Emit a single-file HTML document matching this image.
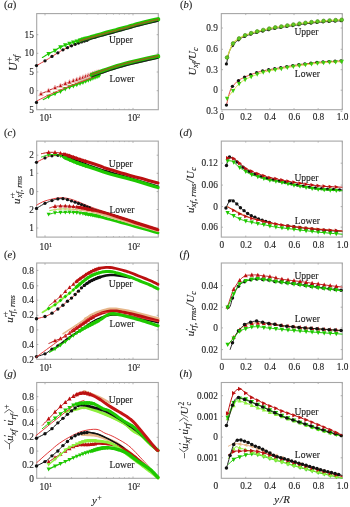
<!DOCTYPE html>
<html><head><meta charset="utf-8"><style>
html,body{margin:0;padding:0;background:#fff;}
svg{display:block;filter:blur(0.35px);}
text{font-family:"Liberation Serif",serif;fill:#1c1c1c;stroke:#1c1c1c;stroke-width:0.12px;}
</style></head><body>
<svg width="350" height="507" viewBox="0 0 350 507">
<rect width="350" height="507" fill="#fff"/>
<rect x="36.7" y="13.6" width="121.60000000000001" height="96.10000000000001" fill="none" stroke="#a6a6a6" stroke-width="1.1"/><rect x="221.3" y="13.6" width="121.0" height="96.10000000000001" fill="none" stroke="#a6a6a6" stroke-width="1.1"/><line x1="45.00" y1="109.7" x2="45.00" y2="107.9" stroke="#a6a6a6" stroke-width="0.8"/><line x1="45.00" y1="13.6" x2="45.00" y2="15.4" stroke="#a6a6a6" stroke-width="0.8"/><line x1="71.49" y1="109.7" x2="71.49" y2="108.7" stroke="#a6a6a6" stroke-width="0.8"/><line x1="71.49" y1="13.6" x2="71.49" y2="14.6" stroke="#a6a6a6" stroke-width="0.8"/><line x1="86.99" y1="109.7" x2="86.99" y2="108.7" stroke="#a6a6a6" stroke-width="0.8"/><line x1="86.99" y1="13.6" x2="86.99" y2="14.6" stroke="#a6a6a6" stroke-width="0.8"/><line x1="97.98" y1="109.7" x2="97.98" y2="108.7" stroke="#a6a6a6" stroke-width="0.8"/><line x1="97.98" y1="13.6" x2="97.98" y2="14.6" stroke="#a6a6a6" stroke-width="0.8"/><line x1="106.51" y1="109.7" x2="106.51" y2="108.7" stroke="#a6a6a6" stroke-width="0.8"/><line x1="106.51" y1="13.6" x2="106.51" y2="14.6" stroke="#a6a6a6" stroke-width="0.8"/><line x1="113.48" y1="109.7" x2="113.48" y2="108.7" stroke="#a6a6a6" stroke-width="0.8"/><line x1="113.48" y1="13.6" x2="113.48" y2="14.6" stroke="#a6a6a6" stroke-width="0.8"/><line x1="119.37" y1="109.7" x2="119.37" y2="108.7" stroke="#a6a6a6" stroke-width="0.8"/><line x1="119.37" y1="13.6" x2="119.37" y2="14.6" stroke="#a6a6a6" stroke-width="0.8"/><line x1="124.47" y1="109.7" x2="124.47" y2="108.7" stroke="#a6a6a6" stroke-width="0.8"/><line x1="124.47" y1="13.6" x2="124.47" y2="14.6" stroke="#a6a6a6" stroke-width="0.8"/><line x1="128.97" y1="109.7" x2="128.97" y2="108.7" stroke="#a6a6a6" stroke-width="0.8"/><line x1="128.97" y1="13.6" x2="128.97" y2="14.6" stroke="#a6a6a6" stroke-width="0.8"/><line x1="133.00" y1="109.7" x2="133.00" y2="107.9" stroke="#a6a6a6" stroke-width="0.8"/><line x1="133.00" y1="13.6" x2="133.00" y2="15.4" stroke="#a6a6a6" stroke-width="0.8"/><line x1="245.74" y1="109.7" x2="245.74" y2="108.2" stroke="#a6a6a6" stroke-width="0.8"/><line x1="245.74" y1="13.6" x2="245.74" y2="15.1" stroke="#a6a6a6" stroke-width="0.8"/><line x1="269.88" y1="109.7" x2="269.88" y2="108.2" stroke="#a6a6a6" stroke-width="0.8"/><line x1="269.88" y1="13.6" x2="269.88" y2="15.1" stroke="#a6a6a6" stroke-width="0.8"/><line x1="294.02" y1="109.7" x2="294.02" y2="108.2" stroke="#a6a6a6" stroke-width="0.8"/><line x1="294.02" y1="13.6" x2="294.02" y2="15.1" stroke="#a6a6a6" stroke-width="0.8"/><line x1="318.16" y1="109.7" x2="318.16" y2="108.2" stroke="#a6a6a6" stroke-width="0.8"/><line x1="318.16" y1="13.6" x2="318.16" y2="15.1" stroke="#a6a6a6" stroke-width="0.8"/><line x1="342.30" y1="109.7" x2="342.30" y2="108.2" stroke="#a6a6a6" stroke-width="0.8"/><line x1="342.30" y1="13.6" x2="342.30" y2="15.1" stroke="#a6a6a6" stroke-width="0.8"/><rect x="36.7" y="141.1" width="121.60000000000001" height="96.0" fill="none" stroke="#a6a6a6" stroke-width="1.1"/><rect x="221.3" y="141.1" width="121.0" height="96.0" fill="none" stroke="#a6a6a6" stroke-width="1.1"/><line x1="45.00" y1="237.1" x2="45.00" y2="235.29999999999998" stroke="#a6a6a6" stroke-width="0.8"/><line x1="45.00" y1="141.1" x2="45.00" y2="142.9" stroke="#a6a6a6" stroke-width="0.8"/><line x1="71.49" y1="237.1" x2="71.49" y2="236.1" stroke="#a6a6a6" stroke-width="0.8"/><line x1="71.49" y1="141.1" x2="71.49" y2="142.1" stroke="#a6a6a6" stroke-width="0.8"/><line x1="86.99" y1="237.1" x2="86.99" y2="236.1" stroke="#a6a6a6" stroke-width="0.8"/><line x1="86.99" y1="141.1" x2="86.99" y2="142.1" stroke="#a6a6a6" stroke-width="0.8"/><line x1="97.98" y1="237.1" x2="97.98" y2="236.1" stroke="#a6a6a6" stroke-width="0.8"/><line x1="97.98" y1="141.1" x2="97.98" y2="142.1" stroke="#a6a6a6" stroke-width="0.8"/><line x1="106.51" y1="237.1" x2="106.51" y2="236.1" stroke="#a6a6a6" stroke-width="0.8"/><line x1="106.51" y1="141.1" x2="106.51" y2="142.1" stroke="#a6a6a6" stroke-width="0.8"/><line x1="113.48" y1="237.1" x2="113.48" y2="236.1" stroke="#a6a6a6" stroke-width="0.8"/><line x1="113.48" y1="141.1" x2="113.48" y2="142.1" stroke="#a6a6a6" stroke-width="0.8"/><line x1="119.37" y1="237.1" x2="119.37" y2="236.1" stroke="#a6a6a6" stroke-width="0.8"/><line x1="119.37" y1="141.1" x2="119.37" y2="142.1" stroke="#a6a6a6" stroke-width="0.8"/><line x1="124.47" y1="237.1" x2="124.47" y2="236.1" stroke="#a6a6a6" stroke-width="0.8"/><line x1="124.47" y1="141.1" x2="124.47" y2="142.1" stroke="#a6a6a6" stroke-width="0.8"/><line x1="128.97" y1="237.1" x2="128.97" y2="236.1" stroke="#a6a6a6" stroke-width="0.8"/><line x1="128.97" y1="141.1" x2="128.97" y2="142.1" stroke="#a6a6a6" stroke-width="0.8"/><line x1="133.00" y1="237.1" x2="133.00" y2="235.29999999999998" stroke="#a6a6a6" stroke-width="0.8"/><line x1="133.00" y1="141.1" x2="133.00" y2="142.9" stroke="#a6a6a6" stroke-width="0.8"/><line x1="245.74" y1="237.1" x2="245.74" y2="235.6" stroke="#a6a6a6" stroke-width="0.8"/><line x1="245.74" y1="141.1" x2="245.74" y2="142.6" stroke="#a6a6a6" stroke-width="0.8"/><line x1="269.88" y1="237.1" x2="269.88" y2="235.6" stroke="#a6a6a6" stroke-width="0.8"/><line x1="269.88" y1="141.1" x2="269.88" y2="142.6" stroke="#a6a6a6" stroke-width="0.8"/><line x1="294.02" y1="237.1" x2="294.02" y2="235.6" stroke="#a6a6a6" stroke-width="0.8"/><line x1="294.02" y1="141.1" x2="294.02" y2="142.6" stroke="#a6a6a6" stroke-width="0.8"/><line x1="318.16" y1="237.1" x2="318.16" y2="235.6" stroke="#a6a6a6" stroke-width="0.8"/><line x1="318.16" y1="141.1" x2="318.16" y2="142.6" stroke="#a6a6a6" stroke-width="0.8"/><line x1="342.30" y1="237.1" x2="342.30" y2="235.6" stroke="#a6a6a6" stroke-width="0.8"/><line x1="342.30" y1="141.1" x2="342.30" y2="142.6" stroke="#a6a6a6" stroke-width="0.8"/><rect x="36.7" y="263.0" width="121.60000000000001" height="96.30000000000001" fill="none" stroke="#a6a6a6" stroke-width="1.1"/><rect x="221.3" y="263.0" width="121.0" height="96.30000000000001" fill="none" stroke="#a6a6a6" stroke-width="1.1"/><line x1="45.00" y1="359.3" x2="45.00" y2="357.5" stroke="#a6a6a6" stroke-width="0.8"/><line x1="45.00" y1="263.0" x2="45.00" y2="264.8" stroke="#a6a6a6" stroke-width="0.8"/><line x1="71.49" y1="359.3" x2="71.49" y2="358.3" stroke="#a6a6a6" stroke-width="0.8"/><line x1="71.49" y1="263.0" x2="71.49" y2="264.0" stroke="#a6a6a6" stroke-width="0.8"/><line x1="86.99" y1="359.3" x2="86.99" y2="358.3" stroke="#a6a6a6" stroke-width="0.8"/><line x1="86.99" y1="263.0" x2="86.99" y2="264.0" stroke="#a6a6a6" stroke-width="0.8"/><line x1="97.98" y1="359.3" x2="97.98" y2="358.3" stroke="#a6a6a6" stroke-width="0.8"/><line x1="97.98" y1="263.0" x2="97.98" y2="264.0" stroke="#a6a6a6" stroke-width="0.8"/><line x1="106.51" y1="359.3" x2="106.51" y2="358.3" stroke="#a6a6a6" stroke-width="0.8"/><line x1="106.51" y1="263.0" x2="106.51" y2="264.0" stroke="#a6a6a6" stroke-width="0.8"/><line x1="113.48" y1="359.3" x2="113.48" y2="358.3" stroke="#a6a6a6" stroke-width="0.8"/><line x1="113.48" y1="263.0" x2="113.48" y2="264.0" stroke="#a6a6a6" stroke-width="0.8"/><line x1="119.37" y1="359.3" x2="119.37" y2="358.3" stroke="#a6a6a6" stroke-width="0.8"/><line x1="119.37" y1="263.0" x2="119.37" y2="264.0" stroke="#a6a6a6" stroke-width="0.8"/><line x1="124.47" y1="359.3" x2="124.47" y2="358.3" stroke="#a6a6a6" stroke-width="0.8"/><line x1="124.47" y1="263.0" x2="124.47" y2="264.0" stroke="#a6a6a6" stroke-width="0.8"/><line x1="128.97" y1="359.3" x2="128.97" y2="358.3" stroke="#a6a6a6" stroke-width="0.8"/><line x1="128.97" y1="263.0" x2="128.97" y2="264.0" stroke="#a6a6a6" stroke-width="0.8"/><line x1="133.00" y1="359.3" x2="133.00" y2="357.5" stroke="#a6a6a6" stroke-width="0.8"/><line x1="133.00" y1="263.0" x2="133.00" y2="264.8" stroke="#a6a6a6" stroke-width="0.8"/><line x1="245.74" y1="359.3" x2="245.74" y2="357.8" stroke="#a6a6a6" stroke-width="0.8"/><line x1="245.74" y1="263.0" x2="245.74" y2="264.5" stroke="#a6a6a6" stroke-width="0.8"/><line x1="269.88" y1="359.3" x2="269.88" y2="357.8" stroke="#a6a6a6" stroke-width="0.8"/><line x1="269.88" y1="263.0" x2="269.88" y2="264.5" stroke="#a6a6a6" stroke-width="0.8"/><line x1="294.02" y1="359.3" x2="294.02" y2="357.8" stroke="#a6a6a6" stroke-width="0.8"/><line x1="294.02" y1="263.0" x2="294.02" y2="264.5" stroke="#a6a6a6" stroke-width="0.8"/><line x1="318.16" y1="359.3" x2="318.16" y2="357.8" stroke="#a6a6a6" stroke-width="0.8"/><line x1="318.16" y1="263.0" x2="318.16" y2="264.5" stroke="#a6a6a6" stroke-width="0.8"/><line x1="342.30" y1="359.3" x2="342.30" y2="357.8" stroke="#a6a6a6" stroke-width="0.8"/><line x1="342.30" y1="263.0" x2="342.30" y2="264.5" stroke="#a6a6a6" stroke-width="0.8"/><rect x="36.7" y="382.5" width="121.60000000000001" height="95.80000000000001" fill="none" stroke="#a6a6a6" stroke-width="1.1"/><rect x="221.3" y="382.5" width="121.0" height="95.80000000000001" fill="none" stroke="#a6a6a6" stroke-width="1.1"/><line x1="45.00" y1="478.3" x2="45.00" y2="476.5" stroke="#a6a6a6" stroke-width="0.8"/><line x1="45.00" y1="382.5" x2="45.00" y2="384.3" stroke="#a6a6a6" stroke-width="0.8"/><line x1="71.49" y1="478.3" x2="71.49" y2="477.3" stroke="#a6a6a6" stroke-width="0.8"/><line x1="71.49" y1="382.5" x2="71.49" y2="383.5" stroke="#a6a6a6" stroke-width="0.8"/><line x1="86.99" y1="478.3" x2="86.99" y2="477.3" stroke="#a6a6a6" stroke-width="0.8"/><line x1="86.99" y1="382.5" x2="86.99" y2="383.5" stroke="#a6a6a6" stroke-width="0.8"/><line x1="97.98" y1="478.3" x2="97.98" y2="477.3" stroke="#a6a6a6" stroke-width="0.8"/><line x1="97.98" y1="382.5" x2="97.98" y2="383.5" stroke="#a6a6a6" stroke-width="0.8"/><line x1="106.51" y1="478.3" x2="106.51" y2="477.3" stroke="#a6a6a6" stroke-width="0.8"/><line x1="106.51" y1="382.5" x2="106.51" y2="383.5" stroke="#a6a6a6" stroke-width="0.8"/><line x1="113.48" y1="478.3" x2="113.48" y2="477.3" stroke="#a6a6a6" stroke-width="0.8"/><line x1="113.48" y1="382.5" x2="113.48" y2="383.5" stroke="#a6a6a6" stroke-width="0.8"/><line x1="119.37" y1="478.3" x2="119.37" y2="477.3" stroke="#a6a6a6" stroke-width="0.8"/><line x1="119.37" y1="382.5" x2="119.37" y2="383.5" stroke="#a6a6a6" stroke-width="0.8"/><line x1="124.47" y1="478.3" x2="124.47" y2="477.3" stroke="#a6a6a6" stroke-width="0.8"/><line x1="124.47" y1="382.5" x2="124.47" y2="383.5" stroke="#a6a6a6" stroke-width="0.8"/><line x1="128.97" y1="478.3" x2="128.97" y2="477.3" stroke="#a6a6a6" stroke-width="0.8"/><line x1="128.97" y1="382.5" x2="128.97" y2="383.5" stroke="#a6a6a6" stroke-width="0.8"/><line x1="133.00" y1="478.3" x2="133.00" y2="476.5" stroke="#a6a6a6" stroke-width="0.8"/><line x1="133.00" y1="382.5" x2="133.00" y2="384.3" stroke="#a6a6a6" stroke-width="0.8"/><line x1="245.74" y1="478.3" x2="245.74" y2="476.8" stroke="#a6a6a6" stroke-width="0.8"/><line x1="245.74" y1="382.5" x2="245.74" y2="384.0" stroke="#a6a6a6" stroke-width="0.8"/><line x1="269.88" y1="478.3" x2="269.88" y2="476.8" stroke="#a6a6a6" stroke-width="0.8"/><line x1="269.88" y1="382.5" x2="269.88" y2="384.0" stroke="#a6a6a6" stroke-width="0.8"/><line x1="294.02" y1="478.3" x2="294.02" y2="476.8" stroke="#a6a6a6" stroke-width="0.8"/><line x1="294.02" y1="382.5" x2="294.02" y2="384.0" stroke="#a6a6a6" stroke-width="0.8"/><line x1="318.16" y1="478.3" x2="318.16" y2="476.8" stroke="#a6a6a6" stroke-width="0.8"/><line x1="318.16" y1="382.5" x2="318.16" y2="384.0" stroke="#a6a6a6" stroke-width="0.8"/><line x1="342.30" y1="478.3" x2="342.30" y2="476.8" stroke="#a6a6a6" stroke-width="0.8"/><line x1="342.30" y1="382.5" x2="342.30" y2="384.0" stroke="#a6a6a6" stroke-width="0.8"/><text x="39.6" y="121.4" font-size="9.3">10<tspan dy="-3.3" font-size="6.2">1</tspan></text><text x="127.8" y="121.4" font-size="9.3">10<tspan dy="-3.3" font-size="6.2">2</tspan></text><text x="221.8" y="120.2" font-size="9.3" text-anchor="middle" >0</text><text x="246.04000000000002" y="120.2" font-size="9.3" text-anchor="middle" >0.2</text><text x="270.18" y="120.2" font-size="9.3" text-anchor="middle" >0.4</text><text x="294.32" y="120.2" font-size="9.3" text-anchor="middle" >0.6</text><text x="318.46" y="120.2" font-size="9.3" text-anchor="middle" >0.8</text><text x="342.6" y="120.2" font-size="9.3" text-anchor="middle" >1.0</text><text x="39.6" y="249.9" font-size="9.3">10<tspan dy="-3.3" font-size="6.2">1</tspan></text><text x="127.8" y="249.9" font-size="9.3">10<tspan dy="-3.3" font-size="6.2">2</tspan></text><text x="221.8" y="247.6" font-size="9.3" text-anchor="middle" >0</text><text x="246.04000000000002" y="247.6" font-size="9.3" text-anchor="middle" >0.2</text><text x="270.18" y="247.6" font-size="9.3" text-anchor="middle" >0.4</text><text x="294.32" y="247.6" font-size="9.3" text-anchor="middle" >0.6</text><text x="318.46" y="247.6" font-size="9.3" text-anchor="middle" >0.8</text><text x="342.6" y="247.6" font-size="9.3" text-anchor="middle" >1.0</text><text x="39.6" y="371.1" font-size="9.3">10<tspan dy="-3.3" font-size="6.2">1</tspan></text><text x="127.8" y="371.1" font-size="9.3">10<tspan dy="-3.3" font-size="6.2">2</tspan></text><text x="221.8" y="370.0" font-size="9.3" text-anchor="middle" >0</text><text x="246.04000000000002" y="370.0" font-size="9.3" text-anchor="middle" >0.2</text><text x="270.18" y="370.0" font-size="9.3" text-anchor="middle" >0.4</text><text x="294.32" y="370.0" font-size="9.3" text-anchor="middle" >0.6</text><text x="318.46" y="370.0" font-size="9.3" text-anchor="middle" >0.8</text><text x="342.6" y="370.0" font-size="9.3" text-anchor="middle" >1.0</text><text x="39.6" y="490.3" font-size="9.3">10<tspan dy="-3.3" font-size="6.2">1</tspan></text><text x="127.8" y="490.3" font-size="9.3">10<tspan dy="-3.3" font-size="6.2">2</tspan></text><text x="215.8" y="488.6" font-size="9.3" text-anchor="middle" >0</text><text x="246.04000000000002" y="488.6" font-size="9.3" text-anchor="middle" >0.2</text><text x="270.18" y="488.6" font-size="9.3" text-anchor="middle" >0.4</text><text x="294.32" y="488.6" font-size="9.3" text-anchor="middle" >0.6</text><text x="318.46" y="488.6" font-size="9.3" text-anchor="middle" >0.8</text><text x="342.6" y="488.6" font-size="9.3" text-anchor="middle" >1.0</text><text x="3.9" y="7.7" font-size="10.6">(<tspan font-style="italic">a</tspan>)</text><text x="179.9" y="7.7" font-size="10.6">(<tspan font-style="italic">b</tspan>)</text><text x="3.9" y="135.8" font-size="10.6">(<tspan font-style="italic">c</tspan>)</text><text x="179.6" y="135.8" font-size="10.6">(<tspan font-style="italic">d</tspan>)</text><text x="3.9" y="257.5" font-size="10.6">(<tspan font-style="italic">e</tspan>)</text><text x="179.6" y="257.5" font-size="10.6">(<tspan font-style="italic">f</tspan>)</text><text x="3.9" y="376.8" font-size="10.6">(<tspan font-style="italic">g</tspan>)</text><text x="179.6" y="376.8" font-size="10.6">(<tspan font-style="italic">h</tspan>)</text><text x="33.8" y="37.800000000000004" font-size="9.3" text-anchor="end" >15</text><line x1="36.7" y1="34.7" x2="38.300000000000004" y2="34.7" stroke="#a6a6a6" stroke-width="0.9"/><line x1="158.3" y1="34.7" x2="156.70000000000002" y2="34.7" stroke="#a6a6a6" stroke-width="0.9"/><text x="33.8" y="56.4" font-size="9.3" text-anchor="end" >10</text><line x1="36.7" y1="53.3" x2="38.300000000000004" y2="53.3" stroke="#a6a6a6" stroke-width="0.9"/><line x1="158.3" y1="53.3" x2="156.70000000000002" y2="53.3" stroke="#a6a6a6" stroke-width="0.9"/><text x="33.8" y="75.1" font-size="9.3" text-anchor="end" >5</text><line x1="36.7" y1="72.0" x2="38.300000000000004" y2="72.0" stroke="#a6a6a6" stroke-width="0.9"/><line x1="158.3" y1="72.0" x2="156.70000000000002" y2="72.0" stroke="#a6a6a6" stroke-width="0.9"/><text x="33.8" y="93.8" font-size="9.3" text-anchor="end" >0</text><line x1="36.7" y1="90.7" x2="38.300000000000004" y2="90.7" stroke="#a6a6a6" stroke-width="0.9"/><line x1="158.3" y1="90.7" x2="156.70000000000002" y2="90.7" stroke="#a6a6a6" stroke-width="0.9"/><text x="33.8" y="112.5" font-size="9.3" text-anchor="end" >5</text><text x="33.8" y="158.29999999999998" font-size="9.3" text-anchor="end" >2</text><line x1="36.7" y1="155.2" x2="38.300000000000004" y2="155.2" stroke="#a6a6a6" stroke-width="0.9"/><line x1="158.3" y1="155.2" x2="156.70000000000002" y2="155.2" stroke="#a6a6a6" stroke-width="0.9"/><text x="33.8" y="176.4" font-size="9.3" text-anchor="end" >1</text><line x1="36.7" y1="173.3" x2="38.300000000000004" y2="173.3" stroke="#a6a6a6" stroke-width="0.9"/><line x1="158.3" y1="173.3" x2="156.70000000000002" y2="173.3" stroke="#a6a6a6" stroke-width="0.9"/><text x="33.8" y="194.7" font-size="9.3" text-anchor="end" >0</text><line x1="36.7" y1="191.6" x2="38.300000000000004" y2="191.6" stroke="#a6a6a6" stroke-width="0.9"/><line x1="158.3" y1="191.6" x2="156.70000000000002" y2="191.6" stroke="#a6a6a6" stroke-width="0.9"/><text x="33.8" y="212.6" font-size="9.3" text-anchor="end" >2</text><line x1="36.7" y1="209.5" x2="38.300000000000004" y2="209.5" stroke="#a6a6a6" stroke-width="0.9"/><line x1="158.3" y1="209.5" x2="156.70000000000002" y2="209.5" stroke="#a6a6a6" stroke-width="0.9"/><text x="33.8" y="231.1" font-size="9.3" text-anchor="end" >1</text><line x1="36.7" y1="228.0" x2="38.300000000000004" y2="228.0" stroke="#a6a6a6" stroke-width="0.9"/><line x1="158.3" y1="228.0" x2="156.70000000000002" y2="228.0" stroke="#a6a6a6" stroke-width="0.9"/><text x="33.8" y="273.5" font-size="9.3" text-anchor="end" >0.8</text><line x1="36.7" y1="270.4" x2="38.300000000000004" y2="270.4" stroke="#a6a6a6" stroke-width="0.9"/><line x1="158.3" y1="270.4" x2="156.70000000000002" y2="270.4" stroke="#a6a6a6" stroke-width="0.9"/><text x="33.8" y="288.90000000000003" font-size="9.3" text-anchor="end" >0.6</text><line x1="36.7" y1="285.8" x2="38.300000000000004" y2="285.8" stroke="#a6a6a6" stroke-width="0.9"/><line x1="158.3" y1="285.8" x2="156.70000000000002" y2="285.8" stroke="#a6a6a6" stroke-width="0.9"/><text x="33.8" y="303.3" font-size="9.3" text-anchor="end" >0.4</text><line x1="36.7" y1="300.2" x2="38.300000000000004" y2="300.2" stroke="#a6a6a6" stroke-width="0.9"/><line x1="158.3" y1="300.2" x2="156.70000000000002" y2="300.2" stroke="#a6a6a6" stroke-width="0.9"/><text x="33.8" y="318.40000000000003" font-size="9.3" text-anchor="end" >0.2</text><line x1="36.7" y1="315.3" x2="38.300000000000004" y2="315.3" stroke="#a6a6a6" stroke-width="0.9"/><line x1="158.3" y1="315.3" x2="156.70000000000002" y2="315.3" stroke="#a6a6a6" stroke-width="0.9"/><text x="33.8" y="333.0" font-size="9.3" text-anchor="end" >0</text><line x1="36.7" y1="329.9" x2="38.300000000000004" y2="329.9" stroke="#a6a6a6" stroke-width="0.9"/><line x1="158.3" y1="329.9" x2="156.70000000000002" y2="329.9" stroke="#a6a6a6" stroke-width="0.9"/><text x="33.8" y="347.6" font-size="9.3" text-anchor="end" >0.4</text><line x1="36.7" y1="344.5" x2="38.300000000000004" y2="344.5" stroke="#a6a6a6" stroke-width="0.9"/><line x1="158.3" y1="344.5" x2="156.70000000000002" y2="344.5" stroke="#a6a6a6" stroke-width="0.9"/><text x="33.8" y="362.6" font-size="9.3" text-anchor="end" >0.2</text><text x="33.8" y="399.8" font-size="9.3" text-anchor="end" >0.8</text><line x1="36.7" y1="396.7" x2="38.300000000000004" y2="396.7" stroke="#a6a6a6" stroke-width="0.9"/><line x1="158.3" y1="396.7" x2="156.70000000000002" y2="396.7" stroke="#a6a6a6" stroke-width="0.9"/><text x="33.8" y="413.0" font-size="9.3" text-anchor="end" >0.6</text><line x1="36.7" y1="409.9" x2="38.300000000000004" y2="409.9" stroke="#a6a6a6" stroke-width="0.9"/><line x1="158.3" y1="409.9" x2="156.70000000000002" y2="409.9" stroke="#a6a6a6" stroke-width="0.9"/><text x="33.8" y="426.40000000000003" font-size="9.3" text-anchor="end" >0.4</text><line x1="36.7" y1="423.3" x2="38.300000000000004" y2="423.3" stroke="#a6a6a6" stroke-width="0.9"/><line x1="158.3" y1="423.3" x2="156.70000000000002" y2="423.3" stroke="#a6a6a6" stroke-width="0.9"/><text x="33.8" y="440.40000000000003" font-size="9.3" text-anchor="end" >0.2</text><line x1="36.7" y1="437.3" x2="38.300000000000004" y2="437.3" stroke="#a6a6a6" stroke-width="0.9"/><line x1="158.3" y1="437.3" x2="156.70000000000002" y2="437.3" stroke="#a6a6a6" stroke-width="0.9"/><text x="33.8" y="454.20000000000005" font-size="9.3" text-anchor="end" >0</text><line x1="36.7" y1="451.1" x2="38.300000000000004" y2="451.1" stroke="#a6a6a6" stroke-width="0.9"/><line x1="158.3" y1="451.1" x2="156.70000000000002" y2="451.1" stroke="#a6a6a6" stroke-width="0.9"/><text x="33.8" y="467.90000000000003" font-size="9.3" text-anchor="end" >0.2</text><line x1="36.7" y1="464.8" x2="38.300000000000004" y2="464.8" stroke="#a6a6a6" stroke-width="0.9"/><line x1="158.3" y1="464.8" x2="156.70000000000002" y2="464.8" stroke="#a6a6a6" stroke-width="0.9"/><text x="33.8" y="482.1" font-size="9.3" text-anchor="end" >0</text><text x="217.8" y="31.1" font-size="9.3" text-anchor="end" >0.9</text><line x1="221.3" y1="28.0" x2="222.9" y2="28.0" stroke="#a6a6a6" stroke-width="0.9"/><line x1="342.3" y1="28.0" x2="340.7" y2="28.0" stroke="#a6a6a6" stroke-width="0.9"/><text x="217.8" y="52.4" font-size="9.3" text-anchor="end" >0.6</text><line x1="221.3" y1="49.3" x2="222.9" y2="49.3" stroke="#a6a6a6" stroke-width="0.9"/><line x1="342.3" y1="49.3" x2="340.7" y2="49.3" stroke="#a6a6a6" stroke-width="0.9"/><text x="217.8" y="72.8" font-size="9.3" text-anchor="end" >0.3</text><line x1="221.3" y1="69.7" x2="222.9" y2="69.7" stroke="#a6a6a6" stroke-width="0.9"/><line x1="342.3" y1="69.7" x2="340.7" y2="69.7" stroke="#a6a6a6" stroke-width="0.9"/><text x="217.8" y="93.3" font-size="9.3" text-anchor="end" >0</text><line x1="221.3" y1="90.2" x2="222.9" y2="90.2" stroke="#a6a6a6" stroke-width="0.9"/><line x1="342.3" y1="90.2" x2="340.7" y2="90.2" stroke="#a6a6a6" stroke-width="0.9"/><text x="217.8" y="114.39999999999999" font-size="9.3" text-anchor="end" >0.3</text><line x1="221.3" y1="111.3" x2="222.9" y2="111.3" stroke="#a6a6a6" stroke-width="0.9"/><line x1="342.3" y1="111.3" x2="340.7" y2="111.3" stroke="#a6a6a6" stroke-width="0.9"/><text x="217.8" y="166.29999999999998" font-size="9.3" text-anchor="end" >0.12</text><line x1="221.3" y1="163.2" x2="222.9" y2="163.2" stroke="#a6a6a6" stroke-width="0.9"/><line x1="342.3" y1="163.2" x2="340.7" y2="163.2" stroke="#a6a6a6" stroke-width="0.9"/><text x="217.8" y="188.2" font-size="9.3" text-anchor="end" >0.06</text><line x1="221.3" y1="185.1" x2="222.9" y2="185.1" stroke="#a6a6a6" stroke-width="0.9"/><line x1="342.3" y1="185.1" x2="340.7" y2="185.1" stroke="#a6a6a6" stroke-width="0.9"/><text x="217.8" y="209.7" font-size="9.3" text-anchor="end" >0</text><line x1="221.3" y1="206.6" x2="222.9" y2="206.6" stroke="#a6a6a6" stroke-width="0.9"/><line x1="342.3" y1="206.6" x2="340.7" y2="206.6" stroke="#a6a6a6" stroke-width="0.9"/><text x="217.8" y="230.29999999999998" font-size="9.3" text-anchor="end" >0.06</text><line x1="221.3" y1="227.2" x2="222.9" y2="227.2" stroke="#a6a6a6" stroke-width="0.9"/><line x1="342.3" y1="227.2" x2="340.7" y2="227.2" stroke="#a6a6a6" stroke-width="0.9"/><text x="217.8" y="288.70000000000005" font-size="9.3" text-anchor="end" >0.04</text><line x1="221.3" y1="285.6" x2="222.9" y2="285.6" stroke="#a6a6a6" stroke-width="0.9"/><line x1="342.3" y1="285.6" x2="340.7" y2="285.6" stroke="#a6a6a6" stroke-width="0.9"/><text x="217.8" y="310.3" font-size="9.3" text-anchor="end" >0.02</text><line x1="221.3" y1="307.2" x2="222.9" y2="307.2" stroke="#a6a6a6" stroke-width="0.9"/><line x1="342.3" y1="307.2" x2="340.7" y2="307.2" stroke="#a6a6a6" stroke-width="0.9"/><text x="217.8" y="331.0" font-size="9.3" text-anchor="end" >0</text><line x1="221.3" y1="327.9" x2="222.9" y2="327.9" stroke="#a6a6a6" stroke-width="0.9"/><line x1="342.3" y1="327.9" x2="340.7" y2="327.9" stroke="#a6a6a6" stroke-width="0.9"/><text x="217.8" y="352.70000000000005" font-size="9.3" text-anchor="end" >0.02</text><line x1="221.3" y1="349.6" x2="222.9" y2="349.6" stroke="#a6a6a6" stroke-width="0.9"/><line x1="342.3" y1="349.6" x2="340.7" y2="349.6" stroke="#a6a6a6" stroke-width="0.9"/><text x="217.8" y="398.8" font-size="9.3" text-anchor="end" >0.002</text><line x1="221.3" y1="395.7" x2="222.9" y2="395.7" stroke="#a6a6a6" stroke-width="0.9"/><line x1="342.3" y1="395.7" x2="340.7" y2="395.7" stroke="#a6a6a6" stroke-width="0.9"/><text x="217.8" y="419.5" font-size="9.3" text-anchor="end" >0.001</text><line x1="221.3" y1="416.4" x2="222.9" y2="416.4" stroke="#a6a6a6" stroke-width="0.9"/><line x1="342.3" y1="416.4" x2="340.7" y2="416.4" stroke="#a6a6a6" stroke-width="0.9"/><text x="217.8" y="440.20000000000005" font-size="9.3" text-anchor="end" >0</text><line x1="221.3" y1="437.1" x2="222.9" y2="437.1" stroke="#a6a6a6" stroke-width="0.9"/><line x1="342.3" y1="437.1" x2="340.7" y2="437.1" stroke="#a6a6a6" stroke-width="0.9"/><text x="217.8" y="460.90000000000003" font-size="9.3" text-anchor="end" >0.001</text><line x1="221.3" y1="457.8" x2="222.9" y2="457.8" stroke="#a6a6a6" stroke-width="0.9"/><line x1="342.3" y1="457.8" x2="340.7" y2="457.8" stroke="#a6a6a6" stroke-width="0.9"/><text x="108.9" y="42.6" font-size="9.6" text-anchor="start" >Upper</text><text x="109.4" y="81.9" font-size="9.6" text-anchor="start" >Lower</text><text x="294.4" y="35.2" font-size="9.6" text-anchor="start" >Upper</text><text x="294.79999999999995" y="77.3" font-size="9.6" text-anchor="start" >Lower</text><text x="108.80000000000001" y="166.9" font-size="9.6" text-anchor="start" >Upper</text><text x="109.4" y="212.9" font-size="9.6" text-anchor="start" >Lower</text><text x="294.4" y="180.5" font-size="9.6" text-anchor="start" >Upper</text><text x="294.79999999999995" y="224.2" font-size="9.6" text-anchor="start" >Lower</text><text x="108.80000000000001" y="287.1" font-size="9.6" text-anchor="start" >Upper</text><text x="109.4" y="326.9" font-size="9.6" text-anchor="start" >Lower</text><text x="294.4" y="279.1" font-size="9.6" text-anchor="start" >Upper</text><text x="294.79999999999995" y="321.5" font-size="9.6" text-anchor="start" >Lower</text><text x="108.80000000000001" y="402.7" font-size="9.6" text-anchor="start" >Upper</text><text x="109.4" y="467.9" font-size="9.6" text-anchor="start" >Lower</text><text x="294.4" y="414.9" font-size="9.6" text-anchor="start" >Upper</text><text x="294.79999999999995" y="457.7" font-size="9.6" text-anchor="start" >Lower</text><text transform="translate(16.6,71.1) rotate(-90)" x="0" y="0" font-size="12" font-style="italic">U<tspan dx="0.9" dy="-4.6" font-size="8" font-style="normal">+</tspan><tspan dx="-4.4" dy="7.3" font-size="8.8">xf</tspan></text><text transform="translate(195.6,75.5) rotate(-90)" x="0" y="0" font-size="11" font-style="italic">U<tspan dx="-0.3" dy="2.6" font-size="8">xf</tspan><tspan dy="-2.6">/U</tspan><tspan dy="2.6" font-size="8">c</tspan></text><text transform="translate(19.8,204.0) rotate(-90)" x="0" y="0" font-size="11" font-style="italic">u<tspan dx="0.2" dy="-1.4" font-size="8" font-style="normal">′</tspan><tspan dx="-0.3" dy="-3.0" font-size="7.5" font-style="normal">+</tspan><tspan dx="-5.0" dy="7.0" font-size="8">xf, rms</tspan></text><text transform="translate(194.1,212.9) rotate(-90)" x="0" y="0" font-size="11" font-style="italic">u<tspan dx="0.2" dy="-1.4" font-size="8" font-style="normal">′</tspan><tspan dx="-2.0" dy="3.2" font-size="8.8">xf, rms</tspan><tspan dx="0.8" dy="-1.8" font-size="11.5">/</tspan><tspan dx="0.6">U</tspan><tspan dx="0.2" dy="1.8" font-size="8">c</tspan></text><text transform="translate(12.6,322.8) rotate(-90)" x="0" y="0" font-size="11" font-style="italic">u<tspan dx="0.2" dy="-1.4" font-size="8" font-style="normal">′</tspan><tspan dx="-0.3" dy="-3.0" font-size="7.5" font-style="normal">+</tspan><tspan dx="-5.0" dy="7.0" font-size="8">rf, rms</tspan></text><text transform="translate(193.7,336.3) rotate(-90)" x="0" y="0" font-size="11" font-style="italic">u<tspan dx="0.2" dy="-1.4" font-size="8" font-style="normal">′</tspan><tspan dx="-2.0" dy="3.2" font-size="8.8">rf, rms</tspan><tspan dx="0.8" dy="-1.8" font-size="11.5">/</tspan><tspan dx="0.6">U</tspan><tspan dx="0.2" dy="1.8" font-size="8">c</tspan></text><text transform="translate(13.0,449.8) rotate(-90)" x="-0.3" y="0.2" font-size="11">−</text><path d="M13.60,440.50 L9.00,443.90 L4.40,440.50" fill="none" stroke="#333" stroke-width="0.75"/><text transform="translate(13.0,449.8) rotate(-90)" x="9.0" y="0" font-size="10.5" font-style="italic">u</text><text transform="translate(13.0,449.8) rotate(-90)" x="13.3" y="-3.2" font-size="8">′</text><text transform="translate(13.0,449.8) rotate(-90)" x="14.4" y="2.6" font-size="8.5" font-style="italic">xf</text><text transform="translate(13.0,449.8) rotate(-90)" x="24.2" y="0" font-size="10.5" font-style="italic">u</text><text transform="translate(13.0,449.8) rotate(-90)" x="28.5" y="-3.2" font-size="8">′</text><text transform="translate(13.0,449.8) rotate(-90)" x="30.2" y="2.6" font-size="8.5" font-style="italic">rf</text><path d="M13.60,412.80 L9.00,409.40 L4.40,412.80" fill="none" stroke="#333" stroke-width="0.75"/><text transform="translate(13.0,449.8) rotate(-90)" x="40.8" y="-4.4" font-size="8">+</text><text transform="translate(187.8,458.6) rotate(-90)" x="-0.3" y="0.2" font-size="11">−</text><path d="M188.40,448.60 L183.80,452.00 L179.20,448.60" fill="none" stroke="#333" stroke-width="0.75"/><text transform="translate(187.8,458.6) rotate(-90)" x="9.8" y="0" font-size="10.5" font-style="italic">u</text><text transform="translate(187.8,458.6) rotate(-90)" x="14.100000000000001" y="-3.2" font-size="8">′</text><text transform="translate(187.8,458.6) rotate(-90)" x="15.4" y="2.6" font-size="8.5" font-style="italic">xf</text><text transform="translate(187.8,458.6) rotate(-90)" x="24.0" y="0" font-size="10.5" font-style="italic">u</text><text transform="translate(187.8,458.6) rotate(-90)" x="28.3" y="-3.2" font-size="8">′</text><text transform="translate(187.8,458.6) rotate(-90)" x="29.8" y="2.6" font-size="8.5" font-style="italic">rf</text><path d="M188.40,421.30 L183.80,417.90 L179.20,421.30" fill="none" stroke="#333" stroke-width="0.75"/><text transform="translate(187.8,458.6) rotate(-90)" x="41.4" y="0" font-size="10.5" font-style="italic">/U</text><text transform="translate(187.8,458.6) rotate(-90)" x="53.0" y="-4.2" font-size="7.5">2</text><text transform="translate(187.8,458.6) rotate(-90)" x="53.0" y="2.8" font-size="7.5" font-style="italic">c</text><text x="92" y="503.7" font-size="11" font-style="italic">y<tspan baseline-shift="4" font-size="7.5">+</tspan></text><text x="274.2" y="502.9" font-size="11" font-style="italic" letter-spacing="0.6">y/R</text><path d="M36.5,65.6 L37.8,64.9 L39.5,63.9 L41.6,62.7 L43.7,61.6 L45.5,60.5 L47.0,59.6 L48.5,58.7 L49.9,57.8 L51.2,56.9 L52.5,56.1 L53.8,55.3 L55.0,54.6 L56.1,53.9 L57.3,53.2 L58.4,52.5 L59.4,51.9 L60.4,51.3 L61.4,50.7 L62.4,50.1 L63.6,49.5 L65.0,48.8 L66.5,48.1 L68.1,47.3 L69.8,46.6 L71.6,45.8 L73.5,45.0 L75.5,44.2 L77.6,43.4 L79.5,42.6 L81.3,42.0 L82.9,41.5 L84.5,41.0 L85.9,40.6 L87.1,40.2 L88.0,40.0" fill="none" stroke="#e23a3a" stroke-width="1.0" stroke-linejoin="round" stroke-linecap="round" opacity="1.0"/><circle cx="36.47" cy="65.60" r="1.65" fill="#111"/><circle cx="45.00" cy="60.79" r="1.65" fill="#111"/><circle cx="51.97" cy="56.43" r="1.65" fill="#111"/><circle cx="57.86" cy="52.82" r="1.65" fill="#111"/><circle cx="62.96" cy="49.83" r="1.65" fill="#111"/><circle cx="67.46" cy="47.63" r="1.65" fill="#111"/><circle cx="71.49" cy="45.85" r="1.65" fill="#111"/><circle cx="75.13" cy="44.35" r="1.65" fill="#111"/><circle cx="78.46" cy="43.05" r="1.65" fill="#111"/><circle cx="81.52" cy="41.93" r="1.65" fill="#111"/><circle cx="84.35" cy="41.02" r="1.65" fill="#111"/><circle cx="86.99" cy="40.28" r="1.65" fill="#111"/><path d="M42.4,57.4 L43.3,56.9 L44.5,56.2 L45.9,55.3 L47.4,54.5 L48.8,53.7 L50.1,53.0 L51.4,52.3 L52.7,51.7 L54.0,51.0 L55.2,50.4 L56.2,49.8 L57.0,49.2 L57.9,48.6 L58.8,48.0 L60.1,47.3 L61.8,46.6 L63.7,45.8 L65.8,45.0 L67.9,44.2 L70.0,43.5 L72.0,42.8 L74.1,42.1 L76.1,41.5 L78.1,40.9 L80.0,40.3 L81.9,39.7 L83.7,39.1 L85.5,38.6 L86.9,38.1 L88.0,37.8" fill="none" stroke="#1ec800" stroke-width="1.2" stroke-linejoin="round" stroke-linecap="round" opacity="1.0"/><path d="M48.64,56.43 L50.94,51.94 L46.34,51.94Z" fill="#1ec800"/><path d="M55.03,53.14 L57.33,48.64 L52.73,48.64Z" fill="#1ec800"/><path d="M60.50,49.77 L62.80,45.27 L58.20,45.27Z" fill="#1ec800"/><path d="M65.28,47.85 L67.58,43.35 L62.98,43.35Z" fill="#1ec800"/><path d="M69.53,46.31 L71.83,41.81 L67.23,41.81Z" fill="#1ec800"/><path d="M73.36,45.02 L75.66,40.53 L71.06,40.53Z" fill="#1ec800"/><path d="M76.83,43.93 L79.13,39.43 L74.53,39.43Z" fill="#1ec800"/><path d="M80.02,42.94 L82.32,38.44 L77.72,38.44Z" fill="#1ec800"/><path d="M82.96,42.01 L85.26,37.52 L80.66,37.52Z" fill="#1ec800"/><path d="M85.69,41.16 L87.99,36.67 L83.39,36.67Z" fill="#1ec800"/><path d="M80.0,40.8 L80.4,40.7 L81.0,40.5 L81.7,40.2 L82.7,39.9 L84.0,39.5 L85.7,39.0 L87.7,38.4 L90.0,37.7 L92.4,36.9 L95.0,36.2 L97.7,35.4 L100.7,34.6 L103.8,33.7 L106.9,32.8 L110.0,32.0 L113.0,31.2 L116.0,30.4 L119.0,29.5 L122.0,28.7 L125.0,27.9 L128.0,27.1 L130.9,26.2 L133.8,25.4 L136.8,24.5 L140.0,23.7 L143.7,22.8 L147.8,21.8 L152.0,20.8 L155.5,20.0 L158.0,19.4" fill="none" stroke="#1ec800" stroke-width="4.6" stroke-linejoin="round" stroke-linecap="round" opacity="1.0"/><path d="M80.0,40.8 L80.4,40.7 L81.0,40.5 L81.7,40.2 L82.7,39.9 L84.0,39.5 L85.7,39.0 L87.7,38.4 L90.0,37.7 L92.4,36.9 L95.0,36.2 L97.7,35.4 L100.7,34.6 L103.8,33.7 L106.9,32.8 L110.0,32.0 L113.0,31.2 L116.0,30.4 L119.0,29.5 L122.0,28.7 L125.0,27.9 L128.0,27.1 L130.9,26.2 L133.8,25.4 L136.8,24.5 L140.0,23.7 L143.7,22.8 L147.8,21.8 L152.0,20.8 L155.5,20.0 L158.0,19.4" fill="none" stroke="#8c6a18" stroke-width="1.6" stroke-linejoin="round" stroke-linecap="round" opacity="1.0"/><path d="M80.0,42.7 L80.4,42.6 L81.0,42.4 L81.7,42.1 L82.7,41.8 L84.0,41.4 L85.7,40.9 L87.7,40.3 L90.0,39.6 L92.4,38.8 L95.0,38.1 L97.7,37.3 L100.7,36.5 L103.8,35.6 L106.9,34.7 L110.0,33.9 L113.0,33.1 L116.0,32.3 L119.0,31.4 L122.0,30.6 L125.0,29.8 L128.0,29.0 L130.9,28.1 L133.8,27.3 L136.8,26.4 L140.0,25.6 L143.7,24.7 L147.8,23.7 L152.0,22.7 L155.5,21.9 L158.0,21.3" fill="none" stroke="#222" stroke-width="1.1" stroke-linejoin="round" stroke-linecap="round" opacity="1.0"/><path d="M43.3,99.6 L43.8,99.3 L44.5,98.9 L45.4,98.4 L46.3,97.9 L47.4,97.3 L48.6,96.7 L50.0,96.0 L51.4,95.3 L52.9,94.6 L54.3,93.9 L55.6,93.3 L56.9,92.8 L58.2,92.3 L59.5,91.7 L60.7,91.2 L61.9,90.6 L63.1,90.0 L64.2,89.4 L65.3,88.8 L66.3,88.3 L67.1,88.0 L67.7,87.8 L68.3,87.6 L69.2,87.3 L70.7,86.8 L73.0,86.0 L75.9,84.9 L79.1,83.7 L82.3,82.6 L85.0,81.5 L87.4,80.5 L89.5,79.6 L91.6,78.7 L93.4,78.0 L95.0,77.3 L96.4,76.8 L97.6,76.4 L98.6,76.0 L99.4,75.8 L100.0,75.6" fill="none" stroke="#1ec800" stroke-width="1.2" stroke-linejoin="round" stroke-linecap="round" opacity="1.0"/><path d="M48.64,99.31 L50.94,94.81 L46.34,94.81Z" fill="#1ec800"/><path d="M55.03,96.22 L57.33,91.72 L52.73,91.72Z" fill="#1ec800"/><path d="M60.50,93.94 L62.80,89.44 L58.20,89.44Z" fill="#1ec800"/><path d="M65.28,91.43 L67.58,86.94 L62.98,86.94Z" fill="#1ec800"/><path d="M69.53,89.86 L71.83,85.36 L67.23,85.36Z" fill="#1ec800"/><path d="M73.36,88.48 L75.66,83.98 L71.06,83.98Z" fill="#1ec800"/><path d="M76.83,87.21 L79.13,82.71 L74.53,82.71Z" fill="#1ec800"/><path d="M80.02,86.03 L82.32,81.54 L77.72,81.54Z" fill="#1ec800"/><path d="M82.96,84.93 L85.26,80.43 L80.66,80.43Z" fill="#1ec800"/><path d="M85.69,83.87 L87.99,79.37 L83.39,79.37Z" fill="#1ec800"/><path d="M88.24,82.82 L90.54,78.33 L85.94,78.33Z" fill="#1ec800"/><path d="M90.63,81.80 L92.93,77.30 L88.33,77.30Z" fill="#1ec800"/><path d="M92.88,80.83 L95.18,76.33 L90.58,76.33Z" fill="#1ec800"/><path d="M95.00,79.94 L97.30,75.45 L92.70,75.45Z" fill="#1ec800"/><path d="M97.01,79.20 L99.31,74.71 L94.71,74.71Z" fill="#1ec800"/><path d="M98.92,78.58 L101.22,74.09 L96.62,74.09Z" fill="#1ec800"/><path d="M36.7,101.1 L38.4,100.2 L40.7,99.0 L43.6,97.6 L46.7,96.0 L50.0,94.5 L53.5,92.9 L57.3,91.3 L61.3,89.6 L65.6,87.8 L70.0,86.0 L75.1,84.0 L80.8,81.8 L86.6,79.7 L91.5,77.8 L95.0,76.5" fill="none" stroke="#e23a3a" stroke-width="1.0" stroke-linejoin="round" stroke-linecap="round" opacity="1.0"/><path d="M40.9,93.9 L42.0,93.4 L43.5,92.7 L45.3,92.0 L47.1,91.2 L48.7,90.5 L50.0,89.9 L51.2,89.4 L52.4,88.9 L53.6,88.4 L54.7,87.9 L55.9,87.4 L57.0,87.0 L58.1,86.6 L59.2,86.2 L60.3,85.8 L61.3,85.4 L62.2,85.0 L63.1,84.5 L64.0,84.1 L65.0,83.7 L65.9,83.3 L66.8,83.0 L67.8,82.7 L69.0,82.3 L70.7,81.7 L73.1,80.9 L76.0,79.8 L79.2,78.7 L82.3,77.6 L85.0,76.6 L87.4,75.7 L89.5,74.9 L91.6,74.2 L93.4,73.5 L95.0,73.0 L96.4,72.6 L97.6,72.3 L98.6,72.1 L99.4,71.9 L100.0,71.8" fill="none" stroke="#bb1010" stroke-width="1.0" stroke-linejoin="round" stroke-linecap="round" opacity="1.0"/><path d="M41.0,91.2L43.3,95.7L38.7,95.7Z" fill="#bb1010" stroke="#f3c4c4" stroke-width="0.9"/><path d="M48.6,87.9L50.9,92.4L46.3,92.4Z" fill="#bb1010" stroke="#f3c4c4" stroke-width="0.9"/><path d="M55.0,85.1L57.3,89.6L52.7,89.6Z" fill="#bb1010" stroke="#f3c4c4" stroke-width="0.9"/><path d="M60.5,83.1L62.8,87.6L58.2,87.6Z" fill="#bb1010" stroke="#f3c4c4" stroke-width="0.9"/><path d="M65.3,80.9L67.6,85.4L63.0,85.4Z" fill="#bb1010" stroke="#f3c4c4" stroke-width="0.9"/><path d="M69.5,79.5L71.8,84.0L67.2,84.0Z" fill="#bb1010" stroke="#f3c4c4" stroke-width="0.9"/><path d="M73.4,78.1L75.7,82.6L71.1,82.6Z" fill="#bb1010" stroke="#f3c4c4" stroke-width="0.9"/><path d="M76.8,76.9L79.1,81.4L74.5,81.4Z" fill="#bb1010" stroke="#f3c4c4" stroke-width="0.9"/><path d="M80.0,75.7L82.3,80.2L77.7,80.2Z" fill="#bb1010" stroke="#f3c4c4" stroke-width="0.9"/><path d="M83.0,74.7L85.3,79.2L80.7,79.2Z" fill="#bb1010" stroke="#f3c4c4" stroke-width="0.9"/><path d="M85.7,73.7L88.0,78.2L83.4,78.2Z" fill="#bb1010" stroke="#f3c4c4" stroke-width="0.9"/><path d="M88.2,72.8L90.5,77.3L85.9,77.3Z" fill="#bb1010" stroke="#f3c4c4" stroke-width="0.9"/><path d="M90.6,71.9L92.9,76.4L88.3,76.4Z" fill="#bb1010" stroke="#f3c4c4" stroke-width="0.9"/><path d="M92.9,71.1L95.2,75.6L90.6,75.6Z" fill="#bb1010" stroke="#f3c4c4" stroke-width="0.9"/><path d="M95.0,70.4L97.3,74.9L92.7,74.9Z" fill="#bb1010" stroke="#f3c4c4" stroke-width="0.9"/><path d="M97.0,69.8L99.3,74.3L94.7,74.3Z" fill="#bb1010" stroke="#f3c4c4" stroke-width="0.9"/><path d="M98.9,69.4L101.2,73.9L96.6,73.9Z" fill="#bb1010" stroke="#f3c4c4" stroke-width="0.9"/><circle cx="36.47" cy="102.40" r="1.65" fill="#111"/><path d="M92.0,75.0 L92.2,74.9 L92.4,74.8 L92.8,74.7 L93.6,74.4 L95.0,73.9 L97.2,73.1 L99.9,72.1 L103.1,71.0 L106.5,69.8 L110.0,68.6 L113.6,67.5 L117.3,66.3 L121.2,65.2 L125.4,64.0 L130.0,62.8 L135.5,61.5 L142.0,60.0 L148.4,58.5 L154.1,57.3 L158.0,56.4" fill="none" stroke="#1ec800" stroke-width="4.6" stroke-linejoin="round" stroke-linecap="round" opacity="1.0"/><path d="M92.0,74.4 L92.2,74.3 L92.4,74.2 L92.8,74.1 L93.6,73.8 L95.0,73.3 L97.2,72.5 L99.9,71.5 L103.1,70.4 L106.5,69.2 L110.0,68.0 L113.6,66.9 L117.3,65.7 L121.2,64.6 L125.4,63.4 L130.0,62.2 L135.5,60.9 L142.0,59.4 L148.4,57.9 L154.1,56.7 L158.0,55.8" fill="none" stroke="#8c6a18" stroke-width="1.5" stroke-linejoin="round" stroke-linecap="round" opacity="1.0"/><path d="M92.0,76.9 L92.2,76.8 L92.4,76.7 L92.8,76.6 L93.6,76.3 L95.0,75.8 L97.2,75.0 L99.9,74.0 L103.1,72.9 L106.5,71.7 L110.0,70.5 L113.6,69.4 L117.3,68.2 L121.2,67.1 L125.4,65.9 L130.0,64.7 L135.5,63.4 L142.0,61.9 L148.4,60.4 L154.1,59.2 L158.0,58.3" fill="none" stroke="#222" stroke-width="1.1" stroke-linejoin="round" stroke-linecap="round" opacity="1.0"/><path d="M226.5,63.9 L226.8,62.3 L227.3,60.0 L227.8,57.3 L228.4,54.7 L229.0,52.5 L229.7,50.7 L230.4,49.1 L231.1,47.7 L232.0,46.3 L232.9,45.0 L234.0,43.7 L235.2,42.5 L236.4,41.4 L237.7,40.4 L238.9,39.5 L240.1,38.7 L241.2,38.0 L242.3,37.5 L243.4,36.9 L244.6,36.4 L245.8,35.9 L247.0,35.4 L248.2,35.0 L249.5,34.6 L250.7,34.2 L251.9,33.8 L253.1,33.4 L254.4,33.1 L255.6,32.7 L256.8,32.4 L258.0,32.1 L259.2,31.8 L260.5,31.5 L261.7,31.3 L262.9,31.0 L264.1,30.7 L265.3,30.4 L266.5,30.1 L267.7,29.9 L268.9,29.6 L270.1,29.3 L271.3,29.1 L272.6,28.8 L273.8,28.6 L274.9,28.4 L275.8,28.2 L276.5,28.1 L277.3,28.0 L278.4,27.9 L280.0,27.6 L282.4,27.2 L285.3,26.7 L288.5,26.2 L291.8,25.7 L295.0,25.2 L298.0,24.8 L301.0,24.3 L304.0,23.9 L307.0,23.6 L310.0,23.2 L313.0,22.9 L315.9,22.5 L318.8,22.2 L321.9,22.0 L325.0,21.7 L328.6,21.5 L332.6,21.2 L336.5,21.0 L339.9,20.8 L342.3,20.7" fill="none" stroke="#111" stroke-width="0.9" stroke-linejoin="round" stroke-linecap="round" opacity="1.0"/><circle cx="226.43" cy="63.90" r="1.60" fill="#111"/><circle cx="232.46" cy="45.59" r="1.60" fill="#111"/><circle cx="238.50" cy="39.80" r="1.60" fill="#111"/><circle cx="244.53" cy="36.43" r="1.60" fill="#111"/><circle cx="250.57" cy="34.24" r="1.60" fill="#111"/><circle cx="256.60" cy="32.45" r="1.60" fill="#111"/><circle cx="262.64" cy="31.06" r="1.60" fill="#111"/><circle cx="268.67" cy="29.65" r="1.60" fill="#111"/><circle cx="274.71" cy="28.44" r="1.60" fill="#111"/><circle cx="280.74" cy="27.48" r="1.60" fill="#111"/><circle cx="286.78" cy="26.49" r="1.60" fill="#111"/><circle cx="292.81" cy="25.53" r="1.60" fill="#111"/><circle cx="298.85" cy="24.65" r="1.60" fill="#111"/><circle cx="304.88" cy="23.83" r="1.60" fill="#111"/><circle cx="310.92" cy="23.09" r="1.60" fill="#111"/><circle cx="316.95" cy="22.43" r="1.60" fill="#111"/><circle cx="322.99" cy="21.86" r="1.60" fill="#111"/><circle cx="329.02" cy="21.43" r="1.60" fill="#111"/><circle cx="335.06" cy="21.08" r="1.60" fill="#111"/><circle cx="341.09" cy="20.77" r="1.60" fill="#111"/><path d="M227.0,57.6 L227.8,55.6 L228.9,52.6 L230.2,49.3 L231.6,46.1 L232.9,43.7 L234.1,42.1 L235.3,40.9 L236.5,40.1 L237.7,39.4 L238.9,38.6 L240.1,37.8 L241.2,37.2 L242.3,36.6 L243.4,36.0 L244.6,35.5 L245.8,35.0 L247.0,34.5 L248.2,34.1 L249.5,33.7 L250.7,33.3 L251.9,32.9 L253.1,32.5 L254.4,32.2 L255.6,31.8 L256.8,31.5 L258.0,31.2 L259.2,30.9 L260.5,30.6 L261.7,30.4 L262.9,30.1 L264.1,29.8 L265.3,29.5 L266.5,29.2 L267.7,29.0 L268.9,28.7 L270.1,28.4 L271.3,28.2 L272.6,27.9 L273.8,27.7 L274.9,27.5 L275.8,27.3 L276.5,27.2 L277.3,27.1 L278.4,27.0 L280.0,26.7 L282.4,26.3 L285.3,25.8 L288.5,25.3 L291.8,24.8 L295.0,24.3 L298.0,23.9 L301.0,23.4 L304.0,23.0 L307.0,22.7 L310.0,22.3 L313.0,22.0 L315.9,21.6 L318.8,21.3 L321.9,21.1 L325.0,20.8 L328.6,20.6 L332.6,20.3 L336.5,20.1 L339.9,19.9 L342.3,19.8" fill="none" stroke="#d6dc3a" stroke-width="1.2" stroke-linejoin="round" stroke-linecap="round" opacity="1.0"/><circle cx="227.03" cy="57.52" r="1.85" fill="#5cce22" stroke="#4f8a1a" stroke-width="0.7"/><circle cx="233.07" cy="43.46" r="1.85" fill="#5cce22" stroke="#4f8a1a" stroke-width="0.7"/><circle cx="239.10" cy="38.46" r="1.85" fill="#5cce22" stroke="#4f8a1a" stroke-width="0.7"/><circle cx="245.14" cy="35.27" r="1.85" fill="#5cce22" stroke="#4f8a1a" stroke-width="0.7"/><circle cx="251.17" cy="33.15" r="1.85" fill="#5cce22" stroke="#4f8a1a" stroke-width="0.7"/><circle cx="257.21" cy="31.40" r="1.85" fill="#5cce22" stroke="#4f8a1a" stroke-width="0.7"/><circle cx="263.24" cy="30.02" r="1.85" fill="#5cce22" stroke="#4f8a1a" stroke-width="0.7"/><circle cx="269.28" cy="28.62" r="1.85" fill="#5cce22" stroke="#4f8a1a" stroke-width="0.7"/><circle cx="275.31" cy="27.43" r="1.85" fill="#5cce22" stroke="#4f8a1a" stroke-width="0.7"/><circle cx="281.35" cy="26.48" r="1.85" fill="#5cce22" stroke="#4f8a1a" stroke-width="0.7"/><circle cx="287.38" cy="25.49" r="1.85" fill="#5cce22" stroke="#4f8a1a" stroke-width="0.7"/><circle cx="293.42" cy="24.54" r="1.85" fill="#5cce22" stroke="#4f8a1a" stroke-width="0.7"/><circle cx="299.45" cy="23.66" r="1.85" fill="#5cce22" stroke="#4f8a1a" stroke-width="0.7"/><circle cx="305.49" cy="22.85" r="1.85" fill="#5cce22" stroke="#4f8a1a" stroke-width="0.7"/><circle cx="311.52" cy="22.12" r="1.85" fill="#5cce22" stroke="#4f8a1a" stroke-width="0.7"/><circle cx="317.56" cy="21.47" r="1.85" fill="#5cce22" stroke="#4f8a1a" stroke-width="0.7"/><circle cx="323.59" cy="20.91" r="1.85" fill="#5cce22" stroke="#4f8a1a" stroke-width="0.7"/><circle cx="329.63" cy="20.49" r="1.85" fill="#5cce22" stroke="#4f8a1a" stroke-width="0.7"/><circle cx="335.66" cy="20.15" r="1.85" fill="#5cce22" stroke="#4f8a1a" stroke-width="0.7"/><circle cx="341.70" cy="19.83" r="1.85" fill="#5cce22" stroke="#4f8a1a" stroke-width="0.7"/><path d="M226.5,105.1 L226.8,103.6 L227.3,101.5 L227.9,99.0 L228.4,96.6 L229.0,94.5 L229.5,92.8 L230.0,91.3 L230.5,89.8 L231.1,88.5 L231.9,87.1 L232.9,85.7 L234.2,84.4 L235.5,83.1 L236.8,81.9 L238.1,80.9 L239.3,80.0 L240.5,79.2 L241.6,78.6 L242.8,78.0 L243.9,77.4 L245.0,76.9 L246.2,76.4 L247.3,76.0 L248.4,75.5 L249.6,75.1 L250.8,74.6 L252.1,74.2 L253.4,73.7 L254.7,73.3 L255.9,72.9 L257.0,72.5 L258.1,72.1 L259.2,71.8 L260.3,71.4 L261.6,71.1 L263.1,70.8 L264.7,70.5 L266.4,70.1 L268.2,69.8 L270.0,69.5 L271.8,69.2 L273.6,68.9 L275.6,68.5 L277.7,68.2 L280.0,67.8 L282.7,67.3 L285.6,66.8 L288.8,66.3 L291.9,65.8 L295.0,65.3 L298.0,64.9 L301.0,64.4 L304.0,64.0 L307.0,63.7 L310.0,63.3 L313.0,63.0 L315.9,62.6 L318.8,62.3 L321.9,62.1 L325.0,61.8 L328.6,61.6 L332.6,61.4 L336.5,61.2 L339.9,61.0 L342.3,60.9" fill="none" stroke="#e23a3a" stroke-width="1.0" stroke-linejoin="round" stroke-linecap="round" opacity="1.0"/><circle cx="226.43" cy="105.10" r="1.65" fill="#111"/><circle cx="232.46" cy="86.33" r="1.65" fill="#111"/><circle cx="238.50" cy="80.59" r="1.65" fill="#111"/><circle cx="244.53" cy="77.09" r="1.65" fill="#111"/><circle cx="250.57" cy="74.74" r="1.65" fill="#111"/><circle cx="256.60" cy="72.66" r="1.65" fill="#111"/><circle cx="262.64" cy="70.86" r="1.65" fill="#111"/><circle cx="268.67" cy="69.74" r="1.65" fill="#111"/><circle cx="274.71" cy="68.69" r="1.65" fill="#111"/><circle cx="280.74" cy="67.67" r="1.65" fill="#111"/><circle cx="286.78" cy="66.64" r="1.65" fill="#111"/><circle cx="292.81" cy="65.64" r="1.65" fill="#111"/><circle cx="298.85" cy="64.74" r="1.65" fill="#111"/><circle cx="304.88" cy="63.93" r="1.65" fill="#111"/><circle cx="310.92" cy="63.19" r="1.65" fill="#111"/><circle cx="316.95" cy="62.52" r="1.65" fill="#111"/><circle cx="322.99" cy="61.96" r="1.65" fill="#111"/><circle cx="329.02" cy="61.54" r="1.65" fill="#111"/><circle cx="335.06" cy="61.23" r="1.65" fill="#111"/><circle cx="341.09" cy="60.96" r="1.65" fill="#111"/><path d="M227.0,98.5 L228.0,97.2 L229.4,95.4 L231.0,93.3 L232.6,91.2 L234.1,89.4 L235.3,87.9 L236.5,86.6 L237.6,85.3 L238.7,84.2 L239.9,83.1 L241.1,82.1 L242.3,81.3 L243.6,80.5 L244.8,79.8 L246.1,79.1 L247.4,78.5 L248.6,77.9 L249.9,77.3 L251.2,76.8 L252.4,76.3 L253.6,75.8 L254.7,75.3 L255.9,74.9 L257.0,74.4 L258.1,74.0 L259.1,73.6 L260.1,73.3 L261.1,72.9 L262.2,72.6 L263.3,72.3 L264.5,72.0 L265.7,71.7 L267.0,71.4 L268.4,71.1 L270.0,70.8 L271.7,70.5 L273.5,70.1 L275.5,69.7 L277.6,69.3 L280.0,68.9 L282.7,68.4 L285.6,67.9 L288.8,67.3 L291.9,66.8 L295.0,66.3 L298.0,65.8 L301.0,65.4 L304.0,65.0 L307.0,64.6 L310.0,64.2 L313.0,63.8 L315.9,63.5 L318.8,63.2 L321.9,62.9 L325.0,62.6 L328.6,62.3 L332.6,62.1 L336.5,61.9 L339.9,61.7 L342.3,61.6" fill="none" stroke="#d6dc3a" stroke-width="0.9" stroke-linejoin="round" stroke-linecap="round" opacity="1.0"/><path d="M227.03,100.99 L229.23,96.69 L224.83,96.69Z" fill="#3ccc10"/><path d="M233.07,93.20 L235.27,88.90 L230.87,88.90Z" fill="#3ccc10"/><path d="M239.10,86.35 L241.30,82.05 L236.90,82.05Z" fill="#3ccc10"/><path d="M245.14,82.16 L247.34,77.86 L242.94,77.86Z" fill="#3ccc10"/><path d="M251.17,79.34 L253.37,75.04 L248.97,75.04Z" fill="#3ccc10"/><path d="M257.21,76.87 L259.41,72.56 L255.01,72.56Z" fill="#3ccc10"/><path d="M263.24,74.85 L265.44,70.55 L261.04,70.55Z" fill="#3ccc10"/><path d="M269.28,73.48 L271.48,69.18 L267.08,69.18Z" fill="#3ccc10"/><path d="M275.31,72.29 L277.51,67.99 L273.11,67.99Z" fill="#3ccc10"/><path d="M281.35,71.19 L283.55,66.89 L279.15,66.89Z" fill="#3ccc10"/><path d="M287.38,70.11 L289.58,65.81 L285.18,65.81Z" fill="#3ccc10"/><path d="M293.42,69.08 L295.62,64.78 L291.22,64.78Z" fill="#3ccc10"/><path d="M299.45,68.15 L301.65,63.85 L297.25,63.85Z" fill="#3ccc10"/><path d="M305.49,67.31 L307.69,63.01 L303.29,63.01Z" fill="#3ccc10"/><path d="M311.52,66.54 L313.72,62.24 L309.32,62.24Z" fill="#3ccc10"/><path d="M317.56,65.84 L319.76,61.54 L315.36,61.54Z" fill="#3ccc10"/><path d="M323.59,65.25 L325.79,60.95 L321.39,60.95Z" fill="#3ccc10"/><path d="M329.63,64.81 L331.83,60.51 L327.43,60.51Z" fill="#3ccc10"/><path d="M335.66,64.47 L337.86,60.17 L333.46,60.17Z" fill="#3ccc10"/><path d="M341.70,64.16 L343.90,59.86 L339.50,59.86Z" fill="#3ccc10"/><path d="M36.5,162.3 L37.7,161.7 L39.4,160.7 L41.4,159.7 L43.4,158.7 L45.1,157.9 L46.6,157.3 L47.9,156.8 L49.2,156.4 L50.6,156.1 L52.0,155.8 L53.5,155.6 L55.0,155.4 L56.6,155.3 L58.3,155.4 L60.0,155.5 L61.6,155.7 L63.1,155.9 L64.8,156.3 L67.0,157.0 L70.0,158.0 L73.9,159.5 L78.4,161.4 L83.6,163.5 L89.1,165.7 L95.0,167.8 L101.5,169.9 L108.6,172.0 L116.0,174.2 L123.3,176.2 L130.0,178.2 L136.5,180.1 L143.0,182.1 L149.2,183.9 L154.3,185.5 L158.0,186.6" fill="none" stroke="#e23a3a" stroke-width="1.0" stroke-linejoin="round" stroke-linecap="round" opacity="1.0"/><path d="M64.0,156.1 L64.5,156.3 L65.1,156.4 L65.9,156.6 L67.5,157.1 L70.0,158.0 L73.6,159.4 L78.2,161.3 L83.4,163.5 L89.1,165.7 L95.0,167.8 L101.5,169.9 L108.6,172.0 L116.0,174.2 L123.3,176.2 L130.0,178.2 L136.5,180.1 L143.0,182.1 L149.2,183.9 L154.3,185.5 L158.0,186.6" fill="none" stroke="#111" stroke-width="2.5" stroke-linejoin="round" stroke-linecap="round" opacity="1.0"/><circle cx="36.47" cy="162.30" r="1.60" fill="#111"/><circle cx="45.00" cy="157.94" r="1.60" fill="#111"/><circle cx="51.97" cy="155.81" r="1.60" fill="#111"/><circle cx="57.86" cy="155.34" r="1.60" fill="#111"/><circle cx="62.96" cy="155.92" r="1.60" fill="#111"/><path d="M41.5,157.0 L42.4,156.7 L43.6,156.3 L45.1,155.8 L46.6,155.3 L48.0,155.0 L49.4,154.8 L50.9,154.6 L52.3,154.5 L53.7,154.5 L55.0,154.5 L56.0,154.6 L56.9,154.7 L57.7,154.8 L58.7,155.1 L60.0,155.6 L61.7,156.3 L63.6,157.1 L65.8,158.1 L67.9,159.1 L70.0,160.0 L71.9,160.8 L73.8,161.6 L75.6,162.4 L77.7,163.1 L80.0,164.0 L82.7,164.9 L85.6,165.9 L88.8,166.9 L91.9,167.9 L95.0,168.9 L97.9,169.9 L100.8,170.9 L103.6,172.0 L106.7,173.0 L110.0,174.0 L113.6,175.0 L117.3,175.9 L121.2,176.8 L125.4,177.9 L130.0,179.1 L135.5,180.7 L142.0,182.6 L148.4,184.6 L154.1,186.3 L158.0,187.5" fill="none" stroke="#1ec800" stroke-width="1.0" stroke-linejoin="round" stroke-linecap="round" opacity="1.0"/><path d="M64.0,157.3 L64.8,157.7 L65.8,158.1 L67.0,158.7 L68.4,159.3 L70.0,160.0 L71.7,160.7 L73.5,161.5 L75.4,162.3 L77.6,163.1 L80.0,164.0 L82.7,164.9 L85.6,165.9 L88.8,166.9 L91.9,167.9 L95.0,168.9 L97.9,169.9 L100.8,170.9 L103.6,172.0 L106.7,173.0 L110.0,174.0 L113.6,175.0 L117.3,175.9 L121.2,176.8 L125.4,177.9 L130.0,179.1 L135.5,180.7 L142.0,182.6 L148.4,184.6 L154.1,186.3 L158.0,187.5" fill="none" stroke="#1ec800" stroke-width="3.3" stroke-linejoin="round" stroke-linecap="round" opacity="1.0"/><path d="M48.64,157.19 L50.64,153.28 L46.64,153.28Z" fill="#1ec800"/><path d="M55.03,156.80 L57.03,152.89 L53.03,152.89Z" fill="#1ec800"/><path d="M60.50,158.09 L62.50,154.18 L58.50,154.18Z" fill="#1ec800"/><path d="M65.28,160.19 L67.28,156.28 L63.28,156.28Z" fill="#1ec800"/><path d="M69.53,162.10 L71.53,158.19 L67.53,158.19Z" fill="#1ec800"/><path d="M73.36,163.72 L75.36,159.81 L71.36,159.81Z" fill="#1ec800"/><path d="M76.83,165.12 L78.83,161.21 L74.83,161.21Z" fill="#1ec800"/><path d="M80.02,166.31 L82.02,162.40 L78.02,162.40Z" fill="#1ec800"/><path d="M82.96,167.31 L84.96,163.40 L80.96,163.40Z" fill="#1ec800"/><path d="M85.69,168.20 L87.69,164.29 L83.69,164.29Z" fill="#1ec800"/><path d="M41.5,153.7 L42.5,153.5 L43.8,153.2 L45.4,152.9 L47.0,152.6 L48.4,152.4 L49.7,152.3 L50.9,152.3 L52.0,152.3 L53.2,152.3 L54.3,152.4 L55.4,152.4 L56.3,152.5 L57.3,152.6 L58.4,152.7 L59.8,153.0 L61.5,153.4 L63.6,154.0 L65.7,154.6 L67.9,155.3 L70.0,156.0 L71.9,156.6 L73.8,157.3 L75.6,158.0 L77.7,158.7 L80.0,159.5 L82.7,160.4 L85.6,161.3 L88.8,162.3 L91.9,163.3 L95.0,164.3 L97.9,165.3 L100.8,166.3 L103.6,167.4 L106.7,168.4 L110.0,169.5 L113.6,170.6 L117.3,171.7 L121.2,172.9 L125.4,174.1 L130.0,175.4 L135.5,176.9 L142.0,178.6 L148.4,180.4 L154.1,181.9 L158.0,182.9" fill="none" stroke="#bb1010" stroke-width="1.0" stroke-linejoin="round" stroke-linecap="round" opacity="1.0"/><path d="M64.0,154.1 L64.8,154.4 L65.8,154.7 L67.0,155.0 L68.4,155.5 L70.0,156.0 L71.7,156.6 L73.5,157.2 L75.4,157.9 L77.6,158.7 L80.0,159.5 L82.7,160.4 L85.6,161.3 L88.8,162.3 L91.9,163.3 L95.0,164.3 L97.9,165.3 L100.8,166.3 L103.6,167.4 L106.7,168.4 L110.0,169.5 L113.6,170.6 L117.3,171.7 L121.2,172.9 L125.4,174.1 L130.0,175.4 L135.5,176.9 L142.0,178.6 L148.4,180.4 L154.1,181.9 L158.0,182.9" fill="none" stroke="#bb1010" stroke-width="3.1" stroke-linejoin="round" stroke-linecap="round" opacity="1.0"/><path d="M48.6,150.1L50.6,154.0L46.6,154.0Z" fill="#bb1010"/><path d="M55.0,150.1L57.0,154.0L53.0,154.0Z" fill="#bb1010"/><path d="M60.5,150.9L62.5,154.8L58.5,154.8Z" fill="#bb1010"/><path d="M65.3,152.2L67.3,156.1L63.3,156.1Z" fill="#bb1010"/><path d="M69.5,153.5L71.5,157.5L67.5,157.5Z" fill="#bb1010"/><path d="M73.4,154.9L75.4,158.8L71.4,158.8Z" fill="#bb1010"/><path d="M76.8,156.1L78.8,160.0L74.8,160.0Z" fill="#bb1010"/><path d="M80.0,157.2L82.0,161.1L78.0,161.1Z" fill="#bb1010"/><path d="M83.0,158.2L85.0,162.1L81.0,162.1Z" fill="#bb1010"/><path d="M85.7,159.0L87.7,162.9L83.7,162.9Z" fill="#bb1010"/><path d="M48.8,214.3 L49.7,214.1 L50.9,213.8 L52.3,213.4 L53.7,213.1 L55.0,212.8 L55.9,212.6 L56.6,212.5 L57.3,212.5 L58.4,212.4 L60.0,212.4 L62.3,212.3 L65.0,212.3 L68.2,212.2 L71.5,212.3 L75.0,212.5 L78.8,212.9 L82.9,213.5 L87.1,214.2 L91.2,214.9 L95.0,215.6 L98.2,216.3 L101.1,217.0 L103.9,217.8 L106.8,218.6 L110.0,219.5 L113.6,220.5 L117.3,221.5 L121.2,222.6 L125.4,223.7 L130.0,225.0 L135.5,226.6 L142.0,228.4 L148.4,230.2 L154.1,231.8 L158.0,232.9" fill="none" stroke="#1ec800" stroke-width="1.0" stroke-linejoin="round" stroke-linecap="round" opacity="1.0"/><path d="M85.0,213.8 L86.3,214.0 L88.0,214.3 L90.2,214.6 L92.5,215.1 L95.0,215.6 L97.6,216.2 L100.4,216.9 L103.4,217.7 L106.6,218.6 L110.0,219.5 L113.6,220.5 L117.3,221.5 L121.2,222.6 L125.4,223.7 L130.0,225.0 L135.5,226.6 L142.0,228.4 L148.4,230.2 L154.1,231.8 L158.0,232.9" fill="none" stroke="#1ec800" stroke-width="2.8" stroke-linejoin="round" stroke-linecap="round" opacity="1.0"/><path d="M48.64,216.60 L50.64,212.69 L46.64,212.69Z" fill="#1ec800"/><path d="M55.03,215.10 L57.03,211.19 L53.03,211.19Z" fill="#1ec800"/><path d="M60.50,214.69 L62.50,210.78 L58.50,210.78Z" fill="#1ec800"/><path d="M65.28,214.56 L67.28,210.65 L63.28,210.65Z" fill="#1ec800"/><path d="M69.53,214.53 L71.53,210.62 L67.53,210.62Z" fill="#1ec800"/><path d="M73.36,214.67 L75.36,210.76 L71.36,210.76Z" fill="#1ec800"/><path d="M76.83,214.99 L78.83,211.08 L74.83,211.08Z" fill="#1ec800"/><path d="M80.02,215.38 L82.02,211.47 L78.02,211.47Z" fill="#1ec800"/><path d="M82.96,215.80 L84.96,211.89 L80.96,211.89Z" fill="#1ec800"/><path d="M85.69,216.23 L87.69,212.32 L83.69,212.32Z" fill="#1ec800"/><path d="M88.24,216.65 L90.24,212.74 L86.24,212.74Z" fill="#1ec800"/><path d="M90.63,217.07 L92.63,213.16 L88.63,213.16Z" fill="#1ec800"/><path d="M92.88,217.49 L94.88,213.58 L90.88,213.58Z" fill="#1ec800"/><path d="M95.00,217.90 L97.00,213.99 L93.00,213.99Z" fill="#1ec800"/><path d="M97.01,218.33 L99.01,214.42 L95.01,214.42Z" fill="#1ec800"/><path d="M98.92,218.77 L100.92,214.86 L96.92,214.86Z" fill="#1ec800"/><path d="M49.7,210.6 L51.0,210.3 L52.9,210.0 L55.0,209.6 L57.5,209.2 L60.0,209.0 L62.6,208.9 L65.4,208.9 L68.4,209.0 L71.6,209.2 L75.0,209.5 L78.4,209.8 L81.9,210.2 L85.7,210.6 L90.0,211.4 L95.0,212.5 L101.2,214.2 L108.3,216.3 L115.8,218.6 L123.2,220.9 L130.0,223.0 L136.5,224.9 L143.0,226.8 L149.2,228.5 L154.3,230.0 L158.0,231.0" fill="none" stroke="#8cf03c" stroke-width="1.0" stroke-linejoin="round" stroke-linecap="round" opacity="1.0"/><path d="M80.0,210.0 L81.7,210.2 L84.0,210.4 L86.8,210.8 L90.5,211.4 L95.0,212.5 L100.8,214.1 L107.9,216.2 L115.5,218.6 L123.1,220.9 L130.0,223.0 L136.5,224.9 L143.0,226.8 L149.2,228.5 L154.3,230.0 L158.0,231.0" fill="none" stroke="#e6b68a" stroke-width="2.0" stroke-linejoin="round" stroke-linecap="round" opacity="1.0"/><path d="M55.03,207.97 L56.63,209.57 L55.03,211.17 L53.43,209.57Z" fill="#e6b68a"/><path d="M60.50,207.38 L62.10,208.98 L60.50,210.58 L58.90,208.98Z" fill="#e6b68a"/><path d="M65.28,207.33 L66.88,208.93 L65.28,210.53 L63.68,208.93Z" fill="#e6b68a"/><path d="M69.53,207.48 L71.13,209.08 L69.53,210.68 L67.93,209.08Z" fill="#e6b68a"/><path d="M73.36,207.75 L74.96,209.35 L73.36,210.95 L71.76,209.35Z" fill="#e6b68a"/><path d="M76.83,208.07 L78.43,209.67 L76.83,211.27 L75.23,209.67Z" fill="#e6b68a"/><path d="M36.7,205.1 L37.7,204.5 L39.1,203.7 L40.8,202.8 L42.8,201.8 L45.0,201.0 L47.6,200.2 L50.7,199.4 L53.9,198.7 L57.0,198.1 L59.8,197.8 L62.1,197.7 L64.2,197.9 L66.2,198.1 L68.0,198.5 L70.0,199.0 L71.9,199.5 L73.8,200.1 L75.6,200.8 L77.7,201.6 L80.0,202.5 L82.4,203.5 L84.7,204.5 L87.3,205.6 L90.6,206.9 L95.0,208.5 L100.8,210.4 L107.9,212.6 L115.5,215.0 L123.1,217.3 L130.0,219.5 L136.5,221.6 L143.0,223.7 L149.2,225.6 L154.3,227.3 L158.0,228.5" fill="none" stroke="#e23a3a" stroke-width="1.0" stroke-linejoin="round" stroke-linecap="round" opacity="1.0"/><path d="M36.5,208.4 L37.7,207.7 L39.4,206.6 L41.4,205.4 L43.3,204.3 L45.1,203.3 L46.6,202.6 L48.1,202.0 L49.5,201.4 L50.8,200.9 L52.1,200.5 L53.3,200.1 L54.5,199.7 L55.7,199.4 L56.8,199.1 L57.9,198.9 L59.0,198.7 L60.2,198.7 L61.3,198.6 L62.4,198.6 L63.4,198.7 L64.4,198.8 L65.3,199.0 L66.2,199.3 L67.1,199.5 L68.0,199.8 L68.9,200.1 L69.7,200.4 L70.6,200.7 L71.5,201.0 L72.6,201.4 L73.8,201.8 L75.0,202.2 L76.4,202.7 L78.0,203.3 L80.0,204.0 L82.4,204.9 L85.2,206.0 L88.3,207.2 L91.4,208.4 L94.5,209.5 L97.5,210.4 L100.4,211.3 L103.4,212.1 L106.6,213.0 L110.0,214.0 L113.6,215.1 L117.3,216.3 L121.2,217.6 L125.4,219.0 L130.0,220.5 L135.5,222.3 L142.0,224.4 L148.4,226.5 L154.1,228.3 L158.0,229.6" fill="none" stroke="#111" stroke-width="0.9" stroke-linejoin="round" stroke-linecap="round" opacity="1.0"/><path d="M90.0,207.9 L90.4,208.1 L90.9,208.3 L91.7,208.6 L92.8,209.0 L94.5,209.5 L96.8,210.2 L99.7,211.0 L102.9,211.9 L106.4,212.9 L110.0,214.0 L113.6,215.1 L117.3,216.3 L121.2,217.6 L125.4,219.0 L130.0,220.5 L135.5,222.3 L142.0,224.4 L148.4,226.5 L154.1,228.3 L158.0,229.6" fill="none" stroke="#111" stroke-width="1.5" stroke-linejoin="round" stroke-linecap="round" opacity="1.0"/><circle cx="36.47" cy="208.40" r="1.60" fill="#111"/><circle cx="45.00" cy="203.35" r="1.60" fill="#111"/><circle cx="51.97" cy="200.55" r="1.60" fill="#111"/><circle cx="57.86" cy="198.91" r="1.60" fill="#111"/><circle cx="62.96" cy="198.67" r="1.60" fill="#111"/><circle cx="67.46" cy="199.64" r="1.60" fill="#111"/><circle cx="71.49" cy="201.00" r="1.60" fill="#111"/><circle cx="75.13" cy="202.27" r="1.60" fill="#111"/><circle cx="78.46" cy="203.44" r="1.60" fill="#111"/><circle cx="81.52" cy="204.58" r="1.60" fill="#111"/><circle cx="84.35" cy="205.69" r="1.60" fill="#111"/><circle cx="86.99" cy="206.73" r="1.60" fill="#111"/><circle cx="89.45" cy="207.68" r="1.60" fill="#111"/><path d="M49.7,207.9 L50.4,207.7 L51.5,207.3 L52.6,206.9 L53.9,206.6 L55.0,206.3 L55.9,206.1 L56.8,206.1 L57.7,206.0 L58.7,206.0 L60.0,206.0 L61.7,206.0 L63.6,206.0 L65.8,206.0 L67.9,206.1 L70.0,206.2 L71.9,206.4 L73.8,206.6 L75.6,206.8 L77.7,207.1 L80.0,207.5 L82.7,208.0 L85.6,208.5 L88.8,209.1 L91.9,209.8 L95.0,210.5 L97.9,211.2 L100.8,211.9 L103.6,212.7 L106.7,213.5 L110.0,214.5 L113.6,215.6 L117.3,216.8 L121.2,218.1 L125.4,219.5 L130.0,221.0 L135.5,222.8 L142.0,224.8 L148.4,226.8 L154.1,228.6 L158.0,229.8" fill="none" stroke="#bb1010" stroke-width="1.0" stroke-linejoin="round" stroke-linecap="round" opacity="1.0"/><path d="M78.0,207.2 L78.1,207.2 L78.0,207.1 L78.2,207.2 L78.7,207.3 L80.0,207.5 L82.2,207.9 L85.1,208.5 L88.4,209.1 L91.8,209.8 L95.0,210.5 L97.9,211.2 L100.8,211.9 L103.6,212.7 L106.7,213.5 L110.0,214.5 L113.6,215.6 L117.3,216.8 L121.2,218.1 L125.4,219.5 L130.0,221.0 L135.5,222.8 L142.0,224.8 L148.4,226.8 L154.1,228.6 L158.0,229.8" fill="none" stroke="#bb1010" stroke-width="2.8" stroke-linejoin="round" stroke-linecap="round" opacity="1.0"/><path d="M55.0,204.0L57.0,207.9L53.0,207.9Z" fill="#bb1010"/><path d="M60.5,203.7L62.5,207.6L58.5,207.6Z" fill="#bb1010"/><path d="M65.3,203.7L67.3,207.6L63.3,207.6Z" fill="#bb1010"/><path d="M69.5,203.9L71.5,207.8L67.5,207.8Z" fill="#bb1010"/><path d="M73.4,204.2L75.4,208.1L71.4,208.1Z" fill="#bb1010"/><path d="M76.8,204.7L78.8,208.6L74.8,208.6Z" fill="#bb1010"/><path d="M80.0,205.2L82.0,209.1L78.0,209.1Z" fill="#bb1010"/><path d="M83.0,205.7L85.0,209.6L81.0,209.6Z" fill="#bb1010"/><path d="M85.7,206.2L87.7,210.1L83.7,210.1Z" fill="#bb1010"/><path d="M88.2,206.7L90.2,210.7L86.2,210.7Z" fill="#bb1010"/><path d="M90.6,207.2L92.6,211.1L88.6,211.1Z" fill="#bb1010"/><path d="M92.9,207.7L94.9,211.6L90.9,211.6Z" fill="#bb1010"/><path d="M226.5,165.5 L226.8,164.1 L227.3,162.1 L227.8,159.8 L228.6,158.0 L229.5,157.0 L230.8,157.2 L232.3,158.1 L234.0,159.5 L235.7,160.9 L237.0,162.0 L238.0,162.8 L238.7,163.4 L239.4,164.1 L240.1,164.7 L241.0,165.5 L242.1,166.4 L243.3,167.4 L244.6,168.5 L246.0,169.5 L247.5,170.5 L249.3,171.5 L251.3,172.4 L253.3,173.4 L255.3,174.2 L257.0,175.0 L258.2,175.6 L259.1,176.0 L259.9,176.3 L261.1,176.8 L263.0,177.3 L265.8,178.0 L269.3,178.9 L273.2,179.7 L277.1,180.6 L281.0,181.5 L284.7,182.3 L288.5,183.2 L292.3,184.0 L296.1,184.8 L300.0,185.5 L303.9,186.2 L307.8,186.8 L311.8,187.5 L315.9,188.0 L320.0,188.5 L324.6,188.9 L329.7,189.3 L334.7,189.6 L339.0,189.8 L342.0,190.0" fill="none" stroke="#111" stroke-width="0.9" stroke-linejoin="round" stroke-linecap="round" opacity="1.0"/><circle cx="226.50" cy="165.50" r="1.70" fill="#111"/><circle cx="229.50" cy="157.00" r="1.70" fill="#111"/><circle cx="237.05" cy="162.04" r="1.70" fill="#111"/><circle cx="243.08" cy="167.25" r="1.70" fill="#111"/><circle cx="249.12" cy="171.39" r="1.70" fill="#111"/><circle cx="255.15" cy="174.20" r="1.70" fill="#111"/><circle cx="261.19" cy="176.78" r="1.70" fill="#111"/><circle cx="267.22" cy="178.36" r="1.70" fill="#111"/><circle cx="273.26" cy="179.77" r="1.70" fill="#111"/><circle cx="279.29" cy="181.12" r="1.70" fill="#111"/><circle cx="285.33" cy="182.46" r="1.70" fill="#111"/><circle cx="291.36" cy="183.79" r="1.70" fill="#111"/><circle cx="297.40" cy="185.01" r="1.70" fill="#111"/><circle cx="303.43" cy="186.11" r="1.70" fill="#111"/><circle cx="309.47" cy="187.10" r="1.70" fill="#111"/><circle cx="315.50" cy="187.97" r="1.70" fill="#111"/><circle cx="321.54" cy="188.65" r="1.70" fill="#111"/><circle cx="327.57" cy="189.14" r="1.70" fill="#111"/><circle cx="333.61" cy="189.52" r="1.70" fill="#111"/><circle cx="339.64" cy="189.86" r="1.70" fill="#111"/><path d="M227.1,160.8 L227.8,160.8 L228.8,160.8 L230.0,160.8 L231.3,161.0 L232.5,161.5 L233.7,162.3 L235.0,163.4 L236.4,164.7 L237.7,165.9 L239.0,167.0 L240.2,167.9 L241.5,168.8 L242.7,169.5 L243.9,170.3 L245.0,171.0 L246.0,171.7 L247.0,172.3 L247.9,172.9 L248.9,173.4 L250.0,174.0 L251.3,174.5 L252.7,175.1 L254.2,175.6 L255.7,176.0 L257.1,176.5 L258.5,177.0 L259.8,177.4 L261.1,177.8 L262.4,178.2 L263.6,178.6 L264.8,179.0 L265.9,179.3 L266.9,179.6 L268.0,179.9 L269.2,180.2 L270.5,180.5 L271.8,180.7 L273.1,180.9 L274.4,181.1 L275.7,181.3 L276.7,181.5 L277.4,181.6 L278.2,181.8 L279.4,182.1 L281.3,182.5 L284.2,183.1 L287.8,183.9 L291.8,184.8 L296.0,185.6 L300.0,186.4 L303.9,187.1 L307.8,187.8 L311.8,188.5 L315.9,189.1 L320.0,189.6 L324.6,190.0 L329.7,190.3 L334.7,190.5 L339.0,190.7 L342.0,190.8" fill="none" stroke="#1ec800" stroke-width="1.0" stroke-linejoin="round" stroke-linecap="round" opacity="1.0"/><path d="M227.63,163.23 L229.73,159.13 L225.53,159.13Z" fill="#1ec800"/><path d="M233.67,164.68 L235.77,160.58 L231.57,160.58Z" fill="#1ec800"/><path d="M239.70,169.94 L241.80,165.83 L237.60,165.83Z" fill="#1ec800"/><path d="M245.74,173.90 L247.84,169.79 L243.64,169.79Z" fill="#1ec800"/><path d="M251.78,177.13 L253.88,173.03 L249.68,173.03Z" fill="#1ec800"/><path d="M257.81,179.15 L259.91,175.05 L255.71,175.05Z" fill="#1ec800"/><path d="M263.84,181.09 L265.94,176.98 L261.74,176.98Z" fill="#1ec800"/><path d="M269.88,182.76 L271.98,178.65 L267.78,178.65Z" fill="#1ec800"/><path d="M275.91,183.76 L278.01,179.65 L273.81,179.65Z" fill="#1ec800"/><path d="M281.95,185.05 L284.05,180.95 L279.85,180.95Z" fill="#1ec800"/><path d="M287.99,186.36 L290.09,182.25 L285.88,182.25Z" fill="#1ec800"/><path d="M294.02,187.64 L296.12,183.53 L291.92,183.53Z" fill="#1ec800"/><path d="M300.06,188.83 L302.16,184.72 L297.95,184.72Z" fill="#1ec800"/><path d="M306.09,189.93 L308.19,185.83 L303.99,185.83Z" fill="#1ec800"/><path d="M312.12,190.96 L314.23,186.86 L310.02,186.86Z" fill="#1ec800"/><path d="M318.16,191.81 L320.26,187.70 L316.06,187.70Z" fill="#1ec800"/><path d="M324.20,192.37 L326.30,188.26 L322.10,188.26Z" fill="#1ec800"/><path d="M330.23,192.72 L332.33,188.62 L328.13,188.62Z" fill="#1ec800"/><path d="M336.27,192.98 L338.37,188.87 L334.17,188.87Z" fill="#1ec800"/><path d="M227.0,158.0 L227.9,158.0 L229.2,158.0 L230.6,158.0 L232.1,158.1 L233.5,158.5 L234.7,159.1 L236.0,160.0 L237.2,161.0 L238.3,162.0 L239.5,163.0 L240.6,164.0 L241.7,165.1 L242.8,166.1 L243.9,167.1 L245.0,168.0 L246.2,168.7 L247.4,169.4 L248.7,169.9 L250.0,170.5 L251.2,171.0 L252.4,171.5 L253.6,172.1 L254.7,172.6 L255.9,173.0 L257.1,173.5 L258.4,173.9 L259.7,174.4 L261.0,174.8 L262.3,175.2 L263.6,175.6 L264.8,176.0 L265.9,176.4 L266.9,176.8 L268.0,177.2 L269.2,177.5 L270.5,177.8 L271.8,178.0 L273.1,178.2 L274.4,178.4 L275.7,178.6 L276.7,178.8 L277.4,179.1 L278.2,179.3 L279.4,179.6 L281.3,180.0 L284.2,180.5 L287.8,181.2 L291.8,181.9 L296.0,182.6 L300.0,183.2 L303.9,183.8 L307.8,184.4 L311.8,185.0 L315.9,185.5 L320.0,186.0 L324.6,186.4 L329.7,186.7 L334.7,186.9 L339.0,187.1 L342.0,187.2" fill="none" stroke="#bb1010" stroke-width="1.0" stroke-linejoin="round" stroke-linecap="round" opacity="1.0"/><path d="M229.94,158.01 L226.02,156.01 L226.02,160.01Z" fill="#bb1010"/><path d="M235.97,158.58 L232.06,156.58 L232.06,160.58Z" fill="#bb1010"/><path d="M242.00,163.18 L238.09,161.18 L238.09,165.18Z" fill="#bb1010"/><path d="M248.04,168.47 L244.13,166.47 L244.13,170.47Z" fill="#bb1010"/><path d="M254.08,171.26 L250.16,169.26 L250.16,173.26Z" fill="#bb1010"/><path d="M260.11,173.75 L256.20,171.75 L256.20,175.75Z" fill="#bb1010"/><path d="M266.14,175.68 L262.23,173.68 L262.23,177.68Z" fill="#bb1010"/><path d="M272.18,177.65 L268.27,175.65 L268.27,179.65Z" fill="#bb1010"/><path d="M278.21,178.65 L274.30,176.65 L274.30,180.65Z" fill="#bb1010"/><path d="M284.25,180.12 L280.34,178.12 L280.34,182.12Z" fill="#bb1010"/><path d="M290.29,181.21 L286.38,179.21 L286.38,183.21Z" fill="#bb1010"/><path d="M296.32,182.24 L292.41,180.24 L292.41,184.24Z" fill="#bb1010"/><path d="M302.36,183.21 L298.44,181.21 L298.44,185.21Z" fill="#bb1010"/><path d="M308.39,184.16 L304.48,182.16 L304.48,186.16Z" fill="#bb1010"/><path d="M314.43,185.06 L310.51,183.06 L310.51,187.06Z" fill="#bb1010"/><path d="M320.46,185.81 L316.55,183.81 L316.55,187.81Z" fill="#bb1010"/><path d="M326.50,186.33 L322.59,184.33 L322.59,188.33Z" fill="#bb1010"/><path d="M332.53,186.68 L328.62,184.68 L328.62,188.68Z" fill="#bb1010"/><path d="M338.57,186.95 L334.66,184.95 L334.66,188.95Z" fill="#bb1010"/><path d="M225.9,208.1 L226.5,206.9 L227.3,205.0 L228.3,203.0 L229.3,201.2 L230.2,200.1 L231.0,199.7 L231.7,199.9 L232.4,200.3 L233.2,200.9 L233.9,201.4 L234.6,201.9 L235.4,202.6 L236.2,203.3 L236.9,204.0 L237.6,204.7 L238.3,205.4 L238.9,206.1 L239.5,206.8 L240.2,207.5 L240.8,208.1 L241.4,208.7 L242.1,209.2 L242.7,209.7 L243.4,210.2 L244.1,210.7 L244.8,211.3 L245.6,211.9 L246.4,212.5 L247.1,213.1 L247.9,213.6 L248.6,214.1 L249.4,214.6 L250.1,215.1 L250.9,215.5 L251.6,215.9 L252.3,216.2 L253.1,216.5 L253.8,216.7 L254.6,217.0 L255.3,217.3 L255.9,217.6 L256.5,218.0 L257.1,218.3 L257.8,218.7 L259.0,219.2 L260.6,219.8 L262.5,220.4 L264.7,221.1 L267.0,221.8 L269.2,222.4 L271.3,223.0 L273.5,223.5 L275.7,224.0 L278.2,224.5 L281.0,225.0 L284.3,225.5 L288.0,226.0 L292.0,226.5 L296.0,227.0 L300.0,227.5 L303.9,228.0 L307.8,228.5 L311.8,228.9 L315.9,229.4 L320.0,229.8 L324.6,230.2 L329.7,230.6 L334.7,231.0 L339.0,231.3 L342.0,231.5" fill="none" stroke="#111" stroke-width="0.9" stroke-linejoin="round" stroke-linecap="round" opacity="1.0"/><circle cx="225.95" cy="208.01" r="1.70" fill="#111"/><circle cx="229.57" cy="200.86" r="1.70" fill="#111"/><circle cx="233.19" cy="200.88" r="1.70" fill="#111"/><circle cx="236.81" cy="203.92" r="1.70" fill="#111"/><circle cx="240.43" cy="207.74" r="1.70" fill="#111"/><circle cx="244.05" cy="210.66" r="1.70" fill="#111"/><circle cx="247.67" cy="213.44" r="1.70" fill="#111"/><circle cx="251.29" cy="215.74" r="1.70" fill="#111"/><circle cx="254.91" cy="217.14" r="1.70" fill="#111"/><circle cx="258.53" cy="219.02" r="1.70" fill="#111"/><circle cx="262.16" cy="220.29" r="1.70" fill="#111"/><circle cx="265.78" cy="221.43" r="1.70" fill="#111"/><circle cx="269.40" cy="222.45" r="1.70" fill="#111"/><circle cx="287.99" cy="226.01" r="1.70" fill="#111"/><circle cx="294.02" cy="226.77" r="1.70" fill="#111"/><circle cx="300.06" cy="227.51" r="1.70" fill="#111"/><circle cx="306.09" cy="228.25" r="1.70" fill="#111"/><circle cx="312.12" cy="228.97" r="1.70" fill="#111"/><circle cx="318.16" cy="229.62" r="1.70" fill="#111"/><circle cx="324.20" cy="230.17" r="1.70" fill="#111"/><circle cx="330.23" cy="230.64" r="1.70" fill="#111"/><circle cx="336.27" cy="231.08" r="1.70" fill="#111"/><path d="M227.4,206.6 L228.3,207.1 L229.6,207.8 L231.2,208.6 L233.0,209.5 L235.0,210.5 L237.3,211.6 L239.8,213.0 L242.5,214.4 L245.3,215.7 L247.9,216.8 L250.2,217.7 L252.4,218.4 L254.6,219.1 L257.0,219.8 L260.0,220.5 L263.0,221.3 L265.8,222.2 L269.3,223.0 L274.1,224.0 L281.0,225.0 L291.6,226.2 L305.4,227.7 L320.1,229.1 L333.1,230.3 L342.0,231.2" fill="none" stroke="#e08a40" stroke-width="1.0" stroke-linejoin="round" stroke-linecap="round" opacity="1.0"/><path d="M227.4,212.5 L228.3,213.0 L229.5,213.6 L231.0,214.4 L232.5,215.2 L233.9,215.9 L235.2,216.6 L236.5,217.3 L237.9,218.0 L239.2,218.6 L240.4,219.2 L241.6,219.7 L242.7,220.1 L243.7,220.5 L244.8,220.8 L246.0,221.1 L247.3,221.4 L248.6,221.7 L249.9,221.9 L251.2,222.1 L252.5,222.4 L253.7,222.7 L254.8,222.9 L255.8,223.2 L256.9,223.5 L258.1,223.7 L259.4,223.9 L260.7,224.1 L262.0,224.4 L263.3,224.6 L264.6,224.8 L265.8,225.1 L266.9,225.3 L267.9,225.6 L269.0,225.9 L270.1,226.1 L271.2,226.3 L272.3,226.5 L273.5,226.7 L274.6,226.8 L275.7,227.0 L276.6,227.1 L277.3,227.3 L278.1,227.4 L279.3,227.6 L281.3,227.8 L284.2,228.1 L287.8,228.6 L291.8,229.0 L296.0,229.5 L300.0,230.0 L303.9,230.5 L307.8,230.9 L311.8,231.4 L315.9,231.9 L320.0,232.3 L324.6,232.7 L329.7,233.2 L334.7,233.6 L339.0,233.9 L342.0,234.2" fill="none" stroke="#1ec800" stroke-width="1.0" stroke-linejoin="round" stroke-linecap="round" opacity="1.0"/><path d="M227.63,215.04 L229.73,210.93 L225.53,210.93Z" fill="#1ec800"/><path d="M233.67,218.20 L235.77,214.09 L231.57,214.09Z" fill="#1ec800"/><path d="M239.70,221.30 L241.80,217.20 L237.60,217.20Z" fill="#1ec800"/><path d="M245.74,223.45 L247.84,219.34 L243.64,219.34Z" fill="#1ec800"/><path d="M251.78,224.67 L253.88,220.56 L249.68,220.56Z" fill="#1ec800"/><path d="M257.81,226.06 L259.91,221.95 L255.71,221.95Z" fill="#1ec800"/><path d="M263.84,227.07 L265.94,222.97 L261.74,222.97Z" fill="#1ec800"/><path d="M269.88,228.47 L271.98,224.36 L267.78,224.36Z" fill="#1ec800"/><path d="M275.91,229.45 L278.01,225.34 L273.81,225.34Z" fill="#1ec800"/><path d="M281.95,230.29 L284.05,226.19 L279.85,226.19Z" fill="#1ec800"/><path d="M287.99,231.01 L290.09,226.91 L285.88,226.91Z" fill="#1ec800"/><path d="M294.02,231.72 L296.12,227.61 L291.92,227.61Z" fill="#1ec800"/><path d="M300.06,232.42 L302.16,228.32 L297.95,228.32Z" fill="#1ec800"/><path d="M306.09,233.14 L308.19,229.03 L303.99,229.03Z" fill="#1ec800"/><path d="M312.12,233.86 L314.23,229.75 L310.02,229.75Z" fill="#1ec800"/><path d="M318.16,234.53 L320.26,230.42 L316.06,230.42Z" fill="#1ec800"/><path d="M324.20,235.11 L326.30,231.01 L322.10,231.01Z" fill="#1ec800"/><path d="M330.23,235.64 L332.33,231.53 L328.13,231.53Z" fill="#1ec800"/><path d="M336.27,236.14 L338.37,232.04 L334.17,232.04Z" fill="#1ec800"/><path d="M228.0,207.0 L229.6,208.0 L231.9,209.4 L234.6,211.0 L237.4,212.6 L240.0,214.0 L242.4,215.1 L244.8,216.1 L247.2,216.9 L249.6,217.7 L252.0,218.5 L254.3,219.2 L256.5,219.8 L258.8,220.4 L261.3,220.9 L264.0,221.5 L267.1,222.2 L270.5,222.8 L274.0,223.5 L277.7,224.2 L281.3,224.8 L284.9,225.4 L288.6,226.0 L292.4,226.5 L296.2,227.0 L300.0,227.5 L303.9,228.0 L307.8,228.4 L311.8,228.8 L315.9,229.2 L320.0,229.5 L324.6,229.8 L329.7,230.1 L334.7,230.4 L339.0,230.6 L342.0,230.8" fill="none" stroke="#bb1010" stroke-width="0.9" stroke-linejoin="round" stroke-linecap="round" opacity="1.0"/><path d="M235.85,210.47 L232.14,208.57 L232.14,212.37Z" fill="#bb1010"/><path d="M241.89,213.85 L238.18,211.95 L238.18,215.75Z" fill="#bb1010"/><path d="M247.93,216.40 L244.21,214.50 L244.21,218.30Z" fill="#bb1010"/><path d="M253.96,218.43 L250.25,216.53 L250.25,220.33Z" fill="#bb1010"/><path d="M260.00,220.11 L256.28,218.21 L256.28,222.01Z" fill="#bb1010"/><path d="M266.03,221.47 L262.32,219.57 L262.32,223.37Z" fill="#bb1010"/><path d="M272.06,222.71 L268.35,220.81 L268.35,224.61Z" fill="#bb1010"/><path d="M278.10,223.86 L274.39,221.96 L274.39,225.76Z" fill="#bb1010"/><path d="M284.13,224.91 L280.42,223.01 L280.42,226.81Z" fill="#bb1010"/><path d="M290.17,225.86 L286.46,223.96 L286.46,227.76Z" fill="#bb1010"/><path d="M296.20,226.73 L292.49,224.83 L292.49,228.63Z" fill="#bb1010"/><path d="M302.24,227.51 L298.53,225.61 L298.53,229.41Z" fill="#bb1010"/><path d="M308.28,228.20 L304.56,226.30 L304.56,230.10Z" fill="#bb1010"/><path d="M314.31,228.82 L310.60,226.92 L310.60,230.72Z" fill="#bb1010"/><path d="M320.35,229.35 L316.63,227.45 L316.63,231.25Z" fill="#bb1010"/><path d="M326.38,229.80 L322.67,227.90 L322.67,231.70Z" fill="#bb1010"/><path d="M332.42,230.16 L328.70,228.26 L328.70,232.06Z" fill="#bb1010"/><path d="M338.45,230.49 L334.74,228.59 L334.74,232.39Z" fill="#bb1010"/><path d="M36.5,318.7 L37.7,318.4 L39.5,318.0 L41.5,317.5 L43.5,317.0 L45.3,316.4 L46.9,315.8 L48.4,315.1 L49.8,314.4 L51.1,313.6 L52.4,312.9 L53.5,312.2 L54.6,311.5 L55.5,310.7 L56.4,310.0 L57.4,309.3 L58.4,308.6 L59.4,307.9 L60.4,307.2 L61.4,306.5 L62.4,305.7 L63.4,304.9 L64.3,304.0 L65.2,303.2 L66.2,302.3 L67.1,301.5 L68.0,300.7 L69.0,300.0 L69.9,299.3 L70.8,298.6 L71.7,297.9 L72.5,297.2 L73.2,296.5 L73.9,295.7 L74.6,295.0 L75.3,294.3 L76.0,293.6 L76.7,292.9 L77.4,292.2 L78.1,291.5 L78.9,290.7 L79.7,289.9 L80.4,289.1 L81.2,288.2 L82.1,287.3 L83.1,286.4 L84.3,285.5 L85.5,284.5 L86.9,283.5 L88.4,282.5 L90.0,281.5 L91.8,280.6 L93.8,279.6 L95.9,278.7 L98.0,277.8 L100.0,277.1 L102.0,276.5 L104.0,276.0 L106.0,275.5 L108.0,275.2 L110.0,275.0 L112.0,275.0 L114.0,275.1 L116.0,275.3 L118.0,275.5 L120.0,275.8 L122.2,276.1 L124.5,276.5 L126.7,276.9 L128.6,277.3 L130.0,277.5" fill="none" stroke="#e23a3a" stroke-width="1.0" stroke-linejoin="round" stroke-linecap="round" opacity="1.0"/><path d="M84.0,285.7 L84.8,285.1 L85.8,284.3 L87.0,283.4 L88.4,282.4 L90.0,281.5 L91.7,280.6 L93.7,279.6 L95.8,278.7 L97.9,277.8 L100.0,277.1 L102.0,276.5 L104.0,276.0 L106.0,275.5 L108.0,275.2 L110.0,275.0 L112.0,275.0 L114.0,275.1 L116.0,275.3 L118.0,275.5 L120.0,275.8 L122.2,276.1 L124.5,276.5 L126.7,276.9 L128.6,277.3 L130.0,277.5" fill="none" stroke="#111" stroke-width="2.4" stroke-linejoin="round" stroke-linecap="round" opacity="1.0"/><circle cx="36.47" cy="318.70" r="1.70" fill="#111"/><circle cx="45.00" cy="316.50" r="1.70" fill="#111"/><circle cx="51.97" cy="313.15" r="1.70" fill="#111"/><circle cx="57.86" cy="308.97" r="1.70" fill="#111"/><circle cx="62.96" cy="305.23" r="1.70" fill="#111"/><circle cx="67.46" cy="301.20" r="1.70" fill="#111"/><circle cx="71.49" cy="298.08" r="1.70" fill="#111"/><circle cx="75.13" cy="294.47" r="1.70" fill="#111"/><circle cx="78.46" cy="291.15" r="1.70" fill="#111"/><circle cx="81.52" cy="287.86" r="1.70" fill="#111"/><circle cx="84.35" cy="285.38" r="1.70" fill="#111"/><circle cx="86.99" cy="283.38" r="1.70" fill="#111"/><circle cx="89.45" cy="281.81" r="1.70" fill="#111"/><circle cx="91.77" cy="280.57" r="1.70" fill="#111"/><circle cx="93.95" cy="279.51" r="1.70" fill="#111"/><circle cx="96.02" cy="278.60" r="1.70" fill="#111"/><circle cx="97.98" cy="277.81" r="1.70" fill="#111"/><circle cx="99.85" cy="277.15" r="1.70" fill="#111"/><path d="M42.4,312.4 L43.4,311.8 L44.7,311.0 L46.3,310.0 L47.9,309.0 L49.3,308.1 L50.6,307.4 L51.8,306.7 L53.0,306.0 L54.2,305.3 L55.3,304.6 L56.4,303.8 L57.5,302.9 L58.5,302.1 L59.5,301.2 L60.5,300.4 L61.4,299.7 L62.2,299.0 L63.0,298.3 L63.8,297.7 L64.6,297.0 L65.4,296.4 L66.2,295.8 L67.0,295.2 L68.1,294.4 L69.4,293.3 L71.2,291.8 L73.3,289.9 L75.5,287.9 L77.8,285.8 L80.0,284.0 L82.0,282.3 L84.0,280.7 L86.0,279.2 L88.0,277.7 L90.0,276.5 L92.0,275.4 L94.0,274.5 L96.0,273.8 L98.0,273.1 L100.0,272.6 L102.0,272.1 L104.0,271.8 L106.0,271.6 L108.0,271.5 L110.0,271.5 L112.0,271.7 L114.0,272.1 L116.0,272.7 L118.0,273.2 L120.0,273.8 L122.0,274.4 L124.0,275.0 L126.0,275.6 L128.0,276.3 L130.0,277.0 L132.0,277.7 L134.0,278.5 L136.0,279.4 L138.0,280.2 L140.0,281.0 L142.0,281.8 L144.1,282.6 L146.1,283.4 L148.1,284.2 L150.0,285.0 L151.9,285.8 L153.7,286.8 L155.5,287.6 L156.9,288.4 L158.0,288.9" fill="none" stroke="#8cf03c" stroke-width="1.8" stroke-linejoin="round" stroke-linecap="round" opacity="1.0"/><path d="M76.0,287.4 L76.4,287.0 L77.0,286.5 L77.8,285.8 L78.8,285.0 L80.0,284.0 L81.6,282.7 L83.6,281.1 L85.7,279.4 L87.9,277.8 L90.0,276.5 L92.0,275.4 L94.0,274.5 L96.0,273.8 L98.0,273.1 L100.0,272.6 L102.0,272.1 L104.0,271.8 L106.0,271.6 L108.0,271.5 L110.0,271.5 L112.0,271.7 L114.0,272.1 L116.0,272.7 L118.0,273.2 L120.0,273.8 L122.0,274.4 L124.0,275.0 L126.0,275.6 L128.0,276.3 L130.0,277.0 L132.0,277.7 L134.0,278.5 L136.0,279.4 L138.0,280.2 L140.0,281.0 L142.0,281.8 L144.1,282.6 L146.1,283.4 L148.1,284.2 L150.0,285.0 L151.9,285.8 L153.7,286.8 L155.5,287.6 L156.9,288.4 L158.0,288.9" fill="none" stroke="#1ec800" stroke-width="3.0" stroke-linejoin="round" stroke-linecap="round" opacity="1.0"/><path d="M48.64,306.60 L50.54,308.50 L48.64,310.40 L46.74,308.50Z" fill="#1ec800"/><path d="M55.03,302.88 L56.93,304.78 L55.03,306.68 L53.13,304.78Z" fill="#1ec800"/><path d="M60.50,298.50 L62.40,300.40 L60.50,302.30 L58.60,300.40Z" fill="#1ec800"/><path d="M65.28,294.58 L67.18,296.48 L65.28,298.38 L63.38,296.48Z" fill="#1ec800"/><path d="M69.53,291.29 L71.43,293.19 L69.53,295.09 L67.63,293.19Z" fill="#1ec800"/><path d="M73.36,287.90 L75.26,289.80 L73.36,291.70 L71.46,289.80Z" fill="#1ec800"/><path d="M76.83,284.80 L78.73,286.70 L76.83,288.60 L74.93,286.70Z" fill="#1ec800"/><path d="M80.02,282.08 L81.92,283.98 L80.02,285.88 L78.12,283.98Z" fill="#1ec800"/><path d="M82.96,279.67 L84.86,281.57 L82.96,283.47 L81.06,281.57Z" fill="#1ec800"/><path d="M85.69,277.51 L87.59,279.41 L85.69,281.31 L83.79,279.41Z" fill="#1ec800"/><path d="M88.24,275.69 L90.14,277.59 L88.24,279.49 L86.34,277.59Z" fill="#1ec800"/><path d="M90.63,274.25 L92.53,276.15 L90.63,278.05 L88.73,276.15Z" fill="#1ec800"/><path d="M92.88,273.13 L94.78,275.03 L92.88,276.93 L90.98,275.03Z" fill="#1ec800"/><path d="M95.00,272.25 L96.90,274.15 L95.00,276.05 L93.10,274.15Z" fill="#1ec800"/><path d="M97.01,271.55 L98.91,273.45 L97.01,275.35 L95.11,273.45Z" fill="#1ec800"/><path d="M98.92,270.98 L100.82,272.88 L98.92,274.78 L97.02,272.88Z" fill="#1ec800"/><path d="M48.9,305.8 L49.7,305.1 L50.9,304.2 L52.3,303.1 L53.7,302.0 L55.0,301.0 L56.1,300.1 L57.1,299.2 L58.2,298.3 L59.1,297.5 L60.1,296.6 L61.1,295.7 L62.0,294.8 L62.9,293.9 L63.8,293.0 L64.6,292.2 L65.4,291.4 L66.1,290.7 L66.8,290.0 L67.5,289.3 L68.3,288.5 L69.2,287.7 L70.2,286.9 L71.2,286.0 L72.3,285.1 L73.4,284.2 L74.6,283.2 L75.8,282.2 L77.0,281.1 L78.4,280.0 L80.0,278.8 L81.8,277.5 L83.8,276.1 L85.8,274.7 L87.9,273.4 L90.0,272.2 L92.0,271.2 L94.0,270.3 L96.0,269.4 L98.0,268.7 L100.0,268.2 L102.0,267.8 L104.0,267.6 L106.0,267.4 L108.0,267.4 L110.0,267.5 L112.0,267.7 L114.0,268.1 L116.0,268.5 L118.0,269.0 L120.0,269.5 L122.0,270.0 L124.0,270.6 L126.0,271.2 L128.0,271.8 L130.0,272.5 L132.0,273.2 L134.0,274.0 L136.0,274.9 L138.0,275.7 L140.0,276.5 L142.0,277.3 L144.1,278.1 L146.1,278.9 L148.1,279.7 L150.0,280.5 L151.9,281.3 L153.7,282.2 L155.5,283.1 L156.9,283.8 L158.0,284.3" fill="none" stroke="#bb1010" stroke-width="0.8" stroke-linejoin="round" stroke-linecap="round" opacity="1.0"/><path d="M76.0,282.0 L76.4,281.6 L77.0,281.1 L77.8,280.5 L78.8,279.7 L80.0,278.8 L81.6,277.7 L83.6,276.3 L85.7,274.8 L87.9,273.4 L90.0,272.2 L92.0,271.2 L94.0,270.3 L96.0,269.4 L98.0,268.7 L100.0,268.2 L102.0,267.8 L104.0,267.6 L106.0,267.4 L108.0,267.4 L110.0,267.5 L112.0,267.7 L114.0,268.1 L116.0,268.5 L118.0,269.0 L120.0,269.5 L122.0,270.0 L124.0,270.6 L126.0,271.2 L128.0,271.8 L130.0,272.5 L132.0,273.2 L134.0,274.0 L136.0,274.9 L138.0,275.7 L140.0,276.5 L142.0,277.3 L144.1,278.1 L146.1,278.9 L148.1,279.7 L150.0,280.5 L151.9,281.3 L153.7,282.2 L155.5,283.1 L156.9,283.8 L158.0,284.3" fill="none" stroke="#bb1010" stroke-width="2.8" stroke-linejoin="round" stroke-linecap="round" opacity="1.0"/><path d="M55.0,298.8L56.9,302.5L53.1,302.5Z" fill="#bb1010"/><path d="M60.5,294.0L62.4,297.8L58.6,297.8Z" fill="#bb1010"/><path d="M65.3,289.3L67.2,293.0L63.4,293.0Z" fill="#bb1010"/><path d="M69.5,285.2L71.4,288.9L67.6,288.9Z" fill="#bb1010"/><path d="M73.4,282.1L75.3,285.8L71.5,285.8Z" fill="#bb1010"/><path d="M76.8,279.1L78.7,282.8L74.9,282.8Z" fill="#bb1010"/><path d="M80.0,276.6L81.9,280.3L78.1,280.3Z" fill="#bb1010"/><path d="M83.0,274.5L84.9,278.2L81.1,278.2Z" fill="#bb1010"/><path d="M85.7,272.6L87.6,276.3L83.8,276.3Z" fill="#bb1010"/><path d="M88.2,271.0L90.1,274.7L86.3,274.7Z" fill="#bb1010"/><path d="M90.6,269.7L92.5,273.4L88.7,273.4Z" fill="#bb1010"/><path d="M92.9,268.6L94.8,272.3L91.0,272.3Z" fill="#bb1010"/><path d="M95.0,267.6L96.9,271.4L93.1,271.4Z" fill="#bb1010"/><path d="M97.0,266.9L98.9,270.6L95.1,270.6Z" fill="#bb1010"/><path d="M98.9,266.3L100.8,270.0L97.0,270.0Z" fill="#bb1010"/><path d="M36.5,356.6 L37.7,356.2 L39.5,355.7 L41.5,355.1 L43.6,354.4 L45.3,353.7 L46.7,352.9 L47.9,352.1 L49.1,351.2 L50.3,350.3 L51.7,349.4 L53.2,348.5 L54.8,347.6 L56.5,346.7 L58.2,345.7 L60.0,344.5 L61.9,343.2 L63.8,341.7 L65.8,340.1 L67.9,338.5 L70.0,337.0 L72.2,335.5 L74.5,334.1 L76.8,332.6 L79.2,331.1 L81.7,329.5 L84.2,327.7 L86.8,325.8 L89.5,323.9 L92.2,322.1 L95.0,320.5 L97.9,319.1 L100.9,317.8 L103.9,316.6 L107.0,315.7 L110.0,315.0 L113.0,314.7 L116.0,314.6 L119.0,314.8 L122.0,315.1 L125.0,315.5 L128.0,315.9 L130.9,316.5 L133.8,317.1 L136.8,317.8 L140.0,318.5 L143.7,319.3 L147.8,320.2 L152.0,321.1 L155.5,321.9 L158.0,322.5" fill="none" stroke="#111" stroke-width="1.0" stroke-linejoin="round" stroke-linecap="round" opacity="1.0"/><path d="M60.0,344.5 L59.8,344.6 L59.5,344.9 L59.3,345.0 L59.4,345.0 L60.0,344.5 L61.3,343.5 L63.2,342.0 L65.4,340.4 L67.7,338.6 L70.0,337.0 L72.2,335.5 L74.5,334.1 L76.8,332.6 L79.2,331.1 L81.7,329.5 L84.2,327.7 L86.8,325.8 L89.5,323.9 L92.2,322.1 L95.0,320.5 L97.9,319.1 L100.9,317.8 L103.9,316.6 L107.0,315.7 L110.0,315.0 L113.0,314.7 L116.0,314.6 L119.0,314.8 L122.0,315.1 L125.0,315.5 L128.0,315.9 L130.9,316.5 L133.8,317.1 L136.8,317.8 L140.0,318.5 L143.7,319.3 L147.8,320.2 L152.0,321.1 L155.5,321.9 L158.0,322.5" fill="none" stroke="#111" stroke-width="2.0" stroke-linejoin="round" stroke-linecap="round" opacity="1.0"/><circle cx="36.47" cy="356.60" r="1.70" fill="#111"/><circle cx="45.00" cy="353.83" r="1.70" fill="#111"/><circle cx="51.97" cy="349.24" r="1.70" fill="#111"/><circle cx="57.86" cy="345.86" r="1.70" fill="#111"/><path d="M63.1,333.7 L64.7,332.6 L67.0,331.2 L69.7,329.4 L72.5,327.6 L75.0,326.0 L77.3,324.5 L79.6,322.9 L81.8,321.4 L83.9,320.0 L86.0,318.7 L87.8,317.5 L89.5,316.5 L91.1,315.5 L92.8,314.5 L95.0,313.6 L97.6,312.6 L100.6,311.5 L103.7,310.5 L106.9,309.7 L110.0,309.2 L113.0,309.1 L116.0,309.2 L119.0,309.5 L122.0,310.0 L125.0,310.5 L128.0,311.0 L130.9,311.7 L133.8,312.4 L136.8,313.2 L140.0,314.0 L143.7,315.0 L147.8,316.1 L152.0,317.2 L155.5,318.1 L158.0,318.8" fill="none" stroke="#e6b68a" stroke-width="1.6" stroke-linejoin="round" stroke-linecap="round" opacity="1.0"/><path d="M86.0,318.7 L85.9,318.8 L85.6,318.9 L85.4,319.1 L85.4,319.0 L86.0,318.7 L87.1,318.0 L88.7,317.0 L90.5,315.8 L92.7,314.7 L95.0,313.6 L97.6,312.6 L100.6,311.5 L103.7,310.5 L106.9,309.7 L110.0,309.2 L113.0,309.1 L116.0,309.2 L119.0,309.5 L122.0,310.0 L125.0,310.5 L128.0,311.0 L130.9,311.7 L133.8,312.4 L136.8,313.2 L140.0,314.0 L143.7,315.0 L147.8,316.1 L152.0,317.2 L155.5,318.1 L158.0,318.8" fill="none" stroke="#e6b68a" stroke-width="3.2" stroke-linejoin="round" stroke-linecap="round" opacity="1.0"/><path d="M48.9,343.4 L49.7,343.1 L50.8,342.6 L52.0,342.0 L53.4,341.4 L54.6,340.9 L55.8,340.5 L56.9,340.0 L58.1,339.6 L59.2,339.2 L60.3,338.7 L61.4,338.2 L62.4,337.6 L63.4,337.1 L64.4,336.5 L65.3,335.9 L66.1,335.4 L66.8,335.0 L67.5,334.5 L68.4,333.9 L69.6,333.0 L71.2,331.9 L73.1,330.6 L75.2,329.1 L77.5,327.5 L80.0,325.8 L82.7,323.9 L85.6,321.8 L88.7,319.7 L91.9,317.7 L95.0,316.0 L98.1,314.6 L101.3,313.3 L104.6,312.3 L107.7,311.5 L110.8,311.0 L113.7,310.9 L116.6,311.0 L119.3,311.4 L122.1,312.0 L125.0,312.5 L127.9,313.1 L130.8,313.7 L133.7,314.4 L136.8,315.2 L140.0,316.0 L143.7,317.0 L147.8,318.1 L152.0,319.2 L155.5,320.1 L158.0,320.8" fill="none" stroke="#bb1010" stroke-width="1.0" stroke-linejoin="round" stroke-linecap="round" opacity="1.0"/><path d="M72.0,331.3 L73.0,330.6 L74.3,329.7 L75.9,328.6 L77.8,327.3 L80.0,325.8 L82.5,324.0 L85.5,322.0 L88.6,319.8 L91.8,317.7 L95.0,316.0 L98.1,314.6 L101.3,313.3 L104.6,312.3 L107.7,311.5 L110.8,311.0 L113.7,310.9 L116.6,311.0 L119.3,311.4 L122.1,312.0 L125.0,312.5 L127.9,313.1 L130.8,313.7 L133.7,314.4 L136.8,315.2 L140.0,316.0 L143.7,317.0 L147.8,318.1 L152.0,319.2 L155.5,320.1 L158.0,320.8" fill="none" stroke="#bb1010" stroke-width="3.0" stroke-linejoin="round" stroke-linecap="round" opacity="1.0"/><path d="M55.0,338.4L57.0,342.3L53.0,342.3Z" fill="#bb1010"/><path d="M60.5,336.3L62.5,340.2L58.5,340.2Z" fill="#bb1010"/><path d="M65.3,333.6L67.3,337.5L63.3,337.5Z" fill="#bb1010"/><path d="M69.5,330.7L71.5,334.7L67.5,334.7Z" fill="#bb1010"/><path d="M73.4,328.1L75.4,332.0L71.4,332.0Z" fill="#bb1010"/><path d="M76.8,325.7L78.8,329.6L74.8,329.6Z" fill="#bb1010"/><path d="M80.0,323.5L82.0,327.4L78.0,327.4Z" fill="#bb1010"/><path d="M83.0,321.4L85.0,325.3L81.0,325.3Z" fill="#bb1010"/><path d="M85.7,319.5L87.7,323.4L83.7,323.4Z" fill="#bb1010"/><path d="M88.2,317.7L90.2,321.6L86.2,321.6Z" fill="#bb1010"/><path d="M90.6,316.2L92.6,320.1L88.6,320.1Z" fill="#bb1010"/><path d="M92.9,314.8L94.9,318.7L90.9,318.7Z" fill="#bb1010"/><path d="M36.0,357.3 L37.8,356.0 L40.3,354.1 L43.3,351.9 L46.6,349.5 L50.0,347.0 L53.7,344.3 L57.8,341.3 L62.0,338.2 L66.2,335.2 L70.0,332.3 L73.6,329.6 L77.0,326.9 L80.3,324.3 L83.3,322.0 L86.0,320.1 L88.2,318.7 L89.8,317.6 L91.3,316.9 L92.9,316.2 L95.0,315.5 L97.1,314.6 L99.0,313.6 L101.3,312.8 L104.8,312.3 L110.0,312.5 L118.3,313.7 L129.1,315.7 L140.7,318.0 L150.9,320.1 L158.0,321.5" fill="none" stroke="#e23a3a" stroke-width="1.0" stroke-linejoin="round" stroke-linecap="round" opacity="1.0"/><path d="M49.6,352.3 L50.7,351.6 L52.2,350.7 L53.9,349.5 L55.8,348.4 L57.4,347.3 L58.9,346.3 L60.3,345.3 L61.8,344.4 L63.2,343.3 L64.6,342.3 L66.0,341.2 L67.4,340.0 L68.9,338.9 L70.3,337.7 L71.7,336.6 L73.2,335.5 L74.6,334.5 L76.1,333.5 L77.6,332.5 L78.9,331.6 L80.0,330.9 L80.9,330.2 L81.8,329.7 L82.9,328.9 L84.6,328.0 L87.0,326.7 L89.9,325.2 L93.0,323.6 L96.1,322.0 L99.0,320.5 L101.5,319.0 L103.8,317.3 L106.0,315.8 L108.3,314.6 L110.8,313.8 L113.5,313.6 L116.3,314.0 L119.1,314.6 L122.1,315.3 L125.0,316.0 L127.9,316.7 L130.8,317.4 L133.7,318.2 L136.8,319.1 L140.0,320.0 L143.7,321.1 L147.8,322.5 L152.0,323.8 L155.5,325.0 L158.0,325.8" fill="none" stroke="#1ec800" stroke-width="1.2" stroke-linejoin="round" stroke-linecap="round" opacity="1.0"/><path d="M80.0,330.9 L80.5,330.5 L81.0,330.1 L81.8,329.6 L83.0,328.9 L84.6,328.0 L86.9,326.8 L89.8,325.3 L93.0,323.7 L96.1,322.0 L99.0,320.5 L101.5,319.0 L103.8,317.3 L106.0,315.8 L108.3,314.6 L110.8,313.8 L113.5,313.6 L116.3,314.0 L119.1,314.6 L122.1,315.3 L125.0,316.0 L127.9,316.7 L130.8,317.4 L133.7,318.2 L136.8,319.1 L140.0,320.0 L143.7,321.1 L147.8,322.5 L152.0,323.8 L155.5,325.0 L158.0,325.8" fill="none" stroke="#1ec800" stroke-width="3.2" stroke-linejoin="round" stroke-linecap="round" opacity="1.0"/><path d="M55.03,351.15 L57.03,347.24 L53.03,347.24Z" fill="#1ec800"/><path d="M60.50,347.52 L62.50,343.61 L58.50,343.61Z" fill="#1ec800"/><path d="M65.28,344.08 L67.28,340.17 L63.28,340.17Z" fill="#1ec800"/><path d="M69.53,340.61 L71.53,336.70 L67.53,336.70Z" fill="#1ec800"/><path d="M73.36,337.69 L75.36,333.78 L71.36,333.78Z" fill="#1ec800"/><path d="M76.83,335.29 L78.83,331.38 L74.83,331.38Z" fill="#1ec800"/><path d="M80.02,333.14 L82.02,329.23 L78.02,329.23Z" fill="#1ec800"/><path d="M82.96,331.23 L84.96,327.32 L80.96,327.32Z" fill="#1ec800"/><path d="M85.69,329.71 L87.69,325.80 L83.69,325.80Z" fill="#1ec800"/><path d="M88.24,328.38 L90.24,324.47 L86.24,324.47Z" fill="#1ec800"/><path d="M90.63,327.15 L92.63,323.24 L88.63,323.24Z" fill="#1ec800"/><path d="M92.88,326.00 L94.88,322.09 L90.88,322.09Z" fill="#1ec800"/><path d="M95.00,324.90 L97.00,320.99 L93.00,320.99Z" fill="#1ec800"/><path d="M97.01,323.86 L99.01,319.95 L95.01,319.95Z" fill="#1ec800"/><path d="M98.92,322.84 L100.92,318.93 L96.92,318.93Z" fill="#1ec800"/><path d="M227.6,307.0 L228.3,304.7 L229.3,301.4 L230.5,297.6 L231.8,293.9 L233.0,290.8 L234.2,288.3 L235.6,286.0 L236.9,284.0 L238.2,282.2 L239.5,280.6 L240.7,279.2 L241.8,278.1 L242.9,277.2 L244.0,276.5 L245.1,275.9 L246.3,275.5 L247.5,275.2 L248.8,275.1 L250.0,275.1 L251.2,275.0 L252.4,274.9 L253.6,274.9 L254.7,274.9 L255.9,274.9 L257.1,275.0 L258.3,275.1 L259.5,275.3 L260.7,275.5 L261.9,275.7 L263.1,275.9 L264.3,276.0 L265.5,276.1 L266.8,276.2 L268.0,276.3 L269.2,276.5 L270.4,276.7 L271.6,277.0 L272.9,277.2 L274.1,277.5 L275.3,277.8 L276.3,278.0 L277.1,278.3 L278.0,278.5 L279.3,278.8 L281.3,279.1 L284.2,279.5 L287.8,280.0 L291.8,280.5 L296.0,281.0 L300.0,281.5 L303.9,282.0 L307.8,282.6 L311.8,283.2 L315.9,283.7 L320.0,284.3 L324.6,284.9 L329.7,285.6 L334.7,286.2 L339.0,286.7 L342.0,287.1" fill="none" stroke="#bb1010" stroke-width="0.9" stroke-linejoin="round" stroke-linecap="round" opacity="1.0"/><path d="M227.6,304.5L229.7,308.6L225.5,308.6Z" fill="#bb1010"/><path d="M233.7,287.0L235.8,291.1L231.6,291.1Z" fill="#bb1010"/><path d="M239.7,277.9L241.8,282.0L237.6,282.0Z" fill="#bb1010"/><path d="M245.7,273.2L247.8,277.3L243.6,277.3Z" fill="#bb1010"/><path d="M251.8,272.5L253.9,276.7L249.7,276.7Z" fill="#bb1010"/><path d="M257.8,272.7L259.9,276.8L255.7,276.8Z" fill="#bb1010"/><path d="M263.8,273.6L265.9,277.7L261.7,277.7Z" fill="#bb1010"/><path d="M269.9,274.2L272.0,278.3L267.8,278.3Z" fill="#bb1010"/><path d="M275.9,275.5L278.0,279.6L273.8,279.6Z" fill="#bb1010"/><path d="M281.9,276.8L284.1,280.9L279.8,280.9Z" fill="#bb1010"/><path d="M288.0,277.6L290.1,281.7L285.9,281.7Z" fill="#bb1010"/><path d="M294.0,278.3L296.1,282.4L291.9,282.4Z" fill="#bb1010"/><path d="M300.1,279.1L302.2,283.2L298.0,283.2Z" fill="#bb1010"/><path d="M306.1,279.9L308.2,284.0L304.0,284.0Z" fill="#bb1010"/><path d="M312.1,280.8L314.2,284.9L310.0,284.9Z" fill="#bb1010"/><path d="M318.2,281.6L320.3,285.7L316.1,285.7Z" fill="#bb1010"/><path d="M324.2,282.4L326.3,286.5L322.1,286.5Z" fill="#bb1010"/><path d="M330.2,283.2L332.3,287.3L328.1,287.3Z" fill="#bb1010"/><path d="M336.3,284.0L338.4,288.1L334.2,288.1Z" fill="#bb1010"/><path d="M227.5,309.0 L227.9,308.7 L228.4,308.4 L229.0,308.0 L229.6,307.2 L230.2,306.2 L230.7,304.7 L231.2,302.9 L231.7,300.8 L232.3,298.6 L233.0,296.5 L233.9,294.3 L235.0,292.0 L236.2,289.8 L237.4,287.7 L238.6,286.0 L239.7,284.8 L240.8,283.8 L241.8,283.2 L242.9,282.6 L244.1,282.0 L245.3,281.4 L246.6,280.9 L248.0,280.5 L249.3,280.1 L250.6,279.8 L251.9,279.5 L253.2,279.3 L254.5,279.2 L255.8,279.0 L257.1,279.0 L258.4,279.0 L259.7,279.1 L261.1,279.3 L262.4,279.5 L263.6,279.6 L264.8,279.7 L265.9,279.8 L267.0,279.9 L268.1,280.0 L269.2,280.2 L270.4,280.4 L271.6,280.7 L272.8,281.0 L274.1,281.3 L275.3,281.5 L276.3,281.6 L277.1,281.7 L278.0,281.8 L279.3,281.9 L281.3,282.1 L284.2,282.5 L287.8,282.9 L291.8,283.4 L296.0,284.0 L300.0,284.5 L303.9,285.1 L307.8,285.7 L311.8,286.3 L315.9,286.9 L320.0,287.5 L324.6,288.1 L329.7,288.8 L334.7,289.4 L339.0,289.9 L342.0,290.3" fill="none" stroke="#111" stroke-width="0.9" stroke-linejoin="round" stroke-linecap="round" opacity="1.0"/><circle cx="232.46" cy="297.97" r="1.75" fill="#111"/><circle cx="238.50" cy="286.14" r="1.75" fill="#111"/><circle cx="244.53" cy="281.79" r="1.75" fill="#111"/><circle cx="250.57" cy="279.81" r="1.75" fill="#111"/><circle cx="256.60" cy="279.01" r="1.75" fill="#111"/><circle cx="262.64" cy="279.49" r="1.75" fill="#111"/><circle cx="268.67" cy="280.12" r="1.75" fill="#111"/><circle cx="274.71" cy="281.40" r="1.75" fill="#111"/><circle cx="280.74" cy="282.04" r="1.75" fill="#111"/><circle cx="286.78" cy="282.77" r="1.75" fill="#111"/><circle cx="292.81" cy="283.54" r="1.75" fill="#111"/><circle cx="298.85" cy="284.34" r="1.75" fill="#111"/><circle cx="304.88" cy="285.22" r="1.75" fill="#111"/><circle cx="310.92" cy="286.15" r="1.75" fill="#111"/><circle cx="316.95" cy="287.06" r="1.75" fill="#111"/><circle cx="322.99" cy="287.90" r="1.75" fill="#111"/><circle cx="329.02" cy="288.68" r="1.75" fill="#111"/><circle cx="335.06" cy="289.44" r="1.75" fill="#111"/><circle cx="341.09" cy="290.19" r="1.75" fill="#111"/><path d="M227.1,308.4 L227.9,306.6 L229.0,304.0 L230.4,301.0 L231.7,298.0 L233.0,295.4 L234.1,293.1 L235.3,290.8 L236.4,288.7 L237.5,286.8 L238.6,285.2 L239.7,284.0 L240.8,283.2 L241.8,282.5 L242.9,282.0 L244.1,281.5 L245.3,281.0 L246.6,280.6 L248.0,280.2 L249.3,279.9 L250.6,279.6 L251.9,279.3 L253.2,279.1 L254.5,278.9 L255.8,278.7 L257.1,278.7 L258.4,278.8 L259.7,278.9 L261.1,279.2 L262.4,279.4 L263.6,279.6 L264.8,279.7 L265.9,279.8 L267.0,279.9 L268.1,280.0 L269.2,280.2 L270.4,280.4 L271.6,280.7 L272.8,281.0 L274.1,281.3 L275.3,281.5 L276.3,281.7 L277.1,281.8 L278.0,281.9 L279.3,282.0 L281.3,282.3 L284.2,282.7 L287.8,283.2 L291.8,283.8 L296.0,284.4 L300.0,285.0 L303.9,285.6 L307.8,286.2 L311.8,286.8 L315.9,287.4 L320.0,288.0 L324.6,288.6 L329.7,289.3 L334.7,289.9 L339.0,290.4 L342.0,290.8" fill="none" stroke="#1ec800" stroke-width="1.0" stroke-linejoin="round" stroke-linecap="round" opacity="1.0"/><path d="M227.63,309.73 L229.83,305.43 L225.44,305.43Z" fill="#1ec800"/><path d="M233.67,296.57 L235.87,292.27 L231.47,292.27Z" fill="#1ec800"/><path d="M239.70,286.53 L241.90,282.23 L237.50,282.23Z" fill="#1ec800"/><path d="M245.74,283.38 L247.94,279.08 L243.54,279.08Z" fill="#1ec800"/><path d="M251.78,281.88 L253.97,277.58 L249.58,277.58Z" fill="#1ec800"/><path d="M257.81,281.25 L260.01,276.95 L255.61,276.95Z" fill="#1ec800"/><path d="M263.84,282.16 L266.04,277.86 L261.64,277.86Z" fill="#1ec800"/><path d="M269.88,282.85 L272.08,278.55 L267.68,278.55Z" fill="#1ec800"/><path d="M275.91,284.13 L278.11,279.83 L273.71,279.83Z" fill="#1ec800"/><path d="M281.95,284.92 L284.15,280.62 L279.75,280.62Z" fill="#1ec800"/><path d="M287.99,285.78 L290.19,281.48 L285.79,281.48Z" fill="#1ec800"/><path d="M294.02,286.66 L296.22,282.36 L291.82,282.36Z" fill="#1ec800"/><path d="M300.06,287.54 L302.25,283.24 L297.86,283.24Z" fill="#1ec800"/><path d="M306.09,288.45 L308.29,284.15 L303.89,284.15Z" fill="#1ec800"/><path d="M312.12,289.38 L314.32,285.08 L309.93,285.08Z" fill="#1ec800"/><path d="M318.16,290.27 L320.36,285.97 L315.96,285.97Z" fill="#1ec800"/><path d="M324.20,291.09 L326.40,286.79 L322.00,286.79Z" fill="#1ec800"/><path d="M330.23,291.86 L332.43,287.56 L328.03,287.56Z" fill="#1ec800"/><path d="M336.27,292.62 L338.47,288.32 L334.07,288.32Z" fill="#1ec800"/><path d="M228.0,345.5 L228.8,344.3 L230.0,342.7 L231.3,340.7 L232.7,338.8 L234.0,337.0 L235.2,335.4 L236.4,333.8 L237.6,332.2 L238.8,330.8 L240.0,329.5 L241.2,328.4 L242.4,327.4 L243.6,326.5 L244.8,325.7 L246.0,325.0 L247.3,324.4 L248.5,324.0 L249.8,323.7 L251.1,323.4 L252.5,323.2 L253.9,323.1 L255.3,323.0 L256.8,323.1 L258.3,323.1 L260.0,323.2 L261.8,323.3 L263.7,323.4 L265.7,323.5 L267.8,323.6 L270.0,323.8 L272.2,324.0 L274.4,324.3 L276.7,324.6 L279.2,325.0 L282.0,325.3 L285.2,325.7 L288.7,326.1 L292.4,326.5 L296.2,326.9 L300.0,327.3 L303.8,327.6 L307.8,328.0 L311.8,328.3 L315.8,328.6 L320.0,328.9 L324.6,329.2 L329.7,329.6 L334.7,329.9 L339.0,330.2 L342.0,330.4" fill="none" stroke="#e08a40" stroke-width="0.9" stroke-linejoin="round" stroke-linecap="round" opacity="1.0"/><path d="M233.7,335.1L235.7,339.1L231.7,339.1Z" fill="#bb1010"/><path d="M239.7,327.5L241.7,331.4L237.7,331.4Z" fill="#bb1010"/><path d="M245.7,322.8L247.7,326.7L243.7,326.7Z" fill="#bb1010"/><path d="M251.8,321.0L253.8,324.9L249.8,324.9Z" fill="#bb1010"/><path d="M257.8,320.8L259.8,324.7L255.8,324.7Z" fill="#bb1010"/><path d="M263.8,321.1L265.8,325.0L261.8,325.0Z" fill="#bb1010"/><path d="M269.9,321.5L271.9,325.4L267.9,325.4Z" fill="#bb1010"/><path d="M275.9,322.2L277.9,326.1L273.9,326.1Z" fill="#bb1010"/><path d="M281.9,323.0L283.9,326.9L279.9,326.9Z" fill="#bb1010"/><path d="M288.0,323.7L290.0,327.6L286.0,327.6Z" fill="#bb1010"/><path d="M294.0,324.4L296.0,328.3L292.0,328.3Z" fill="#bb1010"/><path d="M300.1,325.0L302.1,328.9L298.1,328.9Z" fill="#bb1010"/><path d="M306.1,325.5L308.1,329.4L304.1,329.4Z" fill="#bb1010"/><path d="M312.1,326.0L314.1,329.9L310.1,329.9Z" fill="#bb1010"/><path d="M318.2,326.5L320.2,330.4L316.2,330.4Z" fill="#bb1010"/><path d="M324.2,326.9L326.2,330.8L322.2,330.8Z" fill="#bb1010"/><path d="M330.2,327.3L332.2,331.2L328.2,331.2Z" fill="#bb1010"/><path d="M336.3,327.7L338.3,331.6L334.3,331.6Z" fill="#bb1010"/><path d="M230.2,349.4 L230.6,348.1 L231.3,346.2 L232.0,344.1 L232.8,341.9 L233.5,340.0 L234.1,338.4 L234.8,337.0 L235.4,335.6 L236.2,334.2 L237.1,332.7 L238.3,331.1 L239.8,329.3 L241.3,327.6 L242.8,326.1 L244.1,324.9 L245.1,324.1 L245.8,323.7 L246.5,323.5 L247.2,323.3 L248.2,323.0 L249.4,322.6 L250.9,322.1 L252.4,321.7 L253.9,321.3 L255.3,321.1 L256.6,321.1 L257.9,321.3 L259.2,321.5 L260.5,321.8 L261.8,322.1 L263.2,322.3 L264.5,322.6 L265.9,322.9 L267.3,323.1 L268.7,323.4 L270.1,323.6 L271.5,323.8 L272.9,324.1 L274.3,324.3 L275.7,324.5 L276.9,324.7 L277.8,325.0 L278.8,325.2 L280.2,325.5 L282.2,325.8 L285.0,326.1 L288.4,326.5 L292.2,326.8 L296.1,327.2 L300.0,327.5 L303.8,327.8 L307.7,328.1 L311.8,328.4 L315.8,328.7 L320.0,329.0 L324.6,329.3 L329.7,329.7 L334.7,330.1 L339.0,330.4 L342.0,330.6" fill="none" stroke="#111" stroke-width="0.9" stroke-linejoin="round" stroke-linecap="round" opacity="1.0"/><circle cx="232.46" cy="342.74" r="1.75" fill="#111"/><circle cx="238.50" cy="330.87" r="1.75" fill="#111"/><circle cx="244.53" cy="324.54" r="1.75" fill="#111"/><circle cx="250.57" cy="322.19" r="1.75" fill="#111"/><circle cx="256.60" cy="321.11" r="1.75" fill="#111"/><circle cx="262.64" cy="322.25" r="1.75" fill="#111"/><circle cx="268.67" cy="323.40" r="1.75" fill="#111"/><circle cx="274.71" cy="324.33" r="1.75" fill="#111"/><circle cx="280.74" cy="325.60" r="1.75" fill="#111"/><circle cx="286.78" cy="326.30" r="1.75" fill="#111"/><circle cx="292.81" cy="326.87" r="1.75" fill="#111"/><circle cx="298.85" cy="327.40" r="1.75" fill="#111"/><circle cx="304.88" cy="327.89" r="1.75" fill="#111"/><circle cx="310.92" cy="328.34" r="1.75" fill="#111"/><circle cx="316.95" cy="328.78" r="1.75" fill="#111"/><circle cx="322.99" cy="329.22" r="1.75" fill="#111"/><circle cx="329.02" cy="329.66" r="1.75" fill="#111"/><circle cx="335.06" cy="330.10" r="1.75" fill="#111"/><circle cx="341.09" cy="330.53" r="1.75" fill="#111"/><path d="M227.8,344.4 L228.6,343.5 L229.8,342.3 L231.2,340.8 L232.6,339.3 L233.9,337.9 L235.0,336.5 L236.1,335.1 L237.2,333.7 L238.3,332.5 L239.5,331.4 L240.8,330.6 L242.1,330.0 L243.4,329.4 L244.7,329.0 L246.0,328.6 L247.2,328.2 L248.3,327.9 L249.3,327.6 L250.4,327.3 L251.6,327.1 L252.8,326.9 L254.1,326.8 L255.5,326.7 L256.8,326.7 L258.1,326.7 L259.4,326.8 L260.7,327.0 L262.1,327.2 L263.4,327.4 L264.6,327.6 L265.7,327.7 L266.8,327.9 L267.9,328.0 L269.0,328.1 L270.1,328.2 L271.4,328.3 L272.7,328.5 L274.0,328.6 L275.3,328.8 L276.6,328.9 L277.6,329.0 L278.3,329.1 L279.1,329.2 L280.3,329.3 L282.2,329.5 L284.9,329.7 L288.3,330.0 L292.1,330.3 L296.1,330.7 L300.0,331.0 L303.8,331.3 L307.7,331.6 L311.8,332.0 L315.8,332.3 L320.0,332.6 L324.6,332.9 L329.7,333.3 L334.7,333.6 L339.0,333.9 L342.0,334.1" fill="none" stroke="#1ec800" stroke-width="1.0" stroke-linejoin="round" stroke-linecap="round" opacity="1.0"/><path d="M227.63,346.93 L229.83,342.63 L225.44,342.63Z" fill="#1ec800"/><path d="M233.67,340.68 L235.87,336.38 L231.47,336.38Z" fill="#1ec800"/><path d="M239.70,333.79 L241.90,329.48 L237.50,329.48Z" fill="#1ec800"/><path d="M245.74,331.22 L247.94,326.92 L243.54,326.92Z" fill="#1ec800"/><path d="M251.78,329.60 L253.97,325.30 L249.58,325.30Z" fill="#1ec800"/><path d="M257.81,329.22 L260.01,324.92 L255.61,324.92Z" fill="#1ec800"/><path d="M263.84,330.02 L266.04,325.72 L261.64,325.72Z" fill="#1ec800"/><path d="M269.88,330.71 L272.08,326.41 L267.68,326.41Z" fill="#1ec800"/><path d="M275.91,331.36 L278.11,327.06 L273.71,327.06Z" fill="#1ec800"/><path d="M281.95,332.01 L284.15,327.71 L279.75,327.71Z" fill="#1ec800"/><path d="M287.99,332.53 L290.19,328.23 L285.79,328.23Z" fill="#1ec800"/><path d="M294.02,333.04 L296.22,328.74 L291.82,328.74Z" fill="#1ec800"/><path d="M300.06,333.53 L302.25,329.23 L297.86,329.23Z" fill="#1ec800"/><path d="M306.09,334.03 L308.29,329.73 L303.89,329.73Z" fill="#1ec800"/><path d="M312.12,334.52 L314.32,330.22 L309.93,330.22Z" fill="#1ec800"/><path d="M318.16,334.99 L320.36,330.69 L315.96,330.69Z" fill="#1ec800"/><path d="M324.20,335.43 L326.40,331.13 L322.00,331.13Z" fill="#1ec800"/><path d="M330.23,335.84 L332.43,331.54 L328.03,331.54Z" fill="#1ec800"/><path d="M336.27,336.25 L338.47,331.95 L334.07,331.95Z" fill="#1ec800"/><path d="M84.0,391.0 L85.9,391.7 L88.7,392.7 L91.9,393.9 L95.1,395.2 L98.0,396.4 L100.7,397.7 L103.5,399.2 L106.2,400.7 L108.4,401.9 L110.0,402.8" fill="none" stroke="#e6b68a" stroke-width="2.0" stroke-linejoin="round" stroke-linecap="round" opacity="1.0"/><path d="M65.0,412.0 L66.5,411.6 L68.6,411.1 L71.1,410.6 L73.6,410.0 L76.0,409.5 L78.1,409.0 L80.0,408.4 L82.0,407.9 L84.3,407.6 L87.1,407.9 L90.6,408.7 L94.6,410.0 L98.9,411.6 L103.1,413.4 L107.1,415.0 L110.9,416.6 L114.6,418.4 L118.2,420.1 L121.5,421.9 L124.3,423.5 L126.6,425.1 L128.4,426.6 L129.9,428.0 L131.3,429.4 L132.9,430.7 L134.6,431.8 L136.3,432.7 L138.0,433.6 L139.7,434.5 L141.4,435.7 L143.1,437.2 L144.9,438.9 L146.6,440.7 L148.3,442.4 L150.0,444.0 L151.8,445.5 L153.6,447.0 L155.4,448.5 L156.9,449.6 L158.0,450.5" fill="none" stroke="#8cf03c" stroke-width="2.4" stroke-linejoin="round" stroke-linecap="round" opacity="1.0"/><path d="M84.0,407.7 L84.2,407.6 L84.2,407.4 L84.5,407.3 L85.3,407.4 L87.1,407.9 L90.1,408.9 L94.0,410.2 L98.5,411.7 L103.0,413.4 L107.1,415.0 L110.9,416.6 L114.6,418.4 L118.2,420.1 L121.5,421.9 L124.3,423.5 L126.6,425.1 L128.4,426.6 L129.9,428.0 L131.3,429.4 L132.9,430.7 L134.6,431.8 L136.3,432.7 L138.0,433.6 L139.7,434.5 L141.4,435.7 L143.1,437.2 L144.9,438.9 L146.6,440.7 L148.3,442.4 L150.0,444.0 L151.8,445.5 L153.6,447.0 L155.4,448.5 L156.9,449.6 L158.0,450.5" fill="none" stroke="#8cf03c" stroke-width="3.0" stroke-linejoin="round" stroke-linecap="round" opacity="1.0"/><path d="M36.5,438.2 L37.8,437.5 L39.6,436.6 L41.7,435.5 L43.9,434.4 L45.7,433.3 L47.3,432.3 L48.7,431.2 L50.1,430.2 L51.4,429.1 L52.6,428.1 L53.7,427.1 L54.8,426.0 L55.7,425.0 L56.7,424.0 L57.7,423.0 L58.7,422.0 L59.8,421.1 L60.9,420.2 L61.9,419.3 L62.9,418.4 L63.9,417.6 L64.8,416.7 L65.7,415.9 L66.5,415.2 L67.4,414.4 L68.2,413.7 L69.1,413.0 L69.9,412.3 L70.6,411.6 L71.4,411.0 L72.1,410.4 L72.8,409.8 L73.4,409.2 L74.1,408.7 L74.9,408.1 L75.8,407.5 L76.7,406.8 L77.7,406.2 L78.8,405.7 L80.0,405.3 L81.1,405.1 L82.1,405.0 L83.3,405.0 L84.9,405.2 L87.1,405.7 L90.1,406.4 L93.7,407.4 L97.7,408.5 L101.8,409.9 L105.7,411.4 L109.5,413.2 L113.3,415.2 L117.1,417.5 L120.8,419.7 L124.3,422.0 L127.6,424.2 L130.7,426.3 L133.7,428.5 L136.8,430.8 L140.0,433.5 L143.7,436.8 L147.9,440.7 L152.0,444.7 L155.5,448.1 L158.0,450.5" fill="none" stroke="#111" stroke-width="1.0" stroke-linejoin="round" stroke-linecap="round" opacity="1.0"/><path d="M78.0,406.0 L78.2,405.9 L78.4,405.7 L78.7,405.6 L79.2,405.4 L80.0,405.3 L80.9,405.2 L81.9,405.1 L83.2,405.1 L84.9,405.3 L87.1,405.7 L90.1,406.4 L93.7,407.4 L97.7,408.5 L101.8,409.9 L105.7,411.4 L109.5,413.2 L113.3,415.2 L117.1,417.5 L120.8,419.7 L124.3,422.0 L127.6,424.2 L130.7,426.3 L133.7,428.5 L136.8,430.8 L140.0,433.5 L143.7,436.8 L147.9,440.7 L152.0,444.7 L155.5,448.1 L158.0,450.5" fill="none" stroke="#111" stroke-width="2.6" stroke-linejoin="round" stroke-linecap="round" opacity="1.0"/><circle cx="36.47" cy="438.20" r="1.70" fill="#111"/><circle cx="45.00" cy="433.72" r="1.70" fill="#111"/><circle cx="51.97" cy="428.64" r="1.70" fill="#111"/><circle cx="57.86" cy="422.85" r="1.70" fill="#111"/><circle cx="62.96" cy="418.34" r="1.70" fill="#111"/><circle cx="67.46" cy="414.34" r="1.70" fill="#111"/><circle cx="71.49" cy="410.92" r="1.70" fill="#111"/><circle cx="75.13" cy="407.94" r="1.70" fill="#111"/><path d="M36.0,435.6 L38.7,433.4 L42.6,430.3 L47.0,426.7 L51.7,422.9 L56.0,419.5 L60.2,416.2 L64.6,412.7 L68.9,409.4 L72.8,406.4 L76.0,404.1 L78.5,402.6 L80.4,401.6 L82.0,401.1 L83.1,400.8 L84.0,400.5" fill="none" stroke="#e23a3a" stroke-width="1.0" stroke-linejoin="round" stroke-linecap="round" opacity="1.0"/><path d="M42.3,428.7 L43.2,427.9 L44.6,426.8 L46.1,425.5 L47.7,424.2 L49.1,423.0 L50.3,422.0 L51.5,421.1 L52.6,420.2 L53.8,419.3 L54.9,418.4 L56.1,417.5 L57.2,416.5 L58.4,415.6 L59.5,414.7 L60.6,413.9 L61.6,413.1 L62.5,412.4 L63.4,411.7 L64.2,411.0 L65.1,410.4 L66.0,409.8 L67.0,409.2 L67.9,408.7 L68.9,408.1 L69.7,407.6 L70.4,407.1 L70.9,406.6 L71.4,406.2 L72.1,405.7 L73.1,405.3 L74.4,404.8 L75.9,404.4 L77.6,403.9 L79.5,403.5 L81.4,403.3 L83.5,403.1 L85.8,403.0 L88.3,403.0 L90.6,403.2 L92.9,403.6 L95.0,404.3 L97.1,405.4 L99.2,406.5 L101.1,407.7 L102.9,408.6 L104.4,409.2 L105.6,409.5 L106.8,409.9 L108.2,410.4 L110.0,411.4 L112.5,413.0 L115.5,415.1 L118.6,417.4 L121.7,419.6 L124.3,421.4 L126.4,422.7 L128.2,423.7 L129.8,424.5 L131.4,425.4 L132.9,426.4 L134.4,427.5 L135.7,428.7 L137.0,430.0 L138.4,431.3 L140.0,432.9 L141.8,434.7 L143.9,436.8 L146.0,439.0 L148.1,441.1 L150.0,443.0 L151.9,444.8 L153.7,446.5 L155.5,448.2 L156.9,449.5 L158.0,450.5" fill="none" stroke="#1ec800" stroke-width="1.0" stroke-linejoin="round" stroke-linecap="round" opacity="1.0"/><path d="M76.0,404.3 L76.6,404.2 L77.5,403.9 L78.5,403.7 L79.8,403.4 L81.4,403.3 L83.3,403.2 L85.6,403.1 L88.1,403.1 L90.6,403.2 L92.9,403.6 L95.0,404.3 L97.1,405.4 L99.2,406.5 L101.1,407.7 L102.9,408.6 L104.4,409.2 L105.6,409.5 L106.8,409.9 L108.2,410.4 L110.0,411.4 L112.5,413.0 L115.5,415.1 L118.6,417.4 L121.7,419.6 L124.3,421.4 L126.4,422.7 L128.2,423.7 L129.8,424.5 L131.4,425.4 L132.9,426.4 L134.4,427.5 L135.7,428.7 L137.0,430.0 L138.4,431.3 L140.0,432.9 L141.8,434.7 L143.9,436.8 L146.0,439.0 L148.1,441.1 L150.0,443.0 L151.9,444.8 L153.7,446.5 L155.5,448.2 L156.9,449.5 L158.0,450.5" fill="none" stroke="#1ec800" stroke-width="3.1" stroke-linejoin="round" stroke-linecap="round" opacity="1.0"/><path d="M48.64,425.79 L50.74,421.69 L46.54,421.69Z" fill="#1ec800"/><path d="M55.03,420.71 L57.13,416.61 L52.93,416.61Z" fill="#1ec800"/><path d="M60.50,416.40 L62.60,412.29 L58.40,412.29Z" fill="#1ec800"/><path d="M65.28,412.69 L67.38,408.59 L63.18,408.59Z" fill="#1ec800"/><path d="M69.53,410.12 L71.63,406.02 L67.43,406.02Z" fill="#1ec800"/><path d="M73.36,407.62 L75.46,403.52 L71.26,403.52Z" fill="#1ec800"/><path d="M76.83,406.53 L78.93,402.42 L74.73,402.42Z" fill="#1ec800"/><path d="M80.02,405.88 L82.12,401.77 L77.92,401.77Z" fill="#1ec800"/><path d="M82.96,405.59 L85.06,401.49 L80.86,401.49Z" fill="#1ec800"/><path d="M85.69,405.45 L87.79,401.34 L83.59,401.34Z" fill="#1ec800"/><path d="M88.24,405.45 L90.34,401.34 L86.14,401.34Z" fill="#1ec800"/><path d="M90.63,405.62 L92.73,401.51 L88.53,401.51Z" fill="#1ec800"/><path d="M92.88,406.01 L94.98,401.90 L90.78,401.90Z" fill="#1ec800"/><path d="M42.3,425.3 L43.2,424.4 L44.6,423.0 L46.1,421.4 L47.7,419.9 L49.1,418.4 L50.3,417.1 L51.5,415.8 L52.7,414.5 L53.8,413.3 L54.9,412.1 L56.0,411.0 L57.0,409.9 L58.0,408.9 L59.0,407.9 L60.0,407.0 L61.0,406.1 L61.9,405.3 L62.8,404.5 L63.7,403.7 L64.6,403.0 L65.4,402.3 L66.2,401.6 L67.0,400.9 L67.8,400.2 L68.6,399.6 L69.4,399.0 L70.2,398.4 L71.0,397.8 L71.8,397.2 L72.6,396.7 L73.4,396.2 L74.3,395.7 L75.1,395.3 L76.0,394.9 L77.0,394.5 L78.1,394.1 L79.2,393.7 L80.4,393.3 L81.6,393.0 L82.9,392.9 L84.2,392.9 L85.6,393.1 L87.0,393.4 L88.5,393.8 L90.0,394.3 L91.6,394.9 L93.2,395.6 L94.9,396.5 L96.7,397.5 L98.6,398.6 L100.7,399.9 L102.8,401.4 L105.1,403.1 L107.5,404.7 L110.0,406.4 L112.8,408.1 L115.8,409.9 L118.9,411.7 L121.8,413.4 L124.3,415.0 L126.4,416.3 L128.1,417.5 L129.6,418.6 L131.2,419.8 L132.9,421.4 L134.8,423.3 L136.7,425.4 L138.6,427.8 L140.7,430.2 L142.9,432.9 L145.4,436.0 L148.3,439.5 L151.2,443.1 L153.8,446.3 L155.7,448.6 L156.9,449.9 L157.5,450.4 L157.7,450.5 L157.9,450.5 L158.0,450.5" fill="none" stroke="#c41515" stroke-width="1.0" stroke-linejoin="round" stroke-linecap="round" opacity="1.0"/><path d="M76.0,394.9 L76.1,394.9 L76.1,394.8 L76.2,394.8 L76.5,394.7 L77.0,394.5 L77.8,394.2 L78.9,393.8 L80.2,393.4 L81.6,393.0 L82.9,392.9 L84.2,392.9 L85.6,393.1 L87.0,393.4 L88.5,393.8 L90.0,394.3 L91.6,394.9 L93.2,395.6 L94.9,396.5 L96.7,397.5 L98.6,398.6 L100.7,399.9 L102.8,401.4 L105.1,403.1 L107.5,404.7 L110.0,406.4 L112.8,408.1 L115.8,409.9 L118.9,411.7 L121.8,413.4 L124.3,415.0 L126.4,416.3 L128.1,417.5 L129.6,418.6 L131.2,419.8 L132.9,421.4 L134.8,423.3 L136.7,425.4 L138.6,427.8 L140.7,430.2 L142.9,432.9 L145.4,436.0 L148.3,439.5 L151.2,443.1 L153.8,446.3 L155.7,448.6 L156.9,449.9 L157.5,450.4 L157.7,450.5 L157.9,450.5 L158.0,450.5" fill="none" stroke="#c41515" stroke-width="3.0" stroke-linejoin="round" stroke-linecap="round" opacity="1.0"/><path d="M48.6,416.5L50.7,420.6L46.5,420.6Z" fill="#bb1010"/><path d="M55.0,409.6L57.1,413.7L52.9,413.7Z" fill="#bb1010"/><path d="M60.5,404.1L62.6,408.2L58.4,408.2Z" fill="#bb1010"/><path d="M65.3,400.0L67.4,404.1L63.2,404.1Z" fill="#bb1010"/><path d="M69.5,396.5L71.6,400.6L67.4,400.6Z" fill="#bb1010"/><path d="M73.4,393.8L75.5,397.9L71.3,397.9Z" fill="#bb1010"/><path d="M76.8,392.1L78.9,396.3L74.7,396.3Z" fill="#bb1010"/><path d="M80.0,391.0L82.1,395.1L77.9,395.1Z" fill="#bb1010"/><path d="M83.0,390.5L85.1,394.6L80.9,394.6Z" fill="#bb1010"/><path d="M85.7,390.7L87.8,394.8L83.6,394.8Z" fill="#bb1010"/><path d="M88.2,391.3L90.3,395.4L86.1,395.4Z" fill="#bb1010"/><path d="M90.6,392.1L92.7,396.2L88.5,396.2Z" fill="#bb1010"/><path d="M36.7,462.7 L38.5,461.1 L41.1,458.8 L44.1,456.1 L47.2,453.4 L50.0,451.0 L52.4,449.0 L54.6,447.0 L56.8,445.2 L59.2,443.4 L62.0,441.5 L65.2,439.5 L68.9,437.4 L72.7,435.3 L76.4,433.5 L80.0,432.0 L83.4,430.9 L86.9,430.1 L90.2,429.6 L93.3,429.3 L96.0,429.3 L98.2,429.7 L100.1,430.4 L101.7,431.3 L103.3,432.3 L105.0,433.2 L106.8,433.9 L108.5,434.5 L110.2,435.2 L112.1,436.0 L114.3,437.1 L116.9,438.5 L119.8,440.1 L122.8,441.8 L125.8,443.7 L128.6,445.7 L131.1,447.8 L133.4,450.1 L135.7,452.4 L137.9,454.8 L140.0,457.1 L142.1,459.3 L144.2,461.5 L146.2,463.7 L148.2,465.8 L150.0,467.9 L151.9,470.1 L153.7,472.3 L155.5,474.4 L156.9,476.2 L158.0,477.5" fill="none" stroke="#e23a3a" stroke-width="1.0" stroke-linejoin="round" stroke-linecap="round" opacity="1.0"/><path d="M82.0,434.5 L83.4,434.5 L85.4,434.5 L87.7,434.6 L90.0,434.7 L92.0,434.8 L93.6,435.0 L95.0,435.1 L96.4,435.4 L98.0,435.8 L100.0,436.4 L102.5,437.3 L105.5,438.4 L108.7,439.6 L111.7,440.9 L114.3,442.1 L116.3,443.2 L118.0,444.3 L119.5,445.3 L121.0,446.5 L122.9,447.9 L124.9,449.3 L127.0,450.8 L129.2,452.4 L131.8,454.4 L135.0,457.0 L139.3,460.7 L144.5,465.4 L149.9,470.2 L154.7,474.5 L158.0,477.5" fill="none" stroke="#e6b68a" stroke-width="3.2" stroke-linejoin="round" stroke-linecap="round" opacity="1.0"/><path d="M36.5,466.0 L37.9,465.3 L39.8,464.3 L42.0,463.2 L44.2,462.0 L46.1,460.9 L47.6,459.8 L48.9,458.7 L50.2,457.5 L51.3,456.4 L52.5,455.4 L53.7,454.4 L54.8,453.5 L55.9,452.6 L56.9,451.8 L57.9,450.9 L58.8,450.0 L59.5,449.2 L60.3,448.3 L61.1,447.4 L62.0,446.5 L63.1,445.4 L64.4,444.3 L65.7,443.1 L66.9,442.0 L68.0,441.0 L68.9,440.2 L69.6,439.5 L70.2,438.9 L71.0,438.3 L72.0,437.6 L73.3,436.8 L74.8,435.9 L76.5,435.0 L78.2,434.2 L80.0,433.6 L81.9,433.1 L83.9,432.8 L85.9,432.5 L88.0,432.4 L90.0,432.5 L91.9,432.7 L93.7,433.0 L95.6,433.4 L97.6,434.1 L100.0,435.0 L102.9,436.3 L106.2,437.9 L109.7,439.6 L112.9,441.4 L115.7,442.9 L117.9,444.1 L119.6,445.1 L121.1,446.1 L122.6,447.2 L124.3,448.5 L126.2,450.1 L128.2,451.9 L130.2,453.7 L132.2,455.6 L134.3,457.5 L136.4,459.3 L138.4,461.0 L140.5,462.8 L142.7,464.6 L145.0,466.5 L147.7,468.7 L150.7,471.3 L153.6,473.8 L156.2,476.0 L158.0,477.5" fill="none" stroke="#111" stroke-width="1.0" stroke-linejoin="round" stroke-linecap="round" opacity="1.0"/><path d="M88.0,432.4 L88.1,432.4 L88.3,432.3 L88.5,432.3 L89.1,432.3 L90.0,432.5 L91.4,432.8 L93.2,433.1 L95.2,433.5 L97.5,434.1 L100.0,435.0 L102.9,436.3 L106.2,437.9 L109.7,439.6 L112.9,441.4 L115.7,442.9 L117.9,444.1 L119.6,445.1 L121.1,446.1 L122.6,447.2 L124.3,448.5 L126.2,450.1 L128.2,451.9 L130.2,453.7 L132.2,455.6 L134.3,457.5 L136.4,459.3 L138.4,461.0 L140.5,462.8 L142.7,464.6 L145.0,466.5 L147.7,468.7 L150.7,471.3 L153.6,473.8 L156.2,476.0 L158.0,477.5" fill="none" stroke="#111" stroke-width="1.6" stroke-linejoin="round" stroke-linecap="round" opacity="1.0"/><circle cx="36.47" cy="466.00" r="1.70" fill="#111"/><circle cx="45.00" cy="461.58" r="1.70" fill="#111"/><circle cx="51.97" cy="455.86" r="1.70" fill="#111"/><circle cx="57.86" cy="450.94" r="1.70" fill="#111"/><circle cx="62.96" cy="445.58" r="1.70" fill="#111"/><circle cx="67.46" cy="441.48" r="1.70" fill="#111"/><circle cx="71.49" cy="437.93" r="1.70" fill="#111"/><circle cx="75.13" cy="435.73" r="1.70" fill="#111"/><circle cx="78.46" cy="434.13" r="1.70" fill="#111"/><circle cx="81.52" cy="433.22" r="1.70" fill="#111"/><circle cx="84.35" cy="432.71" r="1.70" fill="#111"/><circle cx="86.99" cy="432.47" r="1.70" fill="#111"/><path d="M48.8,461.8 L50.3,460.8 L52.5,459.3 L55.0,457.6 L57.5,456.0 L59.8,454.5 L61.7,453.3 L63.6,452.1 L65.4,451.0 L67.1,450.0 L68.9,449.0 L70.7,448.0 L72.4,447.1 L74.2,446.3 L76.0,445.6 L78.0,445.0 L80.2,444.7 L82.7,444.6 L85.2,444.6 L87.7,444.6 L90.0,444.5 L92.1,444.3 L94.0,444.1 L95.9,443.8 L97.8,443.6 L100.0,443.6 L102.5,443.7 L105.2,443.9 L107.9,444.2 L110.6,444.6 L112.9,445.0 L114.9,445.4 L116.6,445.9 L118.2,446.5 L119.8,447.2 L121.4,447.9 L123.1,448.7 L124.8,449.6 L126.5,450.6 L128.2,451.8 L130.0,453.0 L131.8,454.3 L133.5,455.6 L135.4,457.0 L137.5,458.8 L140.0,461.0 L143.4,464.0 L147.5,467.8 L151.7,471.7 L155.4,475.1 L158.0,477.5" fill="none" stroke="#bb1010" stroke-width="1.0" stroke-linejoin="round" stroke-linecap="round" opacity="1.0"/><path d="M80.0,444.7 L81.4,444.7 L83.3,444.7 L85.5,444.6 L87.8,444.6 L90.0,444.5 L92.0,444.3 L93.9,444.1 L95.8,443.8 L97.8,443.6 L100.0,443.6 L102.5,443.7 L105.2,443.9 L107.9,444.2 L110.6,444.6 L112.9,445.0 L114.9,445.4 L116.6,445.9 L118.2,446.5 L119.8,447.2 L121.4,447.9 L123.1,448.7 L124.8,449.6 L126.5,450.6 L128.2,451.8 L130.0,453.0 L131.8,454.3 L133.5,455.6 L135.4,457.0 L137.5,458.8 L140.0,461.0 L143.4,464.0 L147.5,467.8 L151.7,471.7 L155.4,475.1 L158.0,477.5" fill="none" stroke="#bb1010" stroke-width="2.4" stroke-linejoin="round" stroke-linecap="round" opacity="1.0"/><path d="M48.6,459.5L50.6,463.4L46.6,463.4Z" fill="#bb1010"/><path d="M55.0,455.3L57.0,459.2L53.0,459.2Z" fill="#bb1010"/><path d="M60.5,451.8L62.5,455.7L58.5,455.7Z" fill="#bb1010"/><path d="M65.3,448.7L67.3,452.7L63.3,452.7Z" fill="#bb1010"/><path d="M69.5,446.4L71.5,450.3L67.5,450.3Z" fill="#bb1010"/><path d="M73.4,444.3L75.4,448.3L71.4,448.3Z" fill="#bb1010"/><path d="M76.8,443.0L78.8,446.9L74.8,446.9Z" fill="#bb1010"/><path d="M80.0,442.4L82.0,446.3L78.0,446.3Z" fill="#bb1010"/><path d="M83.0,442.3L85.0,446.2L81.0,446.2Z" fill="#bb1010"/><path d="M85.7,442.3L87.7,446.2L83.7,446.2Z" fill="#bb1010"/><path d="M88.2,442.3L90.2,446.2L86.2,446.2Z" fill="#bb1010"/><path d="M90.6,442.2L92.6,446.1L88.6,446.1Z" fill="#bb1010"/><path d="M92.9,441.9L94.9,445.8L90.9,445.8Z" fill="#bb1010"/><path d="M95.0,441.6L97.0,445.5L93.0,445.5Z" fill="#bb1010"/><path d="M48.8,464.6 L50.9,462.7 L54.1,460.1 L57.6,457.0 L60.9,454.2 L63.4,452.0 L64.7,450.7 L65.3,449.9 L65.7,449.4 L66.4,448.9 L68.0,448.0 L70.8,446.7 L74.4,445.1 L78.4,443.4 L82.4,442.0 L86.0,441.0 L89.1,440.5 L92.0,440.5 L94.8,440.6 L97.4,440.9 L100.0,441.2 L102.5,441.5 L104.8,441.8 L107.1,442.2 L109.3,442.8 L111.4,443.6 L113.5,444.6 L115.6,445.9 L117.6,447.2 L119.5,448.6 L121.4,450.0 L123.2,451.3 L124.9,452.5 L126.5,453.8 L128.2,455.1 L130.0,456.5 L131.9,457.9 L133.9,459.4 L135.9,461.0 L138.0,462.5 L140.0,464.0 L142.0,465.5 L144.1,467.0 L146.1,468.6 L148.1,470.1 L150.0,471.5 L151.9,473.0 L153.7,474.5 L155.5,475.9 L156.9,477.1 L158.0,478.0" fill="none" stroke="#8cf03c" stroke-width="1.4" stroke-linejoin="round" stroke-linecap="round" opacity="1.0"/><path d="M80.0,442.8 L80.7,442.6 L81.6,442.1 L82.7,441.7 L84.2,441.3 L86.0,441.0 L88.3,440.9 L91.1,440.8 L94.2,440.9 L97.2,441.0 L100.0,441.2 L102.5,441.5 L104.8,441.8 L107.1,442.2 L109.3,442.8 L111.4,443.6 L113.5,444.6 L115.6,445.9 L117.6,447.2 L119.5,448.6 L121.4,450.0 L123.2,451.3 L124.9,452.5 L126.5,453.8 L128.2,455.1 L130.0,456.5 L131.9,457.9 L133.9,459.4 L135.9,461.0 L138.0,462.5 L140.0,464.0 L142.0,465.5 L144.1,467.0 L146.1,468.6 L148.1,470.1 L150.0,471.5 L151.9,473.0 L153.7,474.5 L155.5,475.9 L156.9,477.1 L158.0,478.0" fill="none" stroke="#8cf03c" stroke-width="2.8" stroke-linejoin="round" stroke-linecap="round" opacity="1.0"/><path d="M48.64,466.79 L50.54,463.07 L46.74,463.07Z" fill="#8cf03c"/><path d="M55.03,461.41 L56.93,457.70 L53.13,457.70Z" fill="#8cf03c"/><path d="M60.50,456.69 L62.40,452.98 L58.60,452.98Z" fill="#8cf03c"/><path d="M65.28,452.17 L67.18,448.45 L63.38,448.45Z" fill="#8cf03c"/><path d="M69.53,449.46 L71.43,445.74 L67.63,445.74Z" fill="#8cf03c"/><path d="M73.36,447.72 L75.26,444.01 L71.46,444.01Z" fill="#8cf03c"/><path d="M76.83,446.25 L78.73,442.54 L74.93,442.54Z" fill="#8cf03c"/><path d="M80.02,445.02 L81.92,441.31 L78.12,441.31Z" fill="#8cf03c"/><path d="M82.96,444.01 L84.86,440.30 L81.06,440.30Z" fill="#8cf03c"/><path d="M85.69,443.26 L87.59,439.55 L83.79,439.55Z" fill="#8cf03c"/><path d="M88.24,442.83 L90.14,439.11 L86.34,439.11Z" fill="#8cf03c"/><path d="M90.63,442.65 L92.53,438.93 L88.73,438.93Z" fill="#8cf03c"/><path d="M92.88,442.68 L94.78,438.96 L90.98,438.96Z" fill="#8cf03c"/><path d="M95.00,442.82 L96.90,439.11 L93.10,439.11Z" fill="#8cf03c"/><path d="M48.8,469.1 L50.5,468.3 L52.9,467.2 L55.7,465.9 L58.8,464.4 L62.0,463.0 L65.3,461.5 L68.8,459.9 L72.4,458.2 L76.2,456.5 L80.0,455.0 L84.0,453.5 L88.3,452.1 L92.6,450.7 L96.6,449.5 L100.0,448.6 L102.6,448.0 L104.7,447.7 L106.4,447.7 L108.1,447.7 L110.0,447.9 L112.3,448.2 L114.7,448.7 L117.1,449.4 L119.4,450.0 L121.4,450.7 L123.1,451.3 L124.5,451.9 L125.8,452.6 L127.1,453.4 L128.6,454.3 L130.1,455.4 L131.7,456.6 L133.3,457.8 L135.1,459.2 L137.1,460.7 L139.5,462.3 L142.2,464.0 L145.0,465.8 L147.7,467.6 L150.0,469.3 L152.0,471.1 L153.9,473.0 L155.6,474.8 L157.0,476.4 L158.0,477.5" fill="none" stroke="#1ec800" stroke-width="1.3" stroke-linejoin="round" stroke-linecap="round" opacity="1.0"/><path d="M92.0,450.9 L93.1,450.5 L94.5,450.1 L96.3,449.5 L98.1,449.0 L100.0,448.6 L101.8,448.3 L103.8,448.0 L105.8,447.9 L107.9,447.8 L110.0,447.9 L112.3,448.2 L114.7,448.7 L117.1,449.4 L119.4,450.0 L121.4,450.7 L123.1,451.3 L124.5,451.9 L125.8,452.6 L127.1,453.4 L128.6,454.3 L130.1,455.4 L131.7,456.6 L133.3,457.8 L135.1,459.2 L137.1,460.7 L139.5,462.3 L142.2,464.0 L145.0,465.8 L147.7,467.6 L150.0,469.3 L152.0,471.1 L153.9,473.0 L155.6,474.8 L157.0,476.4 L158.0,477.5" fill="none" stroke="#1ec800" stroke-width="3.4" stroke-linejoin="round" stroke-linecap="round" opacity="1.0"/><path d="M48.64,471.40 L50.64,467.49 L46.64,467.49Z" fill="#1ec800"/><path d="M55.03,468.50 L57.03,464.59 L53.03,464.59Z" fill="#1ec800"/><path d="M60.50,465.98 L62.50,462.07 L58.50,462.07Z" fill="#1ec800"/><path d="M65.28,463.79 L67.28,459.88 L63.28,459.88Z" fill="#1ec800"/><path d="M69.53,461.80 L71.53,457.89 L67.53,457.89Z" fill="#1ec800"/><path d="M73.36,460.06 L75.36,456.15 L71.36,456.15Z" fill="#1ec800"/><path d="M76.83,458.57 L78.83,454.66 L74.83,454.66Z" fill="#1ec800"/><path d="M80.02,457.29 L82.02,453.38 L78.02,453.38Z" fill="#1ec800"/><path d="M82.96,456.21 L84.96,452.30 L80.96,452.30Z" fill="#1ec800"/><path d="M85.69,455.25 L87.69,451.34 L83.69,451.34Z" fill="#1ec800"/><path d="M88.24,454.38 L90.24,450.47 L86.24,450.47Z" fill="#1ec800"/><path d="M90.63,453.60 L92.63,449.69 L88.63,449.69Z" fill="#1ec800"/><path d="M92.88,452.90 L94.88,448.99 L90.88,448.99Z" fill="#1ec800"/><path d="M95.00,452.26 L97.00,448.35 L93.00,448.35Z" fill="#1ec800"/><path d="M97.01,451.68 L99.01,447.77 L95.01,447.77Z" fill="#1ec800"/><path d="M98.92,451.17 L100.92,447.26 L96.92,447.26Z" fill="#1ec800"/><path d="M100.75,450.73 L102.75,446.82 L98.75,446.82Z" fill="#1ec800"/><path d="M102.48,450.37 L104.48,446.46 L100.48,446.46Z" fill="#1ec800"/><path d="M104.14,450.10 L106.14,446.19 L102.14,446.19Z" fill="#1ec800"/><path d="M105.74,449.97 L107.74,446.06 L103.74,446.06Z" fill="#1ec800"/><path d="M107.27,449.98 L109.27,446.07 L105.27,446.07Z" fill="#1ec800"/><path d="M227.5,419.0 L228.3,417.1 L229.5,414.4 L230.9,411.3 L232.3,408.3 L233.5,406.0 L234.4,404.3 L235.0,402.8 L235.6,401.6 L236.7,401.0 L238.6,400.8 L241.4,401.4 L245.0,402.6 L249.0,404.2 L253.2,406.0 L257.1,407.5 L260.7,408.8 L264.3,410.2 L267.8,411.5 L271.6,412.9 L275.7,414.4 L280.3,416.0 L285.2,417.8 L290.3,419.6 L295.3,421.4 L300.0,423.0 L304.2,424.5 L308.2,426.0 L312.1,427.3 L315.9,428.7 L320.0,430.0 L324.6,431.4 L329.7,432.8 L334.7,434.1 L339.0,435.2 L342.0,436.0" fill="none" stroke="#8cf03c" stroke-width="1.0" stroke-linejoin="round" stroke-linecap="round" opacity="1.0"/><path d="M227.6,416.4L229.6,420.3L225.6,420.3Z" fill="#8cf03c"/><path d="M233.7,403.4L235.7,407.3L231.7,407.3Z" fill="#8cf03c"/><path d="M239.7,398.7L241.7,402.6L237.7,402.6Z" fill="#8cf03c"/><path d="M245.7,400.6L247.7,404.5L243.7,404.5Z" fill="#8cf03c"/><path d="M251.8,403.1L253.8,407.0L249.8,407.0Z" fill="#8cf03c"/><path d="M257.8,405.5L259.8,409.4L255.8,409.4Z" fill="#8cf03c"/><path d="M263.8,407.7L265.8,411.6L261.8,411.6Z" fill="#8cf03c"/><path d="M269.9,410.0L271.9,413.9L267.9,413.9Z" fill="#8cf03c"/><path d="M275.9,412.2L277.9,416.1L273.9,416.1Z" fill="#8cf03c"/><path d="M281.9,414.3L283.9,418.2L279.9,418.2Z" fill="#8cf03c"/><path d="M288.0,416.5L290.0,420.4L286.0,420.4Z" fill="#8cf03c"/><path d="M294.0,418.6L296.0,422.5L292.0,422.5Z" fill="#8cf03c"/><path d="M300.1,420.7L302.1,424.6L298.1,424.6Z" fill="#8cf03c"/><path d="M306.1,422.9L308.1,426.8L304.1,426.8Z" fill="#8cf03c"/><path d="M312.1,425.1L314.1,429.0L310.1,429.0Z" fill="#8cf03c"/><path d="M318.2,427.1L320.2,431.0L316.2,431.0Z" fill="#8cf03c"/><path d="M324.2,428.9L326.2,432.8L322.2,432.8Z" fill="#8cf03c"/><path d="M330.2,430.6L332.2,434.5L328.2,434.5Z" fill="#8cf03c"/><path d="M336.3,432.2L338.3,436.1L334.3,436.1Z" fill="#8cf03c"/><path d="M227.4,418.1 L228.2,415.9 L229.4,412.7 L230.8,409.1 L232.2,405.8 L233.4,403.2 L234.5,401.5 L235.5,400.4 L236.5,399.6 L237.6,399.1 L238.6,398.6 L239.7,398.3 L240.7,398.1 L241.8,398.2 L242.9,398.3 L244.1,398.6 L245.4,399.0 L246.8,399.5 L248.2,400.2 L249.6,400.9 L251.0,401.5 L252.3,402.1 L253.6,402.6 L254.8,403.1 L256.3,403.7 L258.0,404.5 L260.0,405.4 L262.3,406.5 L264.8,407.6 L267.4,408.8 L270.0,410.0 L272.6,411.2 L275.4,412.6 L278.2,413.9 L281.0,415.2 L284.0,416.5 L287.0,417.7 L290.1,418.9 L293.2,420.1 L296.5,421.2 L300.0,422.5 L303.7,423.8 L307.6,425.3 L311.7,426.7 L315.8,428.1 L320.0,429.5 L324.6,430.9 L329.7,432.4 L334.7,433.9 L339.0,435.1 L342.0,436.0" fill="none" stroke="#1ec800" stroke-width="1.0" stroke-linejoin="round" stroke-linecap="round" opacity="1.0"/><path d="M227.63,420.02 L229.83,415.72 L225.44,415.72Z" fill="#1ec800"/><path d="M233.67,405.29 L235.87,400.99 L231.47,400.99Z" fill="#1ec800"/><path d="M239.70,400.78 L241.90,396.48 L237.50,396.48Z" fill="#1ec800"/><path d="M245.74,401.66 L247.94,397.36 L243.54,397.36Z" fill="#1ec800"/><path d="M251.78,404.36 L253.97,400.06 L249.58,400.06Z" fill="#1ec800"/><path d="M257.81,406.95 L260.01,402.64 L255.61,402.64Z" fill="#1ec800"/><path d="M263.84,409.69 L266.04,405.39 L261.64,405.39Z" fill="#1ec800"/><path d="M269.88,412.47 L272.08,408.17 L267.68,408.17Z" fill="#1ec800"/><path d="M275.91,415.35 L278.11,411.05 L273.71,411.05Z" fill="#1ec800"/><path d="M281.95,418.15 L284.15,413.85 L279.75,413.85Z" fill="#1ec800"/><path d="M287.99,420.62 L290.19,416.32 L285.79,416.32Z" fill="#1ec800"/><path d="M294.02,422.87 L296.22,418.57 L291.82,418.57Z" fill="#1ec800"/><path d="M300.06,425.05 L302.25,420.75 L297.86,420.75Z" fill="#1ec800"/><path d="M306.09,427.23 L308.29,422.93 L303.89,422.93Z" fill="#1ec800"/><path d="M312.12,429.38 L314.32,425.08 L309.93,425.08Z" fill="#1ec800"/><path d="M318.16,431.43 L320.36,427.13 L315.96,427.13Z" fill="#1ec800"/><path d="M324.20,433.33 L326.40,429.03 L322.00,429.03Z" fill="#1ec800"/><path d="M330.23,435.13 L332.43,430.83 L328.03,430.83Z" fill="#1ec800"/><path d="M336.27,436.88 L338.47,432.57 L334.07,432.57Z" fill="#1ec800"/><path d="M226.5,425.5 L227.0,423.8 L227.7,421.4 L228.5,418.6 L229.4,415.7 L230.2,413.1 L230.9,410.6 L231.7,408.0 L232.4,405.5 L233.2,403.2 L233.9,401.4 L234.6,400.1 L235.4,399.1 L236.1,398.4 L236.9,397.9 L237.6,397.6 L238.3,397.5 L239.1,397.6 L239.8,397.9 L240.6,398.3 L241.4,398.6 L242.3,398.9 L243.1,399.1 L244.0,399.4 L245.0,399.7 L246.0,400.1 L247.0,400.5 L248.1,400.9 L249.2,401.3 L250.4,401.8 L251.6,402.3 L252.8,402.8 L254.1,403.4 L255.5,404.0 L256.8,404.5 L258.1,405.1 L259.4,405.6 L260.7,406.2 L261.9,406.7 L263.2,407.3 L264.6,407.9 L266.0,408.6 L267.5,409.4 L269.1,410.1 L270.6,410.9 L272.0,411.6 L273.4,412.2 L274.7,412.8 L276.0,413.3 L277.3,413.9 L278.5,414.4 L279.5,414.9 L280.3,415.4 L281.2,415.8 L282.3,416.4 L284.1,417.1 L286.6,418.0 L289.5,418.9 L292.9,420.0 L296.4,421.1 L300.0,422.3 L303.7,423.5 L307.6,424.9 L311.7,426.2 L315.8,427.6 L320.0,429.0 L324.6,430.5 L329.7,432.0 L334.7,433.6 L339.0,434.9 L342.0,435.8" fill="none" stroke="#111" stroke-width="0.9" stroke-linejoin="round" stroke-linecap="round" opacity="1.0"/><circle cx="226.43" cy="425.50" r="1.75" fill="#111"/><circle cx="232.46" cy="405.34" r="1.75" fill="#111"/><circle cx="238.50" cy="397.50" r="1.75" fill="#111"/><circle cx="244.53" cy="399.59" r="1.75" fill="#111"/><circle cx="250.57" cy="401.88" r="1.75" fill="#111"/><circle cx="256.60" cy="404.45" r="1.75" fill="#111"/><circle cx="262.64" cy="407.02" r="1.75" fill="#111"/><circle cx="268.67" cy="409.94" r="1.75" fill="#111"/><circle cx="274.71" cy="412.79" r="1.75" fill="#111"/><circle cx="280.74" cy="415.62" r="1.75" fill="#111"/><circle cx="286.78" cy="418.03" r="1.75" fill="#111"/><circle cx="292.81" cy="419.98" r="1.75" fill="#111"/><circle cx="298.85" cy="421.92" r="1.75" fill="#111"/><circle cx="304.88" cy="423.94" r="1.75" fill="#111"/><circle cx="310.92" cy="425.99" r="1.75" fill="#111"/><circle cx="316.95" cy="428.01" r="1.75" fill="#111"/><circle cx="322.99" cy="429.95" r="1.75" fill="#111"/><circle cx="329.02" cy="431.83" r="1.75" fill="#111"/><circle cx="335.06" cy="433.68" r="1.75" fill="#111"/><circle cx="341.09" cy="435.52" r="1.75" fill="#111"/><path d="M227.1,415.3 L227.9,412.2 L229.0,407.7 L230.3,402.7 L231.7,398.0 L233.0,394.5 L234.3,392.3 L235.6,390.7 L236.9,389.7 L238.2,389.2 L239.5,388.9 L240.7,389.0 L241.8,389.7 L242.9,390.6 L244.0,391.7 L245.1,392.6 L246.3,393.5 L247.5,394.4 L248.8,395.4 L250.0,396.3 L251.2,397.1 L252.4,397.8 L253.5,398.4 L254.7,399.0 L255.9,399.5 L257.1,400.1 L258.4,400.7 L259.7,401.3 L261.0,402.0 L262.3,402.6 L263.6,403.2 L264.9,403.8 L266.1,404.4 L267.4,404.9 L268.6,405.5 L269.8,406.0 L271.0,406.5 L272.2,406.9 L273.3,407.3 L274.5,407.7 L275.7,408.2 L276.8,408.7 L277.7,409.2 L278.8,409.7 L280.2,410.4 L282.2,411.2 L285.0,412.2 L288.4,413.4 L292.2,414.7 L296.1,416.1 L300.0,417.5 L303.8,419.0 L307.7,420.5 L311.8,422.1 L315.8,423.8 L320.0,425.5 L324.6,427.5 L329.7,429.6 L334.7,431.8 L339.0,433.7 L342.0,435.0" fill="none" stroke="#bb1010" stroke-width="1.0" stroke-linejoin="round" stroke-linecap="round" opacity="1.0"/><path d="M230.05,413.25 L225.94,411.15 L225.94,415.35Z" fill="#bb1010"/><path d="M236.08,393.22 L231.98,391.12 L231.98,395.32Z" fill="#bb1010"/><path d="M242.12,388.90 L238.01,386.80 L238.01,391.00Z" fill="#bb1010"/><path d="M248.16,393.06 L244.05,390.96 L244.05,395.16Z" fill="#bb1010"/><path d="M254.19,397.45 L250.08,395.35 L250.08,399.55Z" fill="#bb1010"/><path d="M260.23,400.45 L256.12,398.35 L256.12,402.55Z" fill="#bb1010"/><path d="M266.26,403.31 L262.15,401.21 L262.15,405.41Z" fill="#bb1010"/><path d="M272.30,406.03 L268.19,403.93 L268.19,408.13Z" fill="#bb1010"/><path d="M278.33,408.29 L274.22,406.19 L274.22,410.39Z" fill="#bb1010"/><path d="M284.37,411.10 L280.26,409.00 L280.26,413.20Z" fill="#bb1010"/><path d="M290.40,413.26 L286.29,411.16 L286.29,415.36Z" fill="#bb1010"/><path d="M296.44,415.34 L292.33,413.24 L292.33,417.44Z" fill="#bb1010"/><path d="M302.47,417.52 L298.36,415.42 L298.36,419.62Z" fill="#bb1010"/><path d="M308.51,419.85 L304.40,417.75 L304.40,421.95Z" fill="#bb1010"/><path d="M314.54,422.26 L310.43,420.16 L310.43,424.36Z" fill="#bb1010"/><path d="M320.58,424.74 L316.47,422.64 L316.47,426.84Z" fill="#bb1010"/><path d="M326.61,427.27 L322.50,425.17 L322.50,429.37Z" fill="#bb1010"/><path d="M332.65,429.87 L328.54,427.77 L328.54,431.97Z" fill="#bb1010"/><path d="M338.68,432.50 L334.57,430.40 L334.57,434.60Z" fill="#bb1010"/><path d="M228.4,446.2 L229.1,445.8 L230.2,445.3 L231.4,444.7 L232.7,444.2 L233.9,443.8 L235.0,443.6 L236.1,443.6 L237.3,443.7 L238.5,443.8 L240.0,444.0 L241.8,444.3 L243.7,444.6 L245.8,445.0 L247.9,445.5 L250.0,446.0 L251.8,446.5 L253.3,447.0 L255.0,447.6 L257.1,448.4 L260.0,449.5 L264.0,451.0 L269.0,452.9 L274.3,454.9 L279.5,456.8 L284.0,458.5 L287.6,459.8 L290.8,460.9 L293.7,461.9 L296.7,462.9 L300.0,464.0 L303.7,465.2 L307.6,466.4 L311.7,467.6 L315.8,468.8 L320.0,470.0 L324.6,471.3 L329.7,472.7 L334.7,474.0 L339.0,475.2 L342.0,476.0" fill="none" stroke="#e6b68a" stroke-width="1.0" stroke-linejoin="round" stroke-linecap="round" opacity="1.0"/><path d="M231.4,443.9L235.3,441.9L235.3,445.9Z" fill="#e6b68a"/><path d="M237.4,444.0L241.3,442.0L241.3,446.0Z" fill="#e6b68a"/><path d="M243.4,445.0L247.4,443.0L247.4,447.0Z" fill="#e6b68a"/><path d="M249.5,446.5L253.4,444.5L253.4,448.5Z" fill="#e6b68a"/><path d="M255.5,448.7L259.4,446.7L259.4,450.7Z" fill="#e6b68a"/><path d="M261.5,450.9L265.5,448.9L265.5,452.9Z" fill="#e6b68a"/><path d="M267.6,453.2L271.5,451.2L271.5,455.2Z" fill="#e6b68a"/><path d="M273.6,455.5L277.5,453.5L277.5,457.5Z" fill="#e6b68a"/><path d="M279.6,457.7L283.6,455.7L283.6,459.7Z" fill="#e6b68a"/><path d="M285.7,459.9L289.6,457.9L289.6,461.9Z" fill="#e6b68a"/><path d="M291.7,462.0L295.6,460.0L295.6,464.0Z" fill="#e6b68a"/><path d="M297.8,464.0L301.7,462.0L301.7,466.0Z" fill="#e6b68a"/><path d="M303.8,465.9L307.7,463.9L307.7,467.9Z" fill="#e6b68a"/><path d="M309.8,467.7L313.7,465.7L313.7,469.7Z" fill="#e6b68a"/><path d="M315.9,469.5L319.8,467.5L319.8,471.5Z" fill="#e6b68a"/><path d="M321.9,471.2L325.8,469.2L325.8,473.2Z" fill="#e6b68a"/><path d="M327.9,472.8L331.8,470.8L331.8,474.8Z" fill="#e6b68a"/><path d="M334.0,474.5L337.9,472.5L337.9,476.5Z" fill="#e6b68a"/><path d="M228.4,464.2 L229.3,463.4 L230.6,462.2 L232.1,460.8 L233.6,459.6 L234.9,458.6 L236.1,458.0 L237.2,457.6 L238.2,457.3 L239.3,457.1 L240.4,456.8 L241.5,456.4 L242.6,456.0 L243.7,455.6 L244.8,455.2 L246.0,454.9 L247.2,454.6 L248.5,454.4 L249.9,454.2 L251.2,454.0 L252.5,454.0 L253.8,454.0 L255.1,454.2 L256.5,454.4 L257.8,454.6 L259.0,454.9 L260.2,455.2 L261.3,455.6 L262.4,456.0 L263.5,456.4 L264.6,456.8 L265.7,457.2 L266.8,457.5 L267.8,457.9 L268.9,458.2 L270.1,458.6 L271.3,459.0 L272.6,459.4 L274.0,459.7 L275.3,460.1 L276.6,460.5 L277.7,460.8 L278.7,461.1 L279.8,461.4 L281.1,461.8 L283.1,462.4 L285.8,463.2 L289.0,464.2 L292.5,465.3 L296.3,466.4 L300.0,467.5 L303.8,468.6 L307.7,469.7 L311.7,470.8 L315.8,471.9 L320.0,473.0 L324.6,474.1 L329.7,475.3 L334.7,476.4 L339.0,477.4 L342.0,478.1" fill="none" stroke="#1ec800" stroke-width="1.0" stroke-linejoin="round" stroke-linecap="round" opacity="1.0"/><path d="M233.67,462.01 L235.87,457.71 L231.47,457.71Z" fill="#1ec800"/><path d="M239.70,459.53 L241.90,455.23 L237.50,455.23Z" fill="#1ec800"/><path d="M245.74,457.50 L247.94,453.19 L243.54,453.19Z" fill="#1ec800"/><path d="M251.78,456.55 L253.97,452.25 L249.58,452.25Z" fill="#1ec800"/><path d="M257.81,457.17 L260.01,452.87 L255.61,452.87Z" fill="#1ec800"/><path d="M263.84,459.07 L266.04,454.76 L261.64,454.76Z" fill="#1ec800"/><path d="M269.88,461.06 L272.08,456.76 L267.68,456.76Z" fill="#1ec800"/><path d="M275.91,462.83 L278.11,458.53 L273.71,458.53Z" fill="#1ec800"/><path d="M281.95,464.59 L284.15,460.29 L279.75,460.29Z" fill="#1ec800"/><path d="M287.99,466.42 L290.19,462.12 L285.79,462.12Z" fill="#1ec800"/><path d="M294.02,468.26 L296.22,463.96 L291.82,463.96Z" fill="#1ec800"/><path d="M300.06,470.05 L302.25,465.74 L297.86,465.74Z" fill="#1ec800"/><path d="M306.09,471.77 L308.29,467.47 L303.89,467.47Z" fill="#1ec800"/><path d="M312.12,473.45 L314.32,469.15 L309.93,469.15Z" fill="#1ec800"/><path d="M318.16,475.06 L320.36,470.76 L315.96,470.76Z" fill="#1ec800"/><path d="M324.20,476.55 L326.40,472.25 L322.00,472.25Z" fill="#1ec800"/><path d="M330.23,477.96 L332.43,473.66 L328.03,473.66Z" fill="#1ec800"/><path d="M336.27,479.33 L338.47,475.03 L334.07,475.03Z" fill="#1ec800"/><path d="M228.4,458.6 L229.3,456.9 L230.6,454.4 L232.1,451.6 L233.6,449.2 L234.9,447.5 L235.9,446.8 L236.7,446.7 L237.5,447.0 L238.5,447.5 L240.0,448.0 L241.7,448.5 L243.6,449.1 L245.8,449.8 L248.7,450.8 L252.5,452.1 L257.8,453.9 L264.5,456.0 L271.7,458.4 L278.5,460.6 L284.1,462.4 L288.2,463.7 L291.4,464.6 L294.1,465.4 L296.8,466.1 L300.0,467.0 L303.7,468.0 L307.6,469.1 L311.7,470.3 L315.8,471.4 L320.0,472.5 L324.6,473.7 L329.7,475.0 L334.7,476.2 L339.0,477.3 L342.0,478.0" fill="none" stroke="#8cf03c" stroke-width="1.0" stroke-linejoin="round" stroke-linecap="round" opacity="1.0"/><path d="M233.7,446.7L235.7,450.6L231.7,450.6Z" fill="#8cf03c"/><path d="M239.7,445.6L241.7,449.5L237.7,449.5Z" fill="#8cf03c"/><path d="M245.7,447.5L247.7,451.4L243.7,451.4Z" fill="#8cf03c"/><path d="M251.8,449.6L253.8,453.5L249.8,453.5Z" fill="#8cf03c"/><path d="M257.8,451.5L259.8,455.5L255.8,455.5Z" fill="#8cf03c"/><path d="M263.8,453.5L265.8,457.4L261.8,457.4Z" fill="#8cf03c"/><path d="M269.9,455.5L271.9,459.4L267.9,459.4Z" fill="#8cf03c"/><path d="M275.9,457.5L277.9,461.4L273.9,461.4Z" fill="#8cf03c"/><path d="M281.9,459.4L283.9,463.3L279.9,463.3Z" fill="#8cf03c"/><path d="M288.0,461.3L290.0,465.2L286.0,465.2Z" fill="#8cf03c"/><path d="M294.0,463.0L296.0,467.0L292.0,467.0Z" fill="#8cf03c"/><path d="M300.1,464.7L302.1,468.6L298.1,468.6Z" fill="#8cf03c"/><path d="M306.1,466.4L308.1,470.3L304.1,470.3Z" fill="#8cf03c"/><path d="M312.1,468.1L314.1,472.0L310.1,472.0Z" fill="#8cf03c"/><path d="M318.2,469.7L320.2,473.6L316.2,473.6Z" fill="#8cf03c"/><path d="M324.2,471.3L326.2,475.2L322.2,475.2Z" fill="#8cf03c"/><path d="M330.2,472.8L332.2,476.7L328.2,476.7Z" fill="#8cf03c"/><path d="M336.3,474.3L338.3,478.2L334.3,478.2Z" fill="#8cf03c"/><path d="M228.4,454.9 L229.3,454.3 L230.6,453.5 L232.1,452.6 L233.6,451.8 L234.9,451.2 L236.0,451.0 L237.1,451.0 L238.2,451.1 L239.3,451.2 L240.4,451.2 L241.5,451.1 L242.6,450.9 L243.8,450.8 L245.2,450.7 L246.9,450.7 L248.9,450.7 L251.1,450.8 L253.7,450.9 L256.6,451.3 L260.0,452.0 L264.2,453.1 L269.2,454.7 L274.5,456.4 L279.5,458.1 L284.0,459.5 L287.6,460.6 L290.8,461.6 L293.7,462.5 L296.7,463.5 L300.0,464.5 L303.7,465.6 L307.6,466.8 L311.7,468.1 L315.8,469.3 L320.0,470.5 L324.6,471.8 L329.7,473.2 L334.7,474.5 L339.0,475.7 L342.0,476.5" fill="none" stroke="#bb1010" stroke-width="1.0" stroke-linejoin="round" stroke-linecap="round" opacity="1.0"/><path d="M236.08,451.71 L231.98,449.61 L231.98,453.81Z" fill="#bb1010"/><path d="M242.12,451.20 L238.01,449.10 L238.01,453.30Z" fill="#bb1010"/><path d="M248.16,450.68 L244.05,448.58 L244.05,452.78Z" fill="#bb1010"/><path d="M254.19,450.82 L250.08,448.72 L250.08,452.92Z" fill="#bb1010"/><path d="M260.23,451.54 L256.12,449.44 L256.12,453.64Z" fill="#bb1010"/><path d="M266.26,453.03 L262.15,450.93 L262.15,455.13Z" fill="#bb1010"/><path d="M272.30,454.89 L268.19,452.79 L268.19,456.99Z" fill="#bb1010"/><path d="M278.33,456.87 L274.22,454.77 L274.22,458.97Z" fill="#bb1010"/><path d="M284.37,458.85 L280.26,456.75 L280.26,460.95Z" fill="#bb1010"/><path d="M290.40,460.75 L286.29,458.65 L286.29,462.85Z" fill="#bb1010"/><path d="M296.44,462.65 L292.33,460.55 L292.33,464.75Z" fill="#bb1010"/><path d="M302.47,464.52 L298.36,462.42 L298.36,466.62Z" fill="#bb1010"/><path d="M308.51,466.36 L304.40,464.26 L304.40,468.46Z" fill="#bb1010"/><path d="M314.54,468.19 L310.43,466.09 L310.43,470.29Z" fill="#bb1010"/><path d="M320.58,469.97 L316.47,467.87 L316.47,472.07Z" fill="#bb1010"/><path d="M326.61,471.68 L322.50,469.58 L322.50,473.78Z" fill="#bb1010"/><path d="M332.65,473.33 L328.54,471.23 L328.54,475.43Z" fill="#bb1010"/><path d="M338.68,474.96 L334.57,472.86 L334.57,477.06Z" fill="#bb1010"/><path d="M226.5,467.9 L227.5,464.5 L228.9,459.6 L230.5,454.0 L232.1,448.9 L233.4,445.1 L234.4,442.9 L235.3,441.6 L236.1,440.9 L236.9,440.5 L237.6,440.1 L238.3,439.8 L238.9,439.7 L239.6,439.8 L240.2,440.0 L240.8,440.1 L241.4,440.2 L242.1,440.4 L242.7,440.6 L243.4,440.8 L244.1,441.0 L244.8,441.3 L245.6,441.5 L246.4,441.8 L247.1,442.2 L247.9,442.5 L248.6,442.8 L249.4,443.2 L250.1,443.6 L250.9,443.9 L251.6,444.3 L252.3,444.7 L253.1,445.1 L253.8,445.5 L254.6,445.9 L255.3,446.2 L256.0,446.5 L256.8,446.7 L257.5,447.0 L258.3,447.2 L259.0,447.5 L259.7,447.8 L260.5,448.2 L261.2,448.6 L262.0,449.0 L262.7,449.4 L263.4,449.8 L264.2,450.1 L264.9,450.5 L265.7,450.8 L266.4,451.2 L267.1,451.6 L267.9,451.9 L268.6,452.3 L269.4,452.7 L270.1,453.1 L270.9,453.6 L271.6,454.1 L272.4,454.6 L273.1,455.1 L273.9,455.5 L274.6,455.8 L275.3,456.1 L275.9,456.3 L276.7,456.5 L277.6,456.8 L278.6,457.1 L279.5,457.3 L280.7,457.6 L282.2,458.0 L284.1,458.6 L286.6,459.4 L289.6,460.3 L292.9,461.3 L296.4,462.4 L300.0,463.5 L303.7,464.6 L307.6,465.8 L311.7,467.1 L315.8,468.3 L320.0,469.5 L324.6,470.8 L329.7,472.2 L334.7,473.5 L339.0,474.6 L342.0,475.4" fill="none" stroke="#111" stroke-width="0.9" stroke-linejoin="round" stroke-linecap="round" opacity="1.0"/><circle cx="226.43" cy="467.90" r="1.75" fill="#111"/><circle cx="230.05" cy="455.58" r="1.75" fill="#111"/><circle cx="233.67" cy="444.47" r="1.75" fill="#111"/><circle cx="237.29" cy="440.28" r="1.75" fill="#111"/><circle cx="240.91" cy="440.12" r="1.75" fill="#111"/><circle cx="244.53" cy="441.15" r="1.75" fill="#111"/><circle cx="248.15" cy="442.61" r="1.75" fill="#111"/><circle cx="251.78" cy="444.39" r="1.75" fill="#111"/><circle cx="255.40" cy="446.24" r="1.75" fill="#111"/><circle cx="259.02" cy="447.51" r="1.75" fill="#111"/><circle cx="262.64" cy="449.37" r="1.75" fill="#111"/><circle cx="266.26" cy="451.13" r="1.75" fill="#111"/><circle cx="269.88" cy="452.98" r="1.75" fill="#111"/><circle cx="273.50" cy="455.29" r="1.75" fill="#111"/><circle cx="277.12" cy="456.66" r="1.75" fill="#111"/><circle cx="280.74" cy="457.65" r="1.75" fill="#111"/><circle cx="284.36" cy="458.68" r="1.75" fill="#111"/><circle cx="287.99" cy="459.79" r="1.75" fill="#111"/><circle cx="291.61" cy="460.91" r="1.75" fill="#111"/><circle cx="295.23" cy="462.04" r="1.75" fill="#111"/><circle cx="298.85" cy="463.15" r="1.75" fill="#111"/><circle cx="302.47" cy="464.25" r="1.75" fill="#111"/><circle cx="306.09" cy="465.36" r="1.75" fill="#111"/><circle cx="309.71" cy="466.47" r="1.75" fill="#111"/><circle cx="313.33" cy="467.56" r="1.75" fill="#111"/><circle cx="316.95" cy="468.62" r="1.75" fill="#111"/><circle cx="320.57" cy="469.66" r="1.75" fill="#111"/><circle cx="324.20" cy="470.66" r="1.75" fill="#111"/><circle cx="327.82" cy="471.64" r="1.75" fill="#111"/><circle cx="331.44" cy="472.61" r="1.75" fill="#111"/><circle cx="335.06" cy="473.57" r="1.75" fill="#111"/><circle cx="338.68" cy="474.52" r="1.75" fill="#111"/>
</svg></body></html>
